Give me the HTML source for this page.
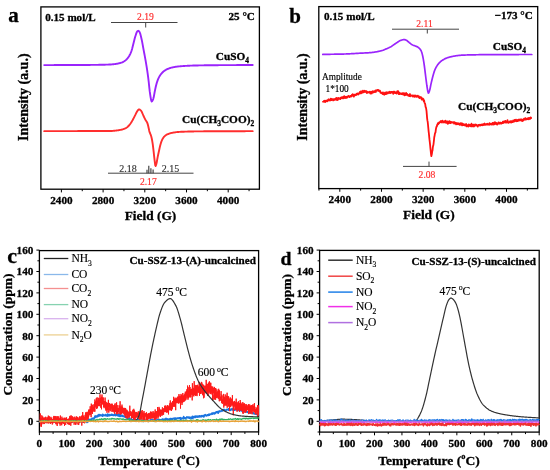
<!DOCTYPE html>
<html><head><meta charset="utf-8"><style>
html,body{margin:0;padding:0;background:#fff;}
body{width:550px;height:470px;overflow:hidden;}
svg{display:block;font-family:"Liberation Serif", serif;will-change:transform;}
</style></head><body>
<svg width="550" height="470" viewBox="0 0 550 470">
<rect width="550" height="470" fill="#fff"/>
<line x1="61.4" y1="189.2" x2="61.4" y2="192.39999999999998" stroke="#000" stroke-width="1"/>
<text x="61.4" y="204.2" font-size="11.2" font-weight="700" text-anchor="middle" fill="#000" stroke="#000" stroke-width="0.3" >2400</text>
<line x1="103.1" y1="189.2" x2="103.1" y2="192.39999999999998" stroke="#000" stroke-width="1"/>
<text x="103.1" y="204.2" font-size="11.2" font-weight="700" text-anchor="middle" fill="#000" stroke="#000" stroke-width="0.3" >2800</text>
<line x1="144.8" y1="189.2" x2="144.8" y2="192.39999999999998" stroke="#000" stroke-width="1"/>
<text x="144.8" y="204.2" font-size="11.2" font-weight="700" text-anchor="middle" fill="#000" stroke="#000" stroke-width="0.3" >3200</text>
<line x1="186.5" y1="189.2" x2="186.5" y2="192.39999999999998" stroke="#000" stroke-width="1"/>
<text x="186.5" y="204.2" font-size="11.2" font-weight="700" text-anchor="middle" fill="#000" stroke="#000" stroke-width="0.3" >3600</text>
<line x1="228.20000000000002" y1="189.2" x2="228.20000000000002" y2="192.39999999999998" stroke="#000" stroke-width="1"/>
<text x="228.20000000000002" y="204.2" font-size="11.2" font-weight="700" text-anchor="middle" fill="#000" stroke="#000" stroke-width="0.3" >4000</text>
<line x1="82.25" y1="189.2" x2="82.25" y2="191.2" stroke="#000" stroke-width="1"/>
<line x1="123.94999999999999" y1="189.2" x2="123.94999999999999" y2="191.2" stroke="#000" stroke-width="1"/>
<line x1="165.65" y1="189.2" x2="165.65" y2="191.2" stroke="#000" stroke-width="1"/>
<line x1="207.35000000000002" y1="189.2" x2="207.35000000000002" y2="191.2" stroke="#000" stroke-width="1"/>
<line x1="249.05" y1="189.2" x2="249.05" y2="191.2" stroke="#000" stroke-width="1"/>
<rect x="40.9" y="6.9" width="218.49999999999997" height="182.29999999999998" fill="none" stroke="#000" stroke-width="1.3"/>
<text x="8.3" y="22.4" font-size="21" font-weight="700" text-anchor="start" fill="#000" stroke="#000" stroke-width="0.3" >a</text>
<text x="45.2" y="20.6" font-size="11.1" font-weight="700" text-anchor="start" fill="#000" stroke="#000" stroke-width="0.3" >0.15 mol/L</text>
<text x="254.9" y="20.2" font-size="11.1" font-weight="700" text-anchor="end" fill="#000" stroke="#000" stroke-width="0.3" >25 °C</text>
<text x="150.5" y="220.2" font-size="13.4" font-weight="700" text-anchor="middle" fill="#000" stroke="#000" stroke-width="0.3" >Field (G)</text>
<text x="28.3" y="97.2" font-size="14" font-weight="700" text-anchor="middle" fill="#000" stroke="#000" stroke-width="0.3" transform="rotate(-90 28.3 97.2)">Intensity (a.u.)</text>
<line x1="111" y1="22.5" x2="177.5" y2="22.5" stroke="#444" stroke-width="1"/>
<line x1="145.7" y1="22.5" x2="145.7" y2="27.5" stroke="#444" stroke-width="1"/>
<text x="145.5" y="20.0" font-size="9.6" font-weight="400" text-anchor="middle" fill="#ff2a2a" stroke="#ff2a2a" stroke-width="0.15" >2.19</text>
<text x="249" y="59.5" font-size="11.3" font-weight="700" text-anchor="end" fill="#000" stroke="#000" stroke-width="0.3" >CuSO<tspan font-size="7.46" dy="3.39">4</tspan></text>
<text x="254.2" y="123.0" font-size="11.3" font-weight="700" text-anchor="end" fill="#000" stroke="#000" stroke-width="0.3" >Cu(CH<tspan font-size="7.46" dy="3.39">3</tspan><tspan dy="-3.39">COO)</tspan><tspan font-size="7.46" dy="3.39">2</tspan></text>
<line x1="108" y1="173.2" x2="193.5" y2="173.2" stroke="#444" stroke-width="1"/>
<line x1="147.0" y1="173.2" x2="147.0" y2="169.7" stroke="#333" stroke-width="1.1"/>
<line x1="148.8" y1="173.2" x2="148.8" y2="165.7" stroke="#333" stroke-width="1.1"/>
<line x1="150.9" y1="173.2" x2="150.9" y2="168.2" stroke="#333" stroke-width="1.1"/>
<line x1="153.1" y1="173.2" x2="153.1" y2="169.39999999999998" stroke="#333" stroke-width="1.1"/>
<text x="128" y="171.5" font-size="10" font-weight="400" text-anchor="middle" fill="#333" stroke="#333" stroke-width="0.15" >2.18</text>
<text x="170.5" y="171.5" font-size="10" font-weight="400" text-anchor="middle" fill="#333" stroke="#333" stroke-width="0.15" >2.15</text>
<text x="148.3" y="184.6" font-size="9.6" font-weight="400" text-anchor="middle" fill="#ff2a2a" stroke="#ff2a2a" stroke-width="0.15" >2.17</text>
<path d="M44.20 65.10 L44.70 65.10 L45.20 65.09 L45.70 65.09 L46.20 65.09 L46.70 65.09 L47.20 65.09 L47.70 65.09 L48.20 65.09 L48.70 65.09 L49.20 65.08 L49.70 65.08 L50.20 65.08 L50.70 65.08 L51.20 65.08 L51.70 65.08 L52.20 65.08 L52.70 65.08 L53.20 65.08 L53.70 65.08 L54.20 65.07 L54.70 65.07 L55.20 65.07 L55.70 65.07 L56.20 65.07 L56.70 65.07 L57.20 65.07 L57.70 65.07 L58.20 65.07 L58.70 65.06 L59.20 65.06 L59.70 65.06 L60.20 65.06 L60.70 65.06 L61.20 65.06 L61.70 65.06 L62.20 65.06 L62.70 65.06 L63.20 65.05 L63.70 65.05 L64.20 65.05 L64.70 65.05 L65.20 65.05 L65.70 65.05 L66.20 65.05 L66.70 65.05 L67.20 65.04 L67.70 65.04 L68.20 65.04 L68.70 65.04 L69.20 65.04 L69.70 65.04 L70.20 65.04 L70.70 65.03 L71.20 65.03 L71.70 65.03 L72.20 65.03 L72.70 65.03 L73.20 65.03 L73.70 65.02 L74.20 65.02 L74.70 65.02 L75.20 65.02 L75.70 65.02 L76.20 65.02 L76.70 65.01 L77.20 65.01 L77.70 65.01 L78.20 65.01 L78.70 65.01 L79.20 65.00 L79.70 65.00 L80.20 65.00 L80.70 65.00 L81.20 64.99 L81.70 64.99 L82.20 64.99 L82.70 64.99 L83.20 64.98 L83.70 64.98 L84.20 64.98 L84.70 64.97 L85.20 64.97 L85.70 64.97 L86.20 64.96 L86.70 64.96 L87.20 64.95 L87.70 64.95 L88.20 64.95 L88.70 64.94 L89.20 64.94 L89.70 64.93 L90.20 64.93 L90.70 64.92 L91.20 64.92 L91.70 64.91 L92.20 64.91 L92.70 64.90 L93.20 64.89 L93.70 64.89 L94.20 64.88 L94.70 64.88 L95.20 64.87 L95.70 64.86 L96.20 64.86 L96.70 64.85 L97.20 64.84 L97.70 64.83 L98.20 64.83 L98.70 64.82 L99.20 64.81 L99.70 64.80 L100.20 64.80 L100.70 64.79 L101.20 64.78 L101.70 64.77 L102.20 64.76 L102.70 64.75 L103.20 64.74 L103.70 64.73 L104.20 64.71 L104.70 64.70 L105.20 64.68 L105.70 64.67 L106.20 64.65 L106.70 64.64 L107.20 64.62 L107.70 64.60 L108.20 64.58 L108.70 64.56 L109.20 64.54 L109.70 64.51 L110.20 64.49 L110.70 64.46 L111.20 64.43 L111.70 64.39 L112.20 64.35 L112.70 64.30 L113.20 64.25 L113.70 64.19 L114.20 64.14 L114.70 64.07 L115.20 64.01 L115.70 63.94 L116.20 63.87 L116.70 63.79 L117.20 63.71 L117.70 63.61 L118.20 63.51 L118.70 63.40 L119.20 63.28 L119.70 63.15 L120.20 63.01 L120.70 62.86 L121.20 62.70 L121.70 62.53 L122.20 62.33 L122.70 62.10 L123.20 61.83 L123.70 61.55 L124.20 61.23 L124.70 60.89 L125.20 60.53 L125.70 60.14 L126.20 59.71 L126.70 59.23 L127.20 58.69 L127.70 58.10 L128.20 57.45 L128.70 56.75 L129.20 55.98 L129.70 55.09 L130.20 54.06 L130.70 52.90 L131.20 51.62 L131.70 50.20 L132.20 48.46 L132.70 46.48 L133.20 44.46 L133.70 42.54 L134.20 40.56 L134.70 38.59 L135.20 36.76 L135.70 35.19 L136.20 33.65 L136.70 32.33 L137.20 31.50 L137.70 31.05 L138.20 30.81 L138.70 30.97 L139.20 31.52 L139.70 32.27 L140.20 33.56 L140.70 35.40 L141.20 37.52 L141.70 39.68 L142.20 42.15 L142.70 44.87 L143.20 47.66 L143.70 50.37 L144.20 53.02 L144.70 55.67 L145.20 58.36 L145.70 61.16 L146.20 64.09 L146.70 67.19 L147.20 70.43 L147.70 73.87 L148.20 77.53 L148.70 81.75 L149.20 86.60 L149.70 91.13 L150.20 94.58 L150.70 97.84 L151.20 100.44 L151.70 101.50 L152.20 101.15 L152.70 100.25 L153.20 99.05 L153.70 97.31 L154.20 94.59 L154.70 91.79 L155.20 89.40 L155.70 87.05 L156.20 84.91 L156.70 83.13 L157.20 81.58 L157.70 80.19 L158.20 78.97 L158.70 77.88 L159.20 76.90 L159.70 76.00 L160.20 75.20 L160.70 74.50 L161.20 73.87 L161.70 73.27 L162.20 72.72 L162.70 72.22 L163.20 71.75 L163.70 71.33 L164.20 70.95 L164.70 70.60 L165.20 70.27 L165.70 69.97 L166.20 69.69 L166.70 69.43 L167.20 69.19 L167.70 68.97 L168.20 68.75 L168.70 68.55 L169.20 68.35 L169.70 68.17 L170.20 68.00 L170.70 67.84 L171.20 67.70 L171.70 67.57 L172.20 67.46 L172.70 67.35 L173.20 67.25 L173.70 67.15 L174.20 67.06 L174.70 66.97 L175.20 66.89 L175.70 66.81 L176.20 66.74 L176.70 66.66 L177.20 66.60 L177.70 66.53 L178.20 66.48 L178.70 66.42 L179.20 66.37 L179.70 66.33 L180.20 66.28 L180.70 66.24 L181.20 66.20 L181.70 66.17 L182.20 66.13 L182.70 66.09 L183.20 66.06 L183.70 66.02 L184.20 65.99 L184.70 65.95 L185.20 65.92 L185.70 65.89 L186.20 65.86 L186.70 65.83 L187.20 65.81 L187.70 65.78 L188.20 65.75 L188.70 65.73 L189.20 65.71 L189.70 65.68 L190.20 65.66 L190.70 65.64 L191.20 65.62 L191.70 65.60 L192.20 65.58 L192.70 65.57 L193.20 65.55 L193.70 65.53 L194.20 65.52 L194.70 65.51 L195.20 65.50 L195.70 65.48 L196.20 65.47 L196.70 65.46 L197.20 65.45 L197.70 65.44 L198.20 65.43 L198.70 65.42 L199.20 65.41 L199.70 65.40 L200.20 65.39 L200.70 65.38 L201.20 65.37 L201.70 65.36 L202.20 65.35 L202.70 65.35 L203.20 65.34 L203.70 65.33 L204.20 65.32 L204.70 65.31 L205.20 65.31 L205.70 65.30 L206.20 65.29 L206.70 65.29 L207.20 65.28 L207.70 65.27 L208.20 65.27 L208.70 65.26 L209.20 65.26 L209.70 65.25 L210.20 65.25 L210.70 65.24 L211.20 65.23 L211.70 65.23 L212.20 65.22 L212.70 65.22 L213.20 65.22 L213.70 65.21 L214.20 65.21 L214.70 65.20 L215.20 65.20 L215.70 65.19 L216.20 65.19 L216.70 65.19 L217.20 65.18 L217.70 65.18 L218.20 65.18 L218.70 65.17 L219.20 65.17 L219.70 65.16 L220.20 65.16 L220.70 65.16 L221.20 65.15 L221.70 65.15 L222.20 65.15 L222.70 65.15 L223.20 65.14 L223.70 65.14 L224.20 65.14 L224.70 65.13 L225.20 65.13 L225.70 65.13 L226.20 65.12 L226.70 65.12 L227.20 65.12 L227.70 65.12 L228.20 65.11 L228.70 65.11 L229.20 65.11 L229.70 65.11 L230.20 65.10 L230.70 65.10 L231.20 65.10 L231.70 65.10 L232.20 65.09 L232.70 65.09 L233.20 65.09 L233.70 65.09 L234.20 65.09 L234.70 65.08 L235.20 65.08 L235.70 65.08 L236.20 65.08 L236.70 65.07 L237.20 65.07 L237.70 65.07 L238.20 65.07 L238.70 65.07 L239.20 65.06 L239.70 65.06 L240.20 65.06 L240.70 65.06 L241.20 65.05 L241.70 65.05 L242.20 65.05 L242.70 65.05 L243.20 65.05 L243.70 65.04 L244.20 65.04 L244.70 65.04 L245.20 65.04 L245.70 65.04 L246.20 65.03 L246.70 65.03 L247.20 65.03 L247.70 65.03 L248.20 65.02 L248.70 65.02 L249.20 65.02 L249.70 65.02 L250.20 65.01 L250.70 65.01 L251.20 65.01 L251.70 65.01 L252.20 65.00 L252.70 65.00" fill="none" stroke="#9a24fc" stroke-width="1.9" stroke-linejoin="round" stroke-linecap="round" />
<path d="M44.20 131.15 L44.70 131.15 L45.20 131.15 L45.70 131.15 L46.20 131.14 L46.70 131.14 L47.20 131.14 L47.70 131.14 L48.20 131.14 L48.70 131.14 L49.20 131.14 L49.70 131.14 L50.20 131.14 L50.70 131.13 L51.20 131.13 L51.70 131.13 L52.20 131.13 L52.70 131.13 L53.20 131.13 L53.70 131.13 L54.20 131.13 L54.70 131.13 L55.20 131.12 L55.70 131.12 L56.20 131.12 L56.70 131.12 L57.20 131.12 L57.70 131.12 L58.20 131.12 L58.70 131.12 L59.20 131.12 L59.70 131.11 L60.20 131.11 L60.70 131.11 L61.20 131.11 L61.70 131.11 L62.20 131.11 L62.70 131.11 L63.20 131.11 L63.70 131.11 L64.20 131.10 L64.70 131.10 L65.20 131.10 L65.70 131.10 L66.20 131.10 L66.70 131.10 L67.20 131.10 L67.70 131.10 L68.20 131.09 L68.70 131.09 L69.20 131.09 L69.70 131.09 L70.20 131.09 L70.70 131.09 L71.20 131.09 L71.70 131.09 L72.20 131.09 L72.70 131.08 L73.20 131.08 L73.70 131.08 L74.20 131.08 L74.70 131.08 L75.20 131.08 L75.70 131.08 L76.20 131.08 L76.70 131.08 L77.20 131.08 L77.70 131.07 L78.20 131.07 L78.70 131.07 L79.20 131.07 L79.70 131.07 L80.20 131.07 L80.70 131.07 L81.20 131.07 L81.70 131.07 L82.20 131.07 L82.70 131.07 L83.20 131.06 L83.70 131.06 L84.20 131.06 L84.70 131.06 L85.20 131.06 L85.70 131.06 L86.20 131.06 L86.70 131.06 L87.20 131.06 L87.70 131.06 L88.20 131.06 L88.70 131.06 L89.20 131.06 L89.70 131.06 L90.20 131.06 L90.70 131.05 L91.20 131.05 L91.70 131.05 L92.20 131.05 L92.70 131.05 L93.20 131.05 L93.70 131.05 L94.20 131.05 L94.70 131.05 L95.20 131.05 L95.70 131.05 L96.20 131.05 L96.70 131.05 L97.20 131.05 L97.70 131.05 L98.20 131.05 L98.70 131.05 L99.20 131.05 L99.70 131.05 L100.20 131.05 L100.70 131.05 L101.20 131.05 L101.70 131.05 L102.20 131.05 L102.70 131.05 L103.20 131.05 L103.70 131.05 L104.20 131.05 L104.70 131.05 L105.20 131.05 L105.70 131.05 L106.20 131.05 L106.70 131.05 L107.20 131.05 L107.70 131.05 L108.20 131.05 L108.70 131.05 L109.20 131.05 L109.70 131.05 L110.20 131.05 L110.70 131.04 L111.20 131.02 L111.70 130.99 L112.20 130.95 L112.70 130.91 L113.20 130.86 L113.70 130.81 L114.20 130.76 L114.70 130.70 L115.20 130.64 L115.70 130.58 L116.20 130.53 L116.70 130.47 L117.20 130.41 L117.70 130.34 L118.20 130.27 L118.70 130.19 L119.20 130.11 L119.70 130.02 L120.20 129.93 L120.70 129.83 L121.20 129.72 L121.70 129.60 L122.20 129.47 L122.70 129.33 L123.20 129.17 L123.70 128.99 L124.20 128.79 L124.70 128.58 L125.20 128.35 L125.70 128.11 L126.20 127.84 L126.70 127.52 L127.20 127.15 L127.70 126.73 L128.20 126.26 L128.70 125.77 L129.20 125.24 L129.70 124.64 L130.20 123.97 L130.70 123.23 L131.20 122.45 L131.70 121.64 L132.20 120.82 L132.70 119.95 L133.20 119.03 L133.70 118.07 L134.20 117.10 L134.70 116.13 L135.20 115.16 L135.70 114.11 L136.20 113.06 L136.70 112.13 L137.20 111.35 L137.70 110.57 L138.20 109.88 L138.70 109.43 L139.20 109.37 L139.70 109.56 L140.20 109.91 L140.70 110.36 L141.20 110.88 L141.70 111.71 L142.20 112.80 L142.70 114.01 L143.20 115.20 L143.70 116.26 L144.20 117.29 L144.70 118.31 L145.20 119.29 L145.70 120.19 L146.20 120.94 L146.70 121.68 L147.20 122.62 L147.70 124.07 L148.20 126.09 L148.70 128.24 L149.20 130.65 L149.70 132.45 L150.20 133.64 L150.70 134.73 L151.20 136.19 L151.70 138.24 L152.20 140.79 L152.70 143.96 L153.20 147.87 L153.70 152.10 L154.20 156.89 L154.70 161.14 L155.20 165.15 L155.70 165.98 L156.20 164.50 L156.70 162.48 L157.20 159.62 L157.70 156.86 L158.20 154.53 L158.70 152.30 L159.20 149.99 L159.70 147.62 L160.20 145.45 L160.70 143.70 L161.20 142.16 L161.70 140.79 L162.20 139.62 L162.70 138.68 L163.20 137.90 L163.70 137.21 L164.20 136.62 L164.70 136.11 L165.20 135.69 L165.70 135.31 L166.20 134.98 L166.70 134.69 L167.20 134.44 L167.70 134.22 L168.20 134.01 L168.70 133.81 L169.20 133.63 L169.70 133.45 L170.20 133.29 L170.70 133.15 L171.20 133.02 L171.70 132.91 L172.20 132.81 L172.70 132.72 L173.20 132.63 L173.70 132.55 L174.20 132.47 L174.70 132.39 L175.20 132.32 L175.70 132.25 L176.20 132.18 L176.70 132.12 L177.20 132.07 L177.70 132.02 L178.20 131.97 L178.70 131.93 L179.20 131.89 L179.70 131.86 L180.20 131.84 L180.70 131.82 L181.20 131.80 L181.70 131.78 L182.20 131.75 L182.70 131.73 L183.20 131.71 L183.70 131.70 L184.20 131.68 L184.70 131.66 L185.20 131.64 L185.70 131.63 L186.20 131.61 L186.70 131.59 L187.20 131.58 L187.70 131.56 L188.20 131.55 L188.70 131.54 L189.20 131.52 L189.70 131.51 L190.20 131.50 L190.70 131.49 L191.20 131.48 L191.70 131.47 L192.20 131.45 L192.70 131.45 L193.20 131.44 L193.70 131.43 L194.20 131.42 L194.70 131.41 L195.20 131.40 L195.70 131.40 L196.20 131.39 L196.70 131.38 L197.20 131.38 L197.70 131.37 L198.20 131.37 L198.70 131.36 L199.20 131.36 L199.70 131.35 L200.20 131.35 L200.70 131.34 L201.20 131.34 L201.70 131.34 L202.20 131.33 L202.70 131.33 L203.20 131.33 L203.70 131.32 L204.20 131.32 L204.70 131.32 L205.20 131.32 L205.70 131.31 L206.20 131.31 L206.70 131.31 L207.20 131.30 L207.70 131.30 L208.20 131.30 L208.70 131.30 L209.20 131.29 L209.70 131.29 L210.20 131.29 L210.70 131.29 L211.20 131.28 L211.70 131.28 L212.20 131.28 L212.70 131.28 L213.20 131.27 L213.70 131.27 L214.20 131.27 L214.70 131.27 L215.20 131.26 L215.70 131.26 L216.20 131.26 L216.70 131.26 L217.20 131.26 L217.70 131.25 L218.20 131.25 L218.70 131.25 L219.20 131.25 L219.70 131.25 L220.20 131.25 L220.70 131.24 L221.20 131.24 L221.70 131.24 L222.20 131.24 L222.70 131.24 L223.20 131.24 L223.70 131.23 L224.20 131.23 L224.70 131.23 L225.20 131.23 L225.70 131.23 L226.20 131.23 L226.70 131.23 L227.20 131.22 L227.70 131.22 L228.20 131.22 L228.70 131.22 L229.20 131.22 L229.70 131.22 L230.20 131.22 L230.70 131.21 L231.20 131.21 L231.70 131.21 L232.20 131.21 L232.70 131.21 L233.20 131.21 L233.70 131.21 L234.20 131.21 L234.70 131.20 L235.20 131.20 L235.70 131.20 L236.20 131.20 L236.70 131.20 L237.20 131.20 L237.70 131.20 L238.20 131.20 L238.70 131.19 L239.20 131.19 L239.70 131.19 L240.20 131.19 L240.70 131.19 L241.20 131.19 L241.70 131.19 L242.20 131.18 L242.70 131.18 L243.20 131.18 L243.70 131.18 L244.20 131.18 L244.70 131.18 L245.20 131.18 L245.70 131.17 L246.20 131.17 L246.70 131.17 L247.20 131.17 L247.70 131.17 L248.20 131.17 L248.70 131.17 L249.20 131.16 L249.70 131.16 L250.20 131.16 L250.70 131.16 L251.20 131.16 L251.70 131.15 L252.20 131.15 L252.70 131.15" fill="none" stroke="#ff2e2e" stroke-width="1.9" stroke-linejoin="round" stroke-linecap="round" />
<line x1="339.8" y1="188.6" x2="339.8" y2="191.79999999999998" stroke="#000" stroke-width="1"/>
<text x="339.8" y="203.1" font-size="11.2" font-weight="700" text-anchor="middle" fill="#000" stroke="#000" stroke-width="0.3" >2400</text>
<line x1="381.475" y1="188.6" x2="381.475" y2="191.79999999999998" stroke="#000" stroke-width="1"/>
<text x="381.475" y="203.1" font-size="11.2" font-weight="700" text-anchor="middle" fill="#000" stroke="#000" stroke-width="0.3" >2800</text>
<line x1="423.15" y1="188.6" x2="423.15" y2="191.79999999999998" stroke="#000" stroke-width="1"/>
<text x="423.15" y="203.1" font-size="11.2" font-weight="700" text-anchor="middle" fill="#000" stroke="#000" stroke-width="0.3" >3200</text>
<line x1="464.82500000000005" y1="188.6" x2="464.82500000000005" y2="191.79999999999998" stroke="#000" stroke-width="1"/>
<text x="464.82500000000005" y="203.1" font-size="11.2" font-weight="700" text-anchor="middle" fill="#000" stroke="#000" stroke-width="0.3" >3600</text>
<line x1="506.5" y1="188.6" x2="506.5" y2="191.79999999999998" stroke="#000" stroke-width="1"/>
<text x="506.5" y="203.1" font-size="11.2" font-weight="700" text-anchor="middle" fill="#000" stroke="#000" stroke-width="0.3" >4000</text>
<line x1="318.96250000000003" y1="188.6" x2="318.96250000000003" y2="190.6" stroke="#000" stroke-width="1"/>
<line x1="360.6375" y1="188.6" x2="360.6375" y2="190.6" stroke="#000" stroke-width="1"/>
<line x1="402.3125" y1="188.6" x2="402.3125" y2="190.6" stroke="#000" stroke-width="1"/>
<line x1="443.9875" y1="188.6" x2="443.9875" y2="190.6" stroke="#000" stroke-width="1"/>
<line x1="485.6625" y1="188.6" x2="485.6625" y2="190.6" stroke="#000" stroke-width="1"/>
<line x1="527.3375" y1="188.6" x2="527.3375" y2="190.6" stroke="#000" stroke-width="1"/>
<rect x="318.8" y="6.6" width="218.90000000000003" height="182.0" fill="none" stroke="#000" stroke-width="1.3"/>
<text x="289.3" y="22.6" font-size="21" font-weight="700" text-anchor="start" fill="#000" stroke="#000" stroke-width="0.3" >b</text>
<text x="324" y="19.8" font-size="11.1" font-weight="700" text-anchor="start" fill="#000" stroke="#000" stroke-width="0.3" >0.15 mol/L</text>
<text x="532.8" y="19.4" font-size="11.1" font-weight="700" text-anchor="end" fill="#000" stroke="#000" stroke-width="0.3" >−173 °C</text>
<text x="428.9" y="219.3" font-size="13.4" font-weight="700" text-anchor="middle" fill="#000" stroke="#000" stroke-width="0.3" >Field (G)</text>
<text x="307" y="97" font-size="14" font-weight="700" text-anchor="middle" fill="#000" stroke="#000" stroke-width="0.3" transform="rotate(-90 307 97)">Intensity (a.u.)</text>
<line x1="392" y1="29.2" x2="459" y2="29.2" stroke="#444" stroke-width="1"/>
<line x1="427.3" y1="29.2" x2="427.3" y2="33.5" stroke="#444" stroke-width="1"/>
<text x="424.5" y="26.7" font-size="9.6" font-weight="400" text-anchor="middle" fill="#ff2a2a" stroke="#ff2a2a" stroke-width="0.15" >2.11</text>
<text x="526" y="49.9" font-size="11.3" font-weight="700" text-anchor="end" fill="#000" stroke="#000" stroke-width="0.3" >CuSO<tspan font-size="7.46" dy="3.39">4</tspan></text>
<text x="530.2" y="109.8" font-size="11.3" font-weight="700" text-anchor="end" fill="#000" stroke="#000" stroke-width="0.3" >Cu(CH<tspan font-size="7.46" dy="3.39">3</tspan><tspan dy="-3.39">COO)</tspan><tspan font-size="7.46" dy="3.39">2</tspan></text>
<line x1="403" y1="166.4" x2="456.6" y2="166.4" stroke="#444" stroke-width="1"/>
<line x1="429" y1="166.4" x2="429" y2="161.6" stroke="#444" stroke-width="1"/>
<text x="427" y="177.7" font-size="9.6" font-weight="400" text-anchor="middle" fill="#ff2a2a" stroke="#ff2a2a" stroke-width="0.15" >2.08</text>
<text x="322" y="79.8" font-size="9.3" font-weight="400" text-anchor="start" fill="#000" stroke="#000" stroke-width="0.15" >Amplitude</text>
<text x="325.5" y="91.6" font-size="9.3" font-weight="400" text-anchor="start" fill="#000" stroke="#000" stroke-width="0.15" >1*100</text>
<path d="M322.80 54.40 L323.30 54.39 L323.80 54.38 L324.30 54.37 L324.80 54.37 L325.30 54.36 L325.80 54.35 L326.30 54.34 L326.80 54.33 L327.30 54.33 L327.80 54.32 L328.30 54.31 L328.80 54.30 L329.30 54.30 L329.80 54.29 L330.30 54.28 L330.80 54.27 L331.30 54.27 L331.80 54.26 L332.30 54.25 L332.80 54.24 L333.30 54.24 L333.80 54.23 L334.30 54.22 L334.80 54.21 L335.30 54.20 L335.80 54.20 L336.30 54.19 L336.80 54.18 L337.30 54.17 L337.80 54.16 L338.30 54.15 L338.80 54.14 L339.30 54.13 L339.80 54.12 L340.30 54.11 L340.80 54.10 L341.30 54.09 L341.80 54.08 L342.30 54.07 L342.80 54.06 L343.30 54.04 L343.80 54.03 L344.30 54.02 L344.80 54.01 L345.30 53.99 L345.80 53.98 L346.30 53.96 L346.80 53.94 L347.30 53.92 L347.80 53.90 L348.30 53.88 L348.80 53.85 L349.30 53.83 L349.80 53.80 L350.30 53.77 L350.80 53.75 L351.30 53.72 L351.80 53.69 L352.30 53.66 L352.80 53.63 L353.30 53.60 L353.80 53.57 L354.30 53.54 L354.80 53.51 L355.30 53.48 L355.80 53.45 L356.30 53.42 L356.80 53.39 L357.30 53.36 L357.80 53.33 L358.30 53.30 L358.80 53.27 L359.30 53.24 L359.80 53.21 L360.30 53.18 L360.80 53.16 L361.30 53.13 L361.80 53.11 L362.30 53.09 L362.80 53.06 L363.30 53.04 L363.80 53.02 L364.30 53.00 L364.80 52.97 L365.30 52.95 L365.80 52.92 L366.30 52.90 L366.80 52.87 L367.30 52.85 L367.80 52.82 L368.30 52.79 L368.80 52.76 L369.30 52.72 L369.80 52.69 L370.30 52.65 L370.80 52.61 L371.30 52.56 L371.80 52.52 L372.30 52.46 L372.80 52.40 L373.30 52.34 L373.80 52.27 L374.30 52.19 L374.80 52.11 L375.30 52.03 L375.80 51.94 L376.30 51.85 L376.80 51.75 L377.30 51.65 L377.80 51.55 L378.30 51.44 L378.80 51.33 L379.30 51.22 L379.80 51.10 L380.30 50.98 L380.80 50.86 L381.30 50.73 L381.80 50.60 L382.30 50.46 L382.80 50.30 L383.30 50.12 L383.80 49.92 L384.30 49.72 L384.80 49.51 L385.30 49.30 L385.80 49.08 L386.30 48.87 L386.80 48.66 L387.30 48.45 L387.80 48.23 L388.30 48.00 L388.80 47.77 L389.30 47.52 L389.80 47.27 L390.30 47.01 L390.80 46.73 L391.30 46.43 L391.80 46.10 L392.30 45.77 L392.80 45.42 L393.30 45.08 L393.80 44.73 L394.30 44.40 L394.80 44.06 L395.30 43.71 L395.80 43.36 L396.30 43.02 L396.80 42.69 L397.30 42.37 L397.80 42.04 L398.30 41.71 L398.80 41.38 L399.30 41.07 L399.80 40.80 L400.30 40.57 L400.80 40.40 L401.30 40.22 L401.80 40.06 L402.30 39.90 L402.80 39.78 L403.30 39.68 L403.80 39.62 L404.30 39.60 L404.80 39.67 L405.30 39.81 L405.80 39.99 L406.30 40.20 L406.80 40.49 L407.30 40.90 L407.80 41.33 L408.30 41.75 L408.80 42.18 L409.30 42.62 L409.80 43.04 L410.30 43.43 L410.80 43.81 L411.30 44.18 L411.80 44.51 L412.30 44.80 L412.80 45.04 L413.30 45.25 L413.80 45.44 L414.30 45.63 L414.80 45.82 L415.30 46.02 L415.80 46.21 L416.30 46.40 L416.80 46.61 L417.30 46.83 L417.80 47.10 L418.30 47.42 L418.80 47.81 L419.30 48.27 L419.80 48.80 L420.30 49.43 L420.80 50.21 L421.30 51.20 L421.80 52.57 L422.30 54.38 L422.80 56.50 L423.30 59.06 L423.80 62.14 L424.30 65.50 L424.80 69.28 L425.30 73.45 L425.80 77.50 L426.30 81.45 L426.80 85.25 L427.30 88.37 L427.80 91.33 L428.30 93.14 L428.80 92.77 L429.30 91.43 L429.80 89.81 L430.30 87.49 L430.80 84.93 L431.30 82.68 L431.80 80.51 L432.30 78.43 L432.80 76.50 L433.30 74.68 L433.80 72.95 L434.30 71.38 L434.80 70.06 L435.30 68.91 L435.80 67.88 L436.30 66.96 L436.80 66.12 L437.30 65.34 L437.80 64.63 L438.30 63.96 L438.80 63.36 L439.30 62.80 L439.80 62.31 L440.30 61.85 L440.80 61.43 L441.30 61.04 L441.80 60.67 L442.30 60.33 L442.80 60.01 L443.30 59.70 L443.80 59.40 L444.30 59.12 L444.80 58.85 L445.30 58.61 L445.80 58.38 L446.30 58.18 L446.80 57.99 L447.30 57.81 L447.80 57.64 L448.30 57.47 L448.80 57.32 L449.30 57.18 L449.80 57.05 L450.30 56.93 L450.80 56.81 L451.30 56.70 L451.80 56.59 L452.30 56.49 L452.80 56.39 L453.30 56.29 L453.80 56.20 L454.30 56.12 L454.80 56.03 L455.30 55.95 L455.80 55.87 L456.30 55.78 L456.80 55.70 L457.30 55.62 L457.80 55.54 L458.30 55.47 L458.80 55.41 L459.30 55.36 L459.80 55.31 L460.30 55.28 L460.80 55.25 L461.30 55.22 L461.80 55.19 L462.30 55.17 L462.80 55.14 L463.30 55.12 L463.80 55.09 L464.30 55.07 L464.80 55.05 L465.30 55.03 L465.80 55.02 L466.30 55.00 L466.80 54.98 L467.30 54.97 L467.80 54.96 L468.30 54.94 L468.80 54.93 L469.30 54.92 L469.80 54.90 L470.30 54.89 L470.80 54.88 L471.30 54.87 L471.80 54.86 L472.30 54.85 L472.80 54.84 L473.30 54.83 L473.80 54.82 L474.30 54.81 L474.80 54.80 L475.30 54.79 L475.80 54.78 L476.30 54.77 L476.80 54.76 L477.30 54.75 L477.80 54.74 L478.30 54.73 L478.80 54.72 L479.30 54.71 L479.80 54.71 L480.30 54.70 L480.80 54.69 L481.30 54.68 L481.80 54.68 L482.30 54.67 L482.80 54.66 L483.30 54.66 L483.80 54.65 L484.30 54.65 L484.80 54.64 L485.30 54.63 L485.80 54.63 L486.30 54.63 L486.80 54.62 L487.30 54.62 L487.80 54.61 L488.30 54.61 L488.80 54.61 L489.30 54.60 L489.80 54.60 L490.30 54.60 L490.80 54.60 L491.30 54.59 L491.80 54.59 L492.30 54.59 L492.80 54.59 L493.30 54.59 L493.80 54.58 L494.30 54.58 L494.80 54.58 L495.30 54.58 L495.80 54.58 L496.30 54.58 L496.80 54.57 L497.30 54.57 L497.80 54.57 L498.30 54.57 L498.80 54.57 L499.30 54.57 L499.80 54.56 L500.30 54.56 L500.80 54.56 L501.30 54.56 L501.80 54.56 L502.30 54.56 L502.80 54.56 L503.30 54.56 L503.80 54.55 L504.30 54.55 L504.80 54.55 L505.30 54.55 L505.80 54.55 L506.30 54.55 L506.80 54.55 L507.30 54.55 L507.80 54.55 L508.30 54.54 L508.80 54.54 L509.30 54.54 L509.80 54.54 L510.30 54.54 L510.80 54.54 L511.30 54.54 L511.80 54.54 L512.30 54.54 L512.80 54.54 L513.30 54.53 L513.80 54.53 L514.30 54.53 L514.80 54.53 L515.30 54.53 L515.80 54.53 L516.30 54.53 L516.80 54.53 L517.30 54.53 L517.80 54.53 L518.30 54.53 L518.80 54.53 L519.30 54.52 L519.80 54.52 L520.30 54.52 L520.80 54.52 L521.30 54.52 L521.80 54.52 L522.30 54.52 L522.80 54.52 L523.30 54.52 L523.80 54.52 L524.30 54.52 L524.80 54.51 L525.30 54.51 L525.80 54.51 L526.30 54.51 L526.80 54.51 L527.30 54.51 L527.80 54.51 L528.30 54.51 L528.80 54.51 L529.30 54.51 L529.80 54.51 L530.30 54.50 L530.80 54.50 L531.30 54.50 L531.80 54.50" fill="none" stroke="#9a24fc" stroke-width="1.7" stroke-linejoin="round" stroke-linecap="round" />
<path d="M323.00 101.63 L323.30 101.77 L323.60 101.35 L323.90 100.89 L324.20 101.13 L324.50 100.73 L324.80 101.36 L325.10 102.14 L325.40 100.90 L325.70 100.77 L326.00 101.44 L326.30 101.30 L326.60 101.08 L326.90 100.36 L327.20 100.89 L327.50 101.31 L327.80 99.93 L328.10 100.45 L328.40 99.46 L328.70 99.81 L329.00 99.39 L329.30 100.38 L329.60 99.65 L329.90 100.60 L330.20 100.46 L330.50 100.18 L330.80 98.61 L331.10 99.83 L331.40 100.09 L331.70 100.13 L332.00 99.00 L332.30 99.62 L332.60 99.23 L332.90 99.27 L333.20 100.42 L333.50 99.14 L333.80 99.58 L334.10 100.11 L334.40 99.09 L334.70 99.33 L335.00 99.41 L335.30 99.31 L335.60 98.41 L335.90 99.19 L336.20 99.95 L336.50 98.00 L336.80 99.50 L337.10 98.95 L337.40 98.39 L337.70 100.05 L338.00 99.18 L338.30 97.84 L338.60 98.61 L338.90 98.87 L339.20 98.32 L339.50 98.82 L339.80 98.28 L340.10 98.70 L340.40 99.14 L340.70 97.71 L341.00 98.22 L341.30 97.73 L341.60 98.06 L341.90 97.14 L342.20 97.48 L342.50 97.67 L342.80 98.33 L343.10 98.43 L343.40 96.76 L343.70 97.05 L344.00 97.93 L344.30 96.15 L344.60 97.08 L344.90 97.26 L345.20 98.07 L345.50 97.64 L345.80 96.92 L346.10 96.83 L346.40 96.84 L346.70 97.93 L347.00 96.60 L347.30 96.61 L347.60 96.98 L347.90 96.60 L348.20 96.49 L348.50 95.82 L348.80 96.47 L349.10 96.13 L349.40 97.10 L349.70 96.70 L350.00 96.19 L350.30 96.57 L350.60 95.85 L350.90 96.68 L351.20 95.92 L351.50 96.23 L351.80 94.94 L352.10 95.93 L352.40 94.53 L352.70 94.23 L353.00 95.27 L353.30 94.81 L353.60 95.42 L353.90 96.69 L354.20 94.61 L354.50 94.67 L354.80 95.12 L355.10 95.23 L355.40 94.71 L355.70 94.60 L356.00 95.10 L356.30 94.89 L356.60 93.79 L356.90 94.32 L357.20 94.29 L357.50 93.49 L357.80 94.24 L358.10 93.41 L358.40 94.49 L358.70 93.87 L359.00 93.68 L359.30 93.12 L359.60 93.30 L359.90 91.95 L360.20 92.38 L360.50 93.22 L360.80 91.47 L361.10 93.27 L361.40 91.44 L361.70 92.93 L362.00 91.75 L362.30 92.65 L362.60 92.04 L362.90 90.75 L363.20 92.37 L363.50 92.33 L363.80 91.23 L364.10 91.03 L364.40 91.11 L364.70 90.64 L365.00 92.09 L365.30 91.15 L365.60 91.61 L365.90 91.28 L366.20 91.53 L366.50 91.23 L366.80 92.98 L367.10 92.12 L367.40 92.89 L367.70 92.31 L368.00 91.90 L368.30 92.18 L368.60 92.06 L368.90 92.47 L369.20 92.25 L369.50 92.33 L369.80 91.65 L370.10 92.04 L370.40 93.66 L370.70 92.16 L371.00 91.91 L371.30 92.82 L371.60 93.49 L371.90 91.59 L372.20 92.35 L372.50 92.00 L372.80 91.18 L373.10 92.70 L373.40 92.10 L373.70 92.05 L374.00 91.40 L374.30 92.06 L374.60 91.30 L374.90 91.44 L375.20 90.70 L375.50 90.48 L375.80 91.97 L376.10 90.59 L376.40 90.92 L376.70 90.52 L377.00 90.09 L377.30 89.89 L377.60 90.52 L377.90 89.83 L378.20 89.90 L378.50 90.08 L378.80 91.00 L379.10 90.94 L379.40 91.06 L379.70 90.80 L380.00 90.62 L380.30 92.47 L380.60 92.77 L380.90 92.26 L381.20 92.84 L381.50 93.12 L381.80 93.28 L382.10 93.46 L382.40 92.68 L382.70 94.07 L383.00 92.38 L383.30 93.84 L383.60 93.68 L383.90 94.00 L384.20 94.72 L384.50 94.51 L384.80 92.83 L385.10 92.50 L385.40 94.13 L385.70 92.93 L386.00 93.56 L386.30 94.08 L386.60 92.43 L386.90 92.08 L387.20 93.57 L387.50 93.37 L387.80 93.12 L388.10 93.24 L388.40 92.58 L388.70 92.09 L389.00 92.89 L389.30 92.30 L389.60 91.80 L389.90 93.13 L390.20 92.70 L390.50 92.95 L390.80 91.99 L391.10 92.16 L391.40 91.90 L391.70 91.95 L392.00 92.63 L392.30 91.99 L392.60 92.73 L392.90 92.73 L393.20 93.84 L393.50 91.63 L393.80 93.13 L394.10 92.52 L394.40 92.60 L394.70 91.69 L395.00 92.37 L395.30 93.18 L395.60 92.69 L395.90 92.83 L396.20 92.63 L396.50 93.61 L396.80 92.89 L397.10 91.52 L397.40 92.55 L397.70 91.77 L398.00 90.98 L398.30 92.80 L398.60 94.06 L398.90 93.27 L399.20 92.52 L399.50 92.72 L399.80 94.11 L400.10 93.52 L400.40 93.49 L400.70 93.47 L401.00 93.58 L401.30 94.13 L401.60 94.01 L401.90 93.85 L402.20 93.08 L402.50 94.15 L402.80 93.43 L403.10 94.64 L403.40 93.16 L403.70 93.95 L404.00 94.10 L404.30 93.30 L404.60 95.34 L404.90 95.23 L405.20 94.04 L405.50 94.90 L405.80 94.70 L406.10 92.82 L406.40 94.74 L406.70 94.59 L407.00 94.75 L407.30 94.05 L407.60 94.63 L407.90 94.74 L408.20 95.69 L408.50 95.18 L408.80 95.01 L409.10 96.06 L409.40 94.75 L409.70 94.91 L410.00 94.02 L410.30 96.27 L410.60 95.92 L410.90 95.93 L411.20 95.81 L411.50 95.49 L411.80 95.61 L412.10 95.35 L412.40 95.42 L412.70 95.63 L413.00 96.63 L413.30 96.05 L413.60 95.70 L413.90 95.42 L414.20 95.43 L414.50 96.94 L414.80 96.29 L415.10 96.06 L415.40 95.86 L415.70 95.42 L416.00 96.16 L416.30 96.84 L416.60 96.08 L416.90 96.25 L417.20 96.33 L417.50 96.62 L417.80 95.59 L418.10 96.55 L418.40 96.23 L418.70 97.45 L419.00 96.47 L419.30 97.45 L419.60 98.17 L419.90 97.09 L420.20 97.02 L420.50 97.67 L420.80 97.69 L421.10 97.23 L421.40 98.37 L421.70 99.61 L422.00 98.37 L422.30 98.67 L422.60 98.41 L422.90 99.60 L423.20 98.91 L423.50 99.36 L423.80 101.33 L424.10 100.40 L424.40 102.26 L424.70 103.24 L425.00 103.36 L425.30 104.77 L425.60 107.10 L425.90 107.31 L426.20 108.90 L426.50 110.79 L426.80 114.39 L427.10 118.07 L427.40 120.40 L427.70 121.91 L428.00 124.76 L428.30 127.81 L428.60 131.12 L428.90 133.65 L429.20 136.80 L429.50 139.70 L429.80 142.06 L430.10 144.87 L430.40 148.05 L430.70 150.94 L431.00 153.84 L431.30 156.11 L431.60 155.16 L431.90 153.79 L432.20 151.13 L432.50 150.79 L432.80 147.57 L433.10 145.84 L433.40 145.00 L433.70 142.58 L434.00 139.90 L434.30 136.90 L434.60 135.80 L434.90 133.71 L435.20 132.86 L435.50 132.47 L435.80 129.91 L436.10 128.15 L436.40 126.90 L436.70 126.74 L437.00 125.89 L437.30 124.53 L437.60 124.65 L437.90 123.20 L438.20 124.15 L438.50 123.76 L438.80 123.58 L439.10 122.40 L439.40 122.88 L439.70 122.32 L440.00 122.02 L440.30 121.94 L440.60 121.21 L440.90 121.03 L441.20 122.42 L441.50 121.73 L441.80 121.96 L442.10 122.45 L442.40 120.67 L442.70 121.29 L443.00 121.92 L443.30 122.07 L443.60 121.58 L443.90 122.51 L444.20 121.99 L444.50 121.09 L444.80 121.29 L445.10 122.44 L445.40 122.24 L445.70 120.73 L446.00 122.86 L446.30 122.40 L446.60 122.92 L446.90 121.82 L447.20 121.91 L447.50 121.40 L447.80 123.81 L448.10 122.08 L448.40 123.26 L448.70 121.84 L449.00 122.40 L449.30 121.24 L449.60 122.11 L449.90 123.03 L450.20 121.61 L450.50 123.15 L450.80 122.71 L451.10 121.86 L451.40 122.25 L451.70 122.33 L452.00 122.64 L452.30 122.37 L452.60 122.24 L452.90 122.63 L453.20 122.21 L453.50 122.10 L453.80 122.96 L454.10 123.62 L454.40 122.12 L454.70 123.17 L455.00 122.80 L455.30 122.65 L455.60 123.90 L455.90 123.07 L456.20 124.44 L456.50 123.01 L456.80 123.83 L457.10 123.49 L457.40 123.20 L457.70 124.13 L458.00 123.70 L458.30 124.25 L458.60 123.88 L458.90 123.26 L459.20 123.96 L459.50 124.12 L459.80 124.77 L460.10 123.62 L460.40 124.24 L460.70 123.21 L461.00 124.82 L461.30 123.75 L461.60 123.34 L461.90 124.54 L462.20 125.35 L462.50 123.70 L462.80 124.04 L463.10 124.32 L463.40 124.13 L463.70 125.16 L464.00 124.43 L464.30 124.54 L464.60 125.43 L464.90 124.60 L465.20 125.40 L465.50 124.52 L465.80 124.40 L466.10 124.01 L466.40 126.44 L466.70 125.05 L467.00 125.44 L467.30 125.28 L467.60 125.43 L467.90 125.38 L468.20 126.61 L468.50 124.71 L468.80 124.39 L469.10 124.77 L469.40 124.58 L469.70 125.95 L470.00 126.01 L470.30 124.87 L470.60 124.61 L470.90 125.30 L471.20 126.44 L471.50 123.72 L471.80 125.90 L472.10 124.87 L472.40 126.26 L472.70 124.89 L473.00 125.41 L473.30 124.62 L473.60 124.96 L473.90 126.50 L474.20 126.13 L474.50 125.33 L474.80 125.02 L475.10 124.35 L475.40 125.32 L475.70 125.54 L476.00 125.49 L476.30 125.47 L476.60 124.79 L476.90 125.46 L477.20 125.46 L477.50 126.30 L477.80 126.66 L478.10 125.33 L478.40 124.90 L478.70 125.33 L479.00 124.95 L479.30 124.84 L479.60 125.26 L479.90 124.59 L480.20 125.64 L480.50 125.15 L480.80 125.35 L481.10 125.05 L481.40 124.67 L481.70 124.50 L482.00 124.93 L482.30 124.70 L482.60 125.19 L482.90 125.01 L483.20 124.10 L483.50 125.00 L483.80 124.06 L484.10 124.50 L484.40 124.69 L484.70 123.50 L485.00 124.88 L485.30 124.89 L485.60 124.66 L485.90 124.45 L486.20 124.45 L486.50 124.03 L486.80 124.46 L487.10 124.24 L487.40 124.63 L487.70 123.75 L488.00 124.65 L488.30 124.56 L488.60 124.34 L488.90 124.11 L489.20 124.72 L489.50 123.24 L489.80 124.59 L490.10 124.41 L490.40 124.41 L490.70 124.44 L491.00 123.73 L491.30 123.95 L491.60 124.50 L491.90 124.33 L492.20 124.15 L492.50 122.99 L492.80 124.29 L493.10 124.67 L493.40 124.53 L493.70 123.99 L494.00 122.79 L494.30 124.38 L494.60 123.64 L494.90 122.05 L495.20 123.91 L495.50 122.66 L495.80 122.75 L496.10 123.14 L496.40 124.35 L496.70 123.24 L497.00 123.62 L497.30 124.55 L497.60 124.41 L497.90 123.27 L498.20 123.14 L498.50 122.44 L498.80 122.77 L499.10 123.46 L499.40 123.41 L499.70 123.18 L500.00 123.72 L500.30 122.53 L500.60 122.95 L500.90 123.43 L501.20 123.29 L501.50 123.57 L501.80 123.09 L502.10 122.58 L502.40 122.98 L502.70 122.05 L503.00 121.59 L503.30 122.99 L503.60 122.53 L503.90 122.72 L504.20 121.37 L504.50 122.19 L504.80 121.99 L505.10 121.77 L505.40 120.82 L505.70 122.01 L506.00 122.77 L506.30 122.38 L506.60 121.69 L506.90 122.03 L507.20 122.48 L507.50 120.14 L507.80 121.80 L508.10 122.19 L508.40 122.23 L508.70 122.84 L509.00 122.43 L509.30 121.84 L509.60 121.79 L509.90 122.05 L510.20 121.14 L510.50 121.42 L510.80 121.99 L511.10 122.63 L511.40 121.20 L511.70 121.23 L512.00 121.34 L512.30 122.04 L512.60 121.10 L512.90 122.03 L513.20 120.40 L513.50 120.87 L513.80 120.81 L514.10 121.41 L514.40 121.53 L514.70 119.82 L515.00 120.16 L515.30 120.93 L515.60 120.24 L515.90 119.63 L516.20 121.25 L516.50 120.85 L516.80 120.81 L517.10 120.13 L517.40 121.07 L517.70 120.20 L518.00 121.02 L518.30 119.67 L518.60 119.66 L518.90 120.30 L519.20 119.67 L519.50 120.52 L519.80 120.20 L520.10 119.38 L520.40 119.99 L520.70 119.66 L521.00 120.44 L521.30 119.39 L521.60 119.47 L521.90 120.49 L522.20 121.11 L522.50 120.91 L522.80 119.60 L523.10 119.66 L523.40 120.46 L523.70 119.34 L524.00 118.74 L524.30 119.40 L524.60 119.57 L524.90 118.69 L525.20 118.11 L525.50 118.20 L525.80 119.52 L526.10 118.55 L526.40 118.90 L526.70 119.08 L527.00 119.30 L527.30 118.63 L527.60 119.13 L527.90 118.18 L528.20 118.47 L528.50 117.99 L528.80 119.35 L529.10 118.55 L529.40 118.04 L529.70 118.24 L530.00 118.28 L530.30 118.83 L530.60 117.29 L530.90 117.60 L531.20 117.99" fill="none" stroke="#f11" stroke-width="1.8" stroke-linejoin="round" stroke-linecap="round" />
<line x1="36.4" y1="421.3" x2="39.4" y2="421.3" stroke="#000" stroke-width="1"/>
<text x="33.4" y="425.1" font-size="11.2" font-weight="700" text-anchor="end" fill="#000" stroke="#000" stroke-width="0.3" >0</text>
<line x1="36.4" y1="399.90000000000003" x2="39.4" y2="399.90000000000003" stroke="#000" stroke-width="1"/>
<text x="33.4" y="403.70000000000005" font-size="11.2" font-weight="700" text-anchor="end" fill="#000" stroke="#000" stroke-width="0.3" >20</text>
<line x1="36.4" y1="378.5" x2="39.4" y2="378.5" stroke="#000" stroke-width="1"/>
<text x="33.4" y="382.3" font-size="11.2" font-weight="700" text-anchor="end" fill="#000" stroke="#000" stroke-width="0.3" >40</text>
<line x1="36.4" y1="357.1" x2="39.4" y2="357.1" stroke="#000" stroke-width="1"/>
<text x="33.4" y="360.90000000000003" font-size="11.2" font-weight="700" text-anchor="end" fill="#000" stroke="#000" stroke-width="0.3" >60</text>
<line x1="36.4" y1="335.7" x2="39.4" y2="335.7" stroke="#000" stroke-width="1"/>
<text x="33.4" y="339.5" font-size="11.2" font-weight="700" text-anchor="end" fill="#000" stroke="#000" stroke-width="0.3" >80</text>
<line x1="36.4" y1="314.3" x2="39.4" y2="314.3" stroke="#000" stroke-width="1"/>
<text x="33.4" y="318.1" font-size="11.2" font-weight="700" text-anchor="end" fill="#000" stroke="#000" stroke-width="0.3" >100</text>
<line x1="36.4" y1="292.9" x2="39.4" y2="292.9" stroke="#000" stroke-width="1"/>
<text x="33.4" y="296.7" font-size="11.2" font-weight="700" text-anchor="end" fill="#000" stroke="#000" stroke-width="0.3" >120</text>
<line x1="36.4" y1="271.5" x2="39.4" y2="271.5" stroke="#000" stroke-width="1"/>
<text x="33.4" y="275.3" font-size="11.2" font-weight="700" text-anchor="end" fill="#000" stroke="#000" stroke-width="0.3" >140</text>
<line x1="36.4" y1="250.1" x2="39.4" y2="250.1" stroke="#000" stroke-width="1"/>
<text x="33.4" y="253.9" font-size="11.2" font-weight="700" text-anchor="end" fill="#000" stroke="#000" stroke-width="0.3" >160</text>
<line x1="37.4" y1="410.6" x2="39.4" y2="410.6" stroke="#000" stroke-width="1"/>
<line x1="37.4" y1="389.2" x2="39.4" y2="389.2" stroke="#000" stroke-width="1"/>
<line x1="37.4" y1="367.8" x2="39.4" y2="367.8" stroke="#000" stroke-width="1"/>
<line x1="37.4" y1="346.4" x2="39.4" y2="346.4" stroke="#000" stroke-width="1"/>
<line x1="37.4" y1="325.0" x2="39.4" y2="325.0" stroke="#000" stroke-width="1"/>
<line x1="37.4" y1="303.6" x2="39.4" y2="303.6" stroke="#000" stroke-width="1"/>
<line x1="37.4" y1="282.20000000000005" x2="39.4" y2="282.20000000000005" stroke="#000" stroke-width="1"/>
<line x1="37.4" y1="260.8" x2="39.4" y2="260.8" stroke="#000" stroke-width="1"/>
<line x1="39.4" y1="431.9" x2="39.4" y2="435.09999999999997" stroke="#000" stroke-width="1"/>
<text x="39.4" y="446.5" font-size="11.2" font-weight="700" text-anchor="middle" fill="#000" stroke="#000" stroke-width="0.3" >0</text>
<line x1="66.8" y1="431.9" x2="66.8" y2="435.09999999999997" stroke="#000" stroke-width="1"/>
<text x="66.8" y="446.5" font-size="11.2" font-weight="700" text-anchor="middle" fill="#000" stroke="#000" stroke-width="0.3" >100</text>
<line x1="94.2" y1="431.9" x2="94.2" y2="435.09999999999997" stroke="#000" stroke-width="1"/>
<text x="94.2" y="446.5" font-size="11.2" font-weight="700" text-anchor="middle" fill="#000" stroke="#000" stroke-width="0.3" >200</text>
<line x1="121.6" y1="431.9" x2="121.6" y2="435.09999999999997" stroke="#000" stroke-width="1"/>
<text x="121.6" y="446.5" font-size="11.2" font-weight="700" text-anchor="middle" fill="#000" stroke="#000" stroke-width="0.3" >300</text>
<line x1="149.0" y1="431.9" x2="149.0" y2="435.09999999999997" stroke="#000" stroke-width="1"/>
<text x="149.0" y="446.5" font-size="11.2" font-weight="700" text-anchor="middle" fill="#000" stroke="#000" stroke-width="0.3" >400</text>
<line x1="176.4" y1="431.9" x2="176.4" y2="435.09999999999997" stroke="#000" stroke-width="1"/>
<text x="176.4" y="446.5" font-size="11.2" font-weight="700" text-anchor="middle" fill="#000" stroke="#000" stroke-width="0.3" >500</text>
<line x1="203.8" y1="431.9" x2="203.8" y2="435.09999999999997" stroke="#000" stroke-width="1"/>
<text x="203.8" y="446.5" font-size="11.2" font-weight="700" text-anchor="middle" fill="#000" stroke="#000" stroke-width="0.3" >600</text>
<line x1="231.20000000000002" y1="431.9" x2="231.20000000000002" y2="435.09999999999997" stroke="#000" stroke-width="1"/>
<text x="231.20000000000002" y="446.5" font-size="11.2" font-weight="700" text-anchor="middle" fill="#000" stroke="#000" stroke-width="0.3" >700</text>
<line x1="258.6" y1="431.9" x2="258.6" y2="435.09999999999997" stroke="#000" stroke-width="1"/>
<text x="258.6" y="446.5" font-size="11.2" font-weight="700" text-anchor="middle" fill="#000" stroke="#000" stroke-width="0.3" >800</text>
<line x1="53.1" y1="431.9" x2="53.1" y2="433.9" stroke="#000" stroke-width="1"/>
<line x1="80.5" y1="431.9" x2="80.5" y2="433.9" stroke="#000" stroke-width="1"/>
<line x1="107.9" y1="431.9" x2="107.9" y2="433.9" stroke="#000" stroke-width="1"/>
<line x1="135.3" y1="431.9" x2="135.3" y2="433.9" stroke="#000" stroke-width="1"/>
<line x1="162.70000000000002" y1="431.9" x2="162.70000000000002" y2="433.9" stroke="#000" stroke-width="1"/>
<line x1="190.10000000000002" y1="431.9" x2="190.10000000000002" y2="433.9" stroke="#000" stroke-width="1"/>
<line x1="217.50000000000003" y1="431.9" x2="217.50000000000003" y2="433.9" stroke="#000" stroke-width="1"/>
<line x1="244.90000000000003" y1="431.9" x2="244.90000000000003" y2="433.9" stroke="#000" stroke-width="1"/>
<rect x="39.4" y="250.6" width="219.20000000000002" height="181.29999999999998" fill="none" stroke="#000" stroke-width="1.3"/>
<text x="7.2" y="263" font-size="22" font-weight="700" text-anchor="start" fill="#000" stroke="#000" stroke-width="0.3" >c</text>
<text x="149" y="464.5" font-size="13.5" font-weight="700" text-anchor="middle" fill="#000" stroke="#000" stroke-width="0.3" >Temperature (<tspan font-size="8.37" dx="0" dy="-5.13">o</tspan><tspan dx="0" dy="5.13">C)</tspan></text>
<text x="12.2" y="334.5" font-size="13.5" font-weight="700" text-anchor="middle" fill="#000" stroke="#000" stroke-width="0.3" transform="rotate(-90 12.2 334.5)">Concentration (ppm)</text>
<text x="255.9" y="263.9" font-size="11.1" font-weight="700" text-anchor="end" fill="#000" stroke="#000" stroke-width="0.3" >Cu-SSZ-13-(A)-uncalcined</text>
<text x="156.2" y="295.6" font-size="11.5" font-weight="400" text-anchor="start" fill="#000" stroke="#000" stroke-width="0.15" >475<tspan font-size="7.82" dx="2.0" dy="-4.14">o</tspan><tspan dx="-0.1" dy="4.14">C</tspan></text>
<text x="90.1" y="394.2" font-size="11.5" font-weight="400" text-anchor="start" fill="#000" stroke="#000" stroke-width="0.15" >230<tspan font-size="7.82" dx="2.0" dy="-4.14">o</tspan><tspan dx="-0.1" dy="4.14">C</tspan></text>
<text x="197.7" y="375.9" font-size="11.5" font-weight="400" text-anchor="start" fill="#000" stroke="#000" stroke-width="0.15" >600<tspan font-size="7.82" dx="2.0" dy="-4.14">o</tspan><tspan dx="-0.1" dy="4.14">C</tspan></text>
<line x1="43.8" y1="258.5" x2="68.3" y2="258.5" stroke="#222" stroke-width="1.3"/>
<text x="71.4" y="262.2" font-size="11.5" font-weight="400" text-anchor="start" fill="#000" stroke="#000" stroke-width="0.15" >NH<tspan font-size="7.59" dy="3.45">3</tspan></text>
<line x1="43.8" y1="274.5" x2="68.3" y2="274.5" stroke="#8ab8ea" stroke-width="1.3"/>
<text x="71.4" y="278.2" font-size="11.5" font-weight="400" text-anchor="start" fill="#000" stroke="#000" stroke-width="0.15" >CO</text>
<line x1="43.8" y1="288.5" x2="68.3" y2="288.5" stroke="#f49090" stroke-width="1.3"/>
<text x="71.4" y="292.2" font-size="11.5" font-weight="400" text-anchor="start" fill="#000" stroke="#000" stroke-width="0.15" >CO<tspan font-size="7.59" dy="3.45">2</tspan></text>
<line x1="43.8" y1="304.6" x2="68.3" y2="304.6" stroke="#86d2b0" stroke-width="1.3"/>
<text x="71.4" y="308.3" font-size="11.5" font-weight="400" text-anchor="start" fill="#000" stroke="#000" stroke-width="0.15" >NO</text>
<line x1="43.8" y1="318.7" x2="68.3" y2="318.7" stroke="#d8b2ee" stroke-width="1.3"/>
<text x="71.4" y="322.4" font-size="11.5" font-weight="400" text-anchor="start" fill="#000" stroke="#000" stroke-width="0.15" >NO<tspan font-size="7.59" dy="3.45">2</tspan></text>
<line x1="43.8" y1="334.9" x2="68.3" y2="334.9" stroke="#ecd092" stroke-width="1.3"/>
<text x="71.4" y="338.59999999999997" font-size="11.5" font-weight="400" text-anchor="start" fill="#000" stroke="#000" stroke-width="0.15" >N<tspan font-size="7.59" dy="3.45">2</tspan><tspan dy="-3.45">O</tspan></text>
<path d="M40.00 422.12 L40.30 419.91 L40.60 421.73 L40.90 421.33 L41.20 421.89 L41.50 421.47 L41.80 422.12 L42.10 421.31 L42.40 421.06 L42.70 421.55 L43.00 421.49 L43.30 421.13 L43.60 421.18 L43.90 421.61 L44.20 421.61 L44.50 421.07 L44.80 421.12 L45.10 420.48 L45.40 422.04 L45.70 421.19 L46.00 421.89 L46.30 421.48 L46.60 422.16 L46.90 421.98 L47.20 421.43 L47.50 421.95 L47.80 420.86 L48.10 421.85 L48.40 420.62 L48.70 421.44 L49.00 421.76 L49.30 421.38 L49.60 421.12 L49.90 420.92 L50.20 421.13 L50.50 421.76 L50.80 421.68 L51.10 421.16 L51.40 420.72 L51.70 421.58 L52.00 420.63 L52.30 421.04 L52.60 420.95 L52.90 421.61 L53.20 421.39 L53.50 421.49 L53.80 421.40 L54.10 420.97 L54.40 421.52 L54.70 421.91 L55.00 421.26 L55.30 421.56 L55.60 421.22 L55.90 421.74 L56.20 421.58 L56.50 421.67 L56.80 421.43 L57.10 422.01 L57.40 421.11 L57.70 421.13 L58.00 421.01 L58.30 421.55 L58.60 420.99 L58.90 420.98 L59.20 421.60 L59.50 421.80 L59.80 421.53 L60.10 420.07 L60.40 420.84 L60.70 420.79 L61.00 420.73 L61.30 421.09 L61.60 422.09 L61.90 421.13 L62.20 420.94 L62.50 421.58 L62.80 421.30 L63.10 421.32 L63.40 420.96 L63.70 421.27 L64.00 421.46 L64.30 420.41 L64.60 420.54 L64.90 421.75 L65.20 421.65 L65.50 421.04 L65.80 420.81 L66.10 421.18 L66.40 420.73 L66.70 421.11 L67.00 422.01 L67.30 421.32 L67.60 421.79 L67.90 421.16 L68.20 421.43 L68.50 421.88 L68.80 420.66 L69.10 421.10 L69.40 421.19 L69.70 421.38 L70.00 421.96 L70.30 421.57 L70.60 420.58 L70.90 421.13 L71.20 420.85 L71.50 420.84 L71.80 422.16 L72.10 420.77 L72.40 421.36 L72.70 420.93 L73.00 421.64 L73.30 421.41 L73.60 421.31 L73.90 421.21 L74.20 421.76 L74.50 420.83 L74.80 420.92 L75.10 420.74 L75.40 421.84 L75.70 421.11 L76.00 420.77 L76.30 421.05 L76.60 422.36 L76.90 421.19 L77.20 421.62 L77.50 421.44 L77.80 421.23 L78.10 420.92 L78.40 421.08 L78.70 421.07 L79.00 420.24 L79.30 422.39 L79.60 421.64 L79.90 421.28 L80.20 421.13 L80.50 420.87 L80.80 421.65 L81.10 421.14 L81.40 421.43 L81.70 420.59 L82.00 421.39 L82.30 422.11 L82.60 421.08 L82.90 421.57 L83.20 421.23 L83.50 421.71 L83.80 421.69 L84.10 421.23 L84.40 420.95 L84.70 421.33 L85.00 421.22 L85.30 420.92 L85.60 421.39 L85.90 421.37 L86.20 420.76 L86.50 421.09 L86.80 422.43 L87.10 421.46 L87.40 421.11 L87.70 422.16 L88.00 420.80 L88.30 419.83 L88.60 419.99 L88.90 420.04 L89.20 420.70 L89.50 420.85 L89.80 419.26 L90.10 420.55 L90.40 419.30 L90.70 419.79 L91.00 419.71 L91.30 419.52 L91.60 419.15 L91.90 419.03 L92.20 418.24 L92.50 418.68 L92.80 418.79 L93.10 418.56 L93.40 419.12 L93.70 418.24 L94.00 417.89 L94.30 418.13 L94.60 417.32 L94.90 416.47 L95.20 415.89 L95.50 417.33 L95.80 416.86 L96.10 416.84 L96.40 416.17 L96.70 416.34 L97.00 416.92 L97.30 416.12 L97.60 415.38 L97.90 415.62 L98.20 416.39 L98.50 415.24 L98.80 414.53 L99.10 414.62 L99.40 415.02 L99.70 415.95 L100.00 415.60 L100.30 415.19 L100.60 414.93 L100.90 415.43 L101.20 415.39 L101.50 415.19 L101.80 415.31 L102.10 415.06 L102.40 416.20 L102.70 414.30 L103.00 415.41 L103.30 414.88 L103.60 415.64 L103.90 415.20 L104.20 415.45 L104.50 415.51 L104.80 415.35 L105.10 415.69 L105.40 414.60 L105.70 415.64 L106.00 415.10 L106.30 415.35 L106.60 415.86 L106.90 415.65 L107.20 416.03 L107.50 414.11 L107.80 414.68 L108.10 415.53 L108.40 414.57 L108.70 414.99 L109.00 415.83 L109.30 415.44 L109.60 414.61 L109.90 415.23 L110.20 415.31 L110.50 415.05 L110.80 414.96 L111.10 415.07 L111.40 414.33 L111.70 415.06 L112.00 414.56 L112.30 415.18 L112.60 415.20 L112.90 414.61 L113.20 415.29 L113.50 415.18 L113.80 415.01 L114.10 415.37 L114.40 414.92 L114.70 414.94 L115.00 415.12 L115.30 415.08 L115.60 415.64 L115.90 414.08 L116.20 415.02 L116.50 414.28 L116.80 414.97 L117.10 415.34 L117.40 415.25 L117.70 415.71 L118.00 415.44 L118.30 414.09 L118.60 414.84 L118.90 416.07 L119.20 416.10 L119.50 415.48 L119.80 414.78 L120.10 416.50 L120.40 414.63 L120.70 415.77 L121.00 415.66 L121.30 415.86 L121.60 415.29 L121.90 415.71 L122.20 416.45 L122.50 415.82 L122.80 415.50 L123.10 416.20 L123.40 416.33 L123.70 416.31 L124.00 416.11 L124.30 416.80 L124.60 416.60 L124.90 416.24 L125.20 417.00 L125.50 417.01 L125.80 417.23 L126.10 416.53 L126.40 417.09 L126.70 417.79 L127.00 418.14 L127.30 418.02 L127.60 418.07 L127.90 418.45 L128.20 418.70 L128.50 419.18 L128.80 418.73 L129.10 418.40 L129.40 419.00 L129.70 418.04 L130.00 419.08 L130.30 418.99 L130.60 419.30 L130.90 419.65 L131.20 419.56 L131.50 418.99 L131.80 419.57 L132.10 419.46 L132.40 419.89 L132.70 420.15 L133.00 419.64 L133.30 420.48 L133.60 420.82 L133.90 420.18 L134.20 420.70 L134.50 419.77 L134.80 420.25 L135.10 420.97 L135.40 419.77 L135.70 420.36 L136.00 420.19 L136.30 421.11 L136.60 421.11 L136.90 420.32 L137.20 420.65 L137.50 419.42 L137.80 420.98 L138.10 420.76 L138.40 421.19 L138.70 419.52 L139.00 420.75 L139.30 420.44 L139.60 419.42 L139.90 420.29 L140.20 420.56 L140.50 420.96 L140.80 420.69 L141.10 420.36 L141.40 420.80 L141.70 420.55 L142.00 420.30 L142.30 420.14 L142.60 420.66 L142.90 420.67 L143.20 421.43 L143.50 420.39 L143.80 421.32 L144.10 420.76 L144.40 421.13 L144.70 420.19 L145.00 420.20 L145.30 420.46 L145.60 421.00 L145.90 420.67 L146.20 420.93 L146.50 420.73 L146.80 421.05 L147.10 420.67 L147.40 420.34 L147.70 420.80 L148.00 420.61 L148.30 421.35 L148.60 420.48 L148.90 420.59 L149.20 420.40 L149.50 421.05 L149.80 420.91 L150.10 420.80 L150.40 419.93 L150.70 419.80 L151.00 420.59 L151.30 420.79 L151.60 421.11 L151.90 419.63 L152.20 420.35 L152.50 419.65 L152.80 419.96 L153.10 420.28 L153.40 420.80 L153.70 420.11 L154.00 420.01 L154.30 420.18 L154.60 420.87 L154.90 421.38 L155.20 419.58 L155.50 420.13 L155.80 420.05 L156.10 420.75 L156.40 420.40 L156.70 420.88 L157.00 419.72 L157.30 420.16 L157.60 419.93 L157.90 419.63 L158.20 420.03 L158.50 419.55 L158.80 421.05 L159.10 420.24 L159.40 419.58 L159.70 419.74 L160.00 420.78 L160.30 419.77 L160.60 420.27 L160.90 420.20 L161.20 420.41 L161.50 420.18 L161.80 419.78 L162.10 419.58 L162.40 419.02 L162.70 419.77 L163.00 419.83 L163.30 419.57 L163.60 419.64 L163.90 419.13 L164.20 420.62 L164.50 419.39 L164.80 419.12 L165.10 419.28 L165.40 419.44 L165.70 419.82 L166.00 418.36 L166.30 419.65 L166.60 419.11 L166.90 419.27 L167.20 419.78 L167.50 419.63 L167.80 418.95 L168.10 419.18 L168.40 420.04 L168.70 419.78 L169.00 419.52 L169.30 419.11 L169.60 419.51 L169.90 419.23 L170.20 418.77 L170.50 418.54 L170.80 419.20 L171.10 419.11 L171.40 419.46 L171.70 418.67 L172.00 419.50 L172.30 418.68 L172.60 419.38 L172.90 419.04 L173.20 418.51 L173.50 418.32 L173.80 418.67 L174.10 418.58 L174.40 419.10 L174.70 418.34 L175.00 417.96 L175.30 418.60 L175.60 419.45 L175.90 419.30 L176.20 418.26 L176.50 418.39 L176.80 418.64 L177.10 418.17 L177.40 418.34 L177.70 418.30 L178.00 417.93 L178.30 418.10 L178.60 418.14 L178.90 418.44 L179.20 417.78 L179.50 418.34 L179.80 417.83 L180.10 417.89 L180.40 417.72 L180.70 420.01 L181.00 418.75 L181.30 418.77 L181.60 418.51 L181.90 418.01 L182.20 418.13 L182.50 418.21 L182.80 418.26 L183.10 418.30 L183.40 418.70 L183.70 416.65 L184.00 417.71 L184.30 418.25 L184.60 417.76 L184.90 417.82 L185.20 418.54 L185.50 417.93 L185.80 418.63 L186.10 417.78 L186.40 417.88 L186.70 417.27 L187.00 416.83 L187.30 417.51 L187.60 417.70 L187.90 417.50 L188.20 417.02 L188.50 417.90 L188.80 417.61 L189.10 417.55 L189.40 417.17 L189.70 418.24 L190.00 418.13 L190.30 417.58 L190.60 417.36 L190.90 417.50 L191.20 418.12 L191.50 418.59 L191.80 417.30 L192.10 417.08 L192.40 416.42 L192.70 418.47 L193.00 416.69 L193.30 417.55 L193.60 417.35 L193.90 417.70 L194.20 416.68 L194.50 416.31 L194.80 417.08 L195.10 417.17 L195.40 417.47 L195.70 416.16 L196.00 416.69 L196.30 416.74 L196.60 416.22 L196.90 416.72 L197.20 417.12 L197.50 416.72 L197.80 416.05 L198.10 416.82 L198.40 417.01 L198.70 416.83 L199.00 416.91 L199.30 415.78 L199.60 416.69 L199.90 416.72 L200.20 416.24 L200.50 416.34 L200.80 415.98 L201.10 416.84 L201.40 416.11 L201.70 415.77 L202.00 416.24 L202.30 416.16 L202.60 416.37 L202.90 415.64 L203.20 415.66 L203.50 416.09 L203.80 416.87 L204.10 416.01 L204.40 415.13 L204.70 415.76 L205.00 415.26 L205.30 414.71 L205.60 415.17 L205.90 415.15 L206.20 415.52 L206.50 415.85 L206.80 415.69 L207.10 415.47 L207.40 414.83 L207.70 415.01 L208.00 414.84 L208.30 415.41 L208.60 414.40 L208.90 414.36 L209.20 415.20 L209.50 414.70 L209.80 414.16 L210.10 414.35 L210.40 414.26 L210.70 414.20 L211.00 414.39 L211.30 414.11 L211.60 413.78 L211.90 413.55 L212.20 412.91 L212.50 413.40 L212.80 414.02 L213.10 413.51 L213.40 413.02 L213.70 413.11 L214.00 412.74 L214.30 413.16 L214.60 413.83 L214.90 413.64 L215.20 413.27 L215.50 412.98 L215.80 412.43 L216.10 411.87 L216.40 412.34 L216.70 412.03 L217.00 412.51 L217.30 412.11 L217.60 411.68 L217.90 412.05 L218.20 413.07 L218.50 411.25 L218.80 412.08 L219.10 411.75 L219.40 411.35 L219.70 410.97 L220.00 411.24 L220.30 411.25 L220.60 411.42 L220.90 411.32 L221.20 411.07 L221.50 410.55 L221.80 410.93 L222.10 410.51 L222.40 410.17 L222.70 410.97 L223.00 410.19 L223.30 409.88 L223.60 410.38 L223.90 409.40 L224.20 410.16 L224.50 410.32 L224.80 409.86 L225.10 410.09 L225.40 410.88 L225.70 410.49 L226.00 410.21 L226.30 410.00 L226.60 409.44 L226.90 409.56 L227.20 409.45 L227.50 409.55 L227.80 409.55 L228.10 409.10 L228.40 410.17 L228.70 408.95 L229.00 409.57 L229.30 409.87 L229.60 409.39 L229.90 409.10 L230.20 409.42 L230.50 410.28 L230.80 409.70 L231.10 409.29 L231.40 409.69 L231.70 409.35 L232.00 408.61 L232.30 409.57 L232.60 409.95 L232.90 410.01 L233.20 409.48 L233.50 408.88 L233.80 410.08 L234.10 409.48 L234.40 409.90 L234.70 410.10 L235.00 409.76 L235.30 409.60 L235.60 409.37 L235.90 409.48 L236.20 409.71 L236.50 409.51 L236.80 409.90 L237.10 408.88 L237.40 409.33 L237.70 409.79 L238.00 409.52 L238.30 409.62 L238.60 409.39 L238.90 410.24 L239.20 410.71 L239.50 409.57 L239.80 410.59 L240.10 409.48 L240.40 410.25 L240.70 409.34 L241.00 410.53 L241.30 410.38 L241.60 410.50 L241.90 411.06 L242.20 410.84 L242.50 410.64 L242.80 410.35 L243.10 410.82 L243.40 410.56 L243.70 410.76 L244.00 411.69 L244.30 411.50 L244.60 411.31 L244.90 411.54 L245.20 410.69 L245.50 411.47 L245.80 410.73 L246.10 411.27 L246.40 411.81 L246.70 411.89 L247.00 412.11 L247.30 411.94 L247.60 411.96 L247.90 412.00 L248.20 412.70 L248.50 412.73 L248.80 411.55 L249.10 412.34 L249.40 412.93 L249.70 412.30 L250.00 412.59 L250.30 412.29 L250.60 412.09 L250.90 412.76 L251.20 412.59 L251.50 412.77 L251.80 412.26 L252.10 412.46 L252.40 412.99 L252.70 412.92 L253.00 413.44 L253.30 412.79 L253.60 413.66 L253.90 413.67 L254.20 413.53 L254.50 413.85 L254.80 413.59 L255.10 413.61 L255.40 413.76 L255.70 413.28 L256.00 413.90 L256.30 414.35 L256.60 413.34 L256.90 414.45 L257.20 413.92 L257.50 414.12 L257.80 414.40 L258.10 414.54 L258.40 415.11" fill="none" stroke="#1a74e0" stroke-width="1.7" stroke-linejoin="round" stroke-linecap="round" />
<path d="M40.00 421.93 L40.10 418.01 L40.20 416.62 L40.30 413.46 L40.40 419.47 L40.50 423.22 L40.60 420.38 L40.70 421.50 L40.80 422.69 L40.90 418.24 L41.00 426.50 L41.10 418.25 L41.20 421.17 L41.30 426.70 L41.40 420.03 L41.50 420.57 L41.60 419.10 L41.70 421.08 L41.80 415.33 L41.90 418.79 L42.00 424.26 L42.10 420.79 L42.20 419.74 L42.30 421.17 L42.40 421.27 L42.50 420.66 L42.60 421.65 L42.70 416.42 L42.80 421.68 L42.90 418.73 L43.00 422.14 L43.10 420.25 L43.20 417.97 L43.30 420.13 L43.40 417.95 L43.50 422.67 L43.60 420.23 L43.70 422.29 L43.80 417.69 L43.90 424.09 L44.00 419.60 L44.10 423.49 L44.20 422.30 L44.30 417.73 L44.40 421.06 L44.50 419.03 L44.60 421.26 L44.70 423.65 L44.80 421.91 L44.90 422.80 L45.00 417.56 L45.10 420.78 L45.20 421.14 L45.30 422.85 L45.40 418.85 L45.50 421.63 L45.60 421.30 L45.70 416.74 L45.80 417.87 L45.90 421.34 L46.00 417.55 L46.10 417.43 L46.20 422.39 L46.30 420.97 L46.40 419.75 L46.50 420.55 L46.60 419.35 L46.70 419.04 L46.80 419.22 L46.90 421.20 L47.00 423.39 L47.10 419.20 L47.20 420.14 L47.30 419.79 L47.40 417.35 L47.50 420.89 L47.60 422.33 L47.70 418.33 L47.80 422.25 L47.90 418.96 L48.00 422.99 L48.10 423.14 L48.20 419.40 L48.30 415.62 L48.40 419.49 L48.50 417.05 L48.60 417.23 L48.70 419.71 L48.80 423.48 L48.90 420.08 L49.00 419.79 L49.10 415.97 L49.20 418.88 L49.30 417.04 L49.40 421.52 L49.50 419.07 L49.60 420.20 L49.70 420.26 L49.80 419.86 L49.90 422.53 L50.00 421.44 L50.10 419.55 L50.20 420.66 L50.30 421.59 L50.40 423.51 L50.50 420.60 L50.60 423.68 L50.70 418.91 L50.80 419.75 L50.90 416.82 L51.00 422.22 L51.10 417.89 L51.20 417.89 L51.30 422.27 L51.40 419.05 L51.50 418.54 L51.60 422.53 L51.70 419.87 L51.80 422.45 L51.90 419.36 L52.00 422.00 L52.10 422.82 L52.20 420.49 L52.30 424.50 L52.40 419.37 L52.50 419.81 L52.60 420.49 L52.70 422.65 L52.80 419.63 L52.90 419.28 L53.00 420.89 L53.10 423.22 L53.20 419.33 L53.30 417.31 L53.40 419.99 L53.50 421.76 L53.60 419.03 L53.70 420.59 L53.80 415.93 L53.90 420.35 L54.00 420.54 L54.10 421.76 L54.20 421.02 L54.30 422.10 L54.40 417.98 L54.50 421.84 L54.60 416.44 L54.70 418.90 L54.80 422.88 L54.90 422.29 L55.00 415.97 L55.10 421.68 L55.20 419.29 L55.30 418.48 L55.40 420.78 L55.50 420.60 L55.60 423.56 L55.70 416.93 L55.80 419.30 L55.90 419.97 L56.00 416.00 L56.10 423.04 L56.20 424.40 L56.30 418.84 L56.40 421.19 L56.50 419.67 L56.60 420.93 L56.70 418.72 L56.80 422.24 L56.90 417.58 L57.00 423.49 L57.10 421.13 L57.20 425.97 L57.30 416.44 L57.40 420.08 L57.50 417.30 L57.60 419.97 L57.70 421.32 L57.80 418.15 L57.90 416.95 L58.00 416.25 L58.10 420.82 L58.20 423.28 L58.30 423.04 L58.40 420.38 L58.50 418.05 L58.60 419.45 L58.70 416.77 L58.80 416.61 L58.90 422.79 L59.00 419.65 L59.10 421.03 L59.20 419.66 L59.30 423.40 L59.40 423.66 L59.50 418.48 L59.60 419.44 L59.70 418.72 L59.80 423.38 L59.90 423.21 L60.00 419.62 L60.10 425.67 L60.20 420.36 L60.30 417.45 L60.40 415.54 L60.50 419.96 L60.60 421.04 L60.70 418.92 L60.80 421.14 L60.90 423.09 L61.00 420.15 L61.10 422.26 L61.20 424.18 L61.30 421.45 L61.40 418.93 L61.50 421.30 L61.60 421.54 L61.70 425.28 L61.80 419.27 L61.90 416.66 L62.00 420.98 L62.10 421.05 L62.20 419.31 L62.30 421.60 L62.40 421.02 L62.50 423.11 L62.60 418.33 L62.70 418.64 L62.80 420.22 L62.90 419.09 L63.00 423.25 L63.10 421.63 L63.20 420.22 L63.30 423.84 L63.40 421.44 L63.50 422.61 L63.60 422.15 L63.70 419.92 L63.80 419.94 L63.90 420.28 L64.00 417.71 L64.10 419.46 L64.20 422.26 L64.30 420.98 L64.40 418.05 L64.50 425.79 L64.60 417.85 L64.70 421.71 L64.80 421.95 L64.90 423.24 L65.00 418.24 L65.10 420.31 L65.20 419.80 L65.30 422.93 L65.40 421.16 L65.50 421.24 L65.60 421.53 L65.70 424.86 L65.80 421.86 L65.90 422.35 L66.00 418.11 L66.10 421.92 L66.20 417.38 L66.30 422.53 L66.40 420.67 L66.50 418.26 L66.60 417.65 L66.70 420.12 L66.80 420.63 L66.90 419.03 L67.00 419.58 L67.10 419.64 L67.20 419.12 L67.30 419.92 L67.40 421.00 L67.50 423.41 L67.60 421.87 L67.70 419.06 L67.80 424.18 L67.90 423.16 L68.00 419.80 L68.10 422.79 L68.20 419.16 L68.30 418.65 L68.40 418.73 L68.50 424.21 L68.60 420.75 L68.70 421.17 L68.80 420.59 L68.90 419.49 L69.00 421.58 L69.10 422.03 L69.20 425.04 L69.30 418.47 L69.40 424.05 L69.50 422.02 L69.60 416.42 L69.70 422.75 L69.80 424.25 L69.90 423.03 L70.00 421.04 L70.10 420.84 L70.20 415.83 L70.30 421.22 L70.40 420.89 L70.50 418.28 L70.60 420.92 L70.70 418.90 L70.80 425.72 L70.90 417.58 L71.00 418.31 L71.10 415.34 L71.20 419.44 L71.30 420.63 L71.40 420.36 L71.50 418.82 L71.60 422.36 L71.70 420.86 L71.80 423.07 L71.90 420.02 L72.00 416.15 L72.10 419.92 L72.20 417.88 L72.30 422.18 L72.40 418.80 L72.50 419.64 L72.60 420.16 L72.70 416.62 L72.80 419.27 L72.90 422.21 L73.00 418.82 L73.10 419.75 L73.20 420.52 L73.30 418.54 L73.40 419.42 L73.50 421.13 L73.60 419.21 L73.70 420.21 L73.80 419.74 L73.90 417.62 L74.00 417.03 L74.10 424.70 L74.20 423.28 L74.30 419.76 L74.40 422.26 L74.50 422.63 L74.60 422.28 L74.70 419.17 L74.80 416.66 L74.90 417.06 L75.00 419.45 L75.10 423.17 L75.20 423.67 L75.30 419.44 L75.40 419.22 L75.50 422.82 L75.60 424.83 L75.70 417.83 L75.80 421.09 L75.90 420.33 L76.00 419.23 L76.10 419.24 L76.20 419.20 L76.30 419.97 L76.40 416.36 L76.50 419.97 L76.60 421.82 L76.70 421.74 L76.80 421.82 L76.90 420.73 L77.00 420.41 L77.10 424.52 L77.20 419.53 L77.30 420.32 L77.40 422.87 L77.50 420.03 L77.60 416.90 L77.70 418.63 L77.80 418.91 L77.90 419.55 L78.00 418.85 L78.10 422.23 L78.20 421.56 L78.30 421.04 L78.40 418.95 L78.50 422.30 L78.60 422.21 L78.70 425.03 L78.80 418.46 L78.90 419.62 L79.00 423.12 L79.10 417.33 L79.20 420.48 L79.30 420.37 L79.40 419.97 L79.50 417.62 L79.60 419.92 L79.70 416.32 L79.80 422.59 L79.90 418.63 L80.00 420.12 L80.10 419.70 L80.20 420.15 L80.30 419.98 L80.40 420.66 L80.50 418.79 L80.60 419.69 L80.70 416.98 L80.80 417.10 L80.90 417.53 L81.00 417.13 L81.10 416.24 L81.20 417.97 L81.30 420.90 L81.40 420.37 L81.50 418.38 L81.60 420.08 L81.70 420.17 L81.80 425.60 L81.90 415.49 L82.00 419.81 L82.10 416.08 L82.20 422.13 L82.30 418.61 L82.40 420.14 L82.50 419.54 L82.60 420.69 L82.70 412.07 L82.80 416.22 L82.90 419.12 L83.00 415.73 L83.10 420.16 L83.20 421.75 L83.30 415.68 L83.40 417.71 L83.50 420.19 L83.60 422.98 L83.70 421.02 L83.80 420.30 L83.90 416.43 L84.00 418.54 L84.10 418.73 L84.20 416.93 L84.30 419.33 L84.40 417.54 L84.50 417.18 L84.60 423.30 L84.70 417.74 L84.80 422.60 L84.90 417.11 L85.00 417.79 L85.10 414.89 L85.20 416.43 L85.30 421.58 L85.40 417.69 L85.50 412.71 L85.60 420.91 L85.70 415.18 L85.80 416.21 L85.90 417.02 L86.00 412.40 L86.10 420.67 L86.20 419.93 L86.30 415.83 L86.40 417.39 L86.50 415.68 L86.60 414.79 L86.70 415.55 L86.80 412.42 L86.90 414.86 L87.00 414.34 L87.10 420.39 L87.20 411.81 L87.30 418.53 L87.40 417.02 L87.50 415.47 L87.60 413.46 L87.70 419.42 L87.80 418.42 L87.90 414.51 L88.00 414.00 L88.10 414.87 L88.20 418.93 L88.30 411.84 L88.40 414.26 L88.50 416.84 L88.60 410.25 L88.70 413.49 L88.80 416.45 L88.90 412.34 L89.00 413.06 L89.10 409.23 L89.20 414.10 L89.30 409.94 L89.40 411.87 L89.50 413.64 L89.60 411.18 L89.70 414.80 L89.80 414.28 L89.90 413.56 L90.00 414.76 L90.10 411.62 L90.20 406.25 L90.30 414.10 L90.40 413.75 L90.50 410.32 L90.60 409.24 L90.70 414.42 L90.80 409.96 L90.90 410.08 L91.00 409.79 L91.10 417.12 L91.20 408.81 L91.30 403.65 L91.40 410.15 L91.50 407.50 L91.60 405.41 L91.70 410.31 L91.80 408.37 L91.90 412.05 L92.00 408.63 L92.10 412.62 L92.20 411.95 L92.30 409.23 L92.40 411.13 L92.50 413.85 L92.60 410.67 L92.70 404.74 L92.80 408.76 L92.90 408.99 L93.00 411.75 L93.10 407.84 L93.20 411.19 L93.30 407.61 L93.40 407.92 L93.50 407.07 L93.60 407.64 L93.70 407.09 L93.80 408.32 L93.90 405.13 L94.00 404.23 L94.10 406.79 L94.20 407.33 L94.30 405.67 L94.40 407.81 L94.50 407.50 L94.60 411.19 L94.70 402.21 L94.80 411.80 L94.90 399.46 L95.00 400.93 L95.10 406.56 L95.20 402.96 L95.30 404.68 L95.40 404.15 L95.50 401.56 L95.60 401.26 L95.70 403.95 L95.80 405.96 L95.90 406.56 L96.00 405.22 L96.10 403.70 L96.20 407.97 L96.30 398.16 L96.40 404.43 L96.50 407.93 L96.60 408.84 L96.70 407.59 L96.80 407.93 L96.90 406.97 L97.00 404.29 L97.10 397.34 L97.20 402.31 L97.30 402.91 L97.40 408.25 L97.50 402.32 L97.60 402.48 L97.70 405.37 L97.80 400.54 L97.90 403.41 L98.00 404.86 L98.10 402.22 L98.20 402.92 L98.30 397.80 L98.40 399.30 L98.50 402.13 L98.60 406.17 L98.70 401.04 L98.80 399.93 L98.90 400.22 L99.00 404.46 L99.10 398.23 L99.20 402.88 L99.30 401.25 L99.40 402.48 L99.50 400.00 L99.60 402.43 L99.70 406.17 L99.80 401.23 L99.90 400.57 L100.00 394.34 L100.10 403.38 L100.20 400.00 L100.30 403.04 L100.40 402.20 L100.50 399.48 L100.60 399.90 L100.70 397.79 L100.80 407.76 L100.90 404.58 L101.00 404.29 L101.10 405.39 L101.20 405.99 L101.30 404.42 L101.40 404.94 L101.50 409.31 L101.60 396.80 L101.70 402.55 L101.80 400.13 L101.90 402.20 L102.00 394.53 L102.10 398.87 L102.20 404.56 L102.30 398.42 L102.40 403.86 L102.50 399.78 L102.60 401.79 L102.70 397.82 L102.80 400.54 L102.90 397.93 L103.00 404.11 L103.10 397.34 L103.20 403.55 L103.30 401.01 L103.40 402.20 L103.50 407.02 L103.60 402.06 L103.70 400.99 L103.80 402.99 L103.90 405.09 L104.00 401.46 L104.10 408.18 L104.20 403.72 L104.30 402.21 L104.40 401.40 L104.50 402.95 L104.60 405.12 L104.70 406.63 L104.80 403.80 L104.90 401.91 L105.00 403.57 L105.10 397.56 L105.20 407.09 L105.30 406.32 L105.40 403.37 L105.50 406.07 L105.60 401.20 L105.70 409.49 L105.80 403.95 L105.90 403.20 L106.00 410.77 L106.10 402.08 L106.20 406.27 L106.30 402.73 L106.40 403.72 L106.50 404.58 L106.60 403.82 L106.70 409.84 L106.80 408.86 L106.90 404.13 L107.00 412.76 L107.10 405.82 L107.20 405.51 L107.30 407.26 L107.40 403.20 L107.50 410.12 L107.60 403.70 L107.70 402.77 L107.80 409.48 L107.90 403.86 L108.00 405.81 L108.10 403.12 L108.20 405.35 L108.30 406.95 L108.40 399.85 L108.50 406.52 L108.60 404.47 L108.70 410.78 L108.80 412.60 L108.90 408.38 L109.00 408.60 L109.10 409.95 L109.20 410.01 L109.30 402.97 L109.40 403.32 L109.50 405.68 L109.60 403.15 L109.70 406.15 L109.80 407.41 L109.90 404.89 L110.00 408.48 L110.10 411.26 L110.20 407.38 L110.30 408.49 L110.40 407.21 L110.50 407.11 L110.60 405.93 L110.70 404.25 L110.80 409.01 L110.90 410.51 L111.00 407.37 L111.10 407.82 L111.20 403.73 L111.30 406.92 L111.40 408.47 L111.50 407.38 L111.60 407.84 L111.70 404.92 L111.80 404.20 L111.90 407.07 L112.00 411.93 L112.10 406.77 L112.20 403.71 L112.30 406.07 L112.40 407.35 L112.50 411.31 L112.60 410.98 L112.70 405.82 L112.80 405.28 L112.90 407.39 L113.00 408.10 L113.10 405.41 L113.20 410.84 L113.30 407.01 L113.40 408.94 L113.50 407.75 L113.60 409.72 L113.70 408.03 L113.80 409.06 L113.90 411.79 L114.00 409.08 L114.10 412.44 L114.20 405.04 L114.30 408.00 L114.40 405.71 L114.50 404.71 L114.60 408.51 L114.70 413.85 L114.80 409.34 L114.90 411.45 L115.00 403.53 L115.10 409.40 L115.20 405.66 L115.30 409.43 L115.40 411.64 L115.50 407.55 L115.60 411.83 L115.70 406.77 L115.80 409.20 L115.90 407.22 L116.00 409.18 L116.10 408.54 L116.20 403.04 L116.30 408.03 L116.40 407.68 L116.50 413.61 L116.60 402.32 L116.70 409.31 L116.80 411.34 L116.90 414.29 L117.00 412.71 L117.10 409.10 L117.20 413.16 L117.30 408.94 L117.40 408.81 L117.50 408.42 L117.60 408.36 L117.70 413.51 L117.80 405.01 L117.90 405.28 L118.00 412.02 L118.10 410.75 L118.20 411.82 L118.30 408.86 L118.40 411.34 L118.50 408.93 L118.60 408.23 L118.70 408.45 L118.80 410.01 L118.90 409.85 L119.00 408.63 L119.10 413.95 L119.20 410.94 L119.30 408.83 L119.40 406.28 L119.50 409.61 L119.60 405.48 L119.70 407.48 L119.80 406.81 L119.90 407.53 L120.00 410.39 L120.10 401.28 L120.20 413.81 L120.30 411.10 L120.40 408.77 L120.50 408.32 L120.60 411.90 L120.70 409.70 L120.80 414.66 L120.90 409.67 L121.00 407.62 L121.10 406.33 L121.20 409.90 L121.30 412.93 L121.40 406.98 L121.50 413.63 L121.60 412.52 L121.70 409.50 L121.80 413.77 L121.90 405.78 L122.00 404.64 L122.10 411.21 L122.20 411.63 L122.30 411.55 L122.40 410.48 L122.50 406.75 L122.60 412.12 L122.70 409.76 L122.80 413.06 L122.90 411.35 L123.00 407.76 L123.10 412.47 L123.20 413.03 L123.30 413.05 L123.40 409.13 L123.50 408.28 L123.60 413.17 L123.70 410.95 L123.80 410.84 L123.90 413.82 L124.00 414.01 L124.10 412.61 L124.20 410.74 L124.30 415.31 L124.40 408.67 L124.50 411.43 L124.60 412.32 L124.70 407.89 L124.80 409.67 L124.90 413.89 L125.00 411.42 L125.10 408.89 L125.20 416.08 L125.30 412.25 L125.40 412.07 L125.50 416.64 L125.60 408.02 L125.70 410.52 L125.80 409.56 L125.90 415.46 L126.00 409.91 L126.10 418.25 L126.20 413.37 L126.30 412.96 L126.40 414.76 L126.50 411.67 L126.60 409.91 L126.70 410.73 L126.80 412.41 L126.90 409.83 L127.00 412.76 L127.10 410.79 L127.20 411.93 L127.30 412.31 L127.40 416.68 L127.50 418.60 L127.60 417.57 L127.70 412.50 L127.80 411.20 L127.90 415.83 L128.00 416.62 L128.10 415.68 L128.20 411.78 L128.30 414.18 L128.40 412.73 L128.50 416.15 L128.60 415.92 L128.70 414.13 L128.80 412.53 L128.90 418.16 L129.00 414.18 L129.10 415.85 L129.20 415.20 L129.30 415.84 L129.40 416.86 L129.50 412.99 L129.60 412.76 L129.70 415.52 L129.80 405.69 L129.90 413.82 L130.00 412.79 L130.10 415.92 L130.20 414.95 L130.30 413.61 L130.40 411.14 L130.50 413.71 L130.60 413.36 L130.70 414.37 L130.80 414.79 L130.90 412.43 L131.00 415.61 L131.10 412.93 L131.20 415.37 L131.30 415.06 L131.40 417.57 L131.50 414.35 L131.60 418.50 L131.70 413.52 L131.80 412.22 L131.90 416.12 L132.00 411.34 L132.10 415.46 L132.20 415.53 L132.30 415.05 L132.40 415.63 L132.50 415.14 L132.60 417.91 L132.70 414.37 L132.80 409.75 L132.90 413.81 L133.00 416.89 L133.10 417.31 L133.20 416.55 L133.30 414.94 L133.40 412.54 L133.50 418.86 L133.60 413.45 L133.70 412.17 L133.80 408.82 L133.90 419.80 L134.00 414.98 L134.10 410.34 L134.20 417.22 L134.30 416.73 L134.40 410.84 L134.50 417.06 L134.60 415.16 L134.70 416.84 L134.80 418.61 L134.90 414.12 L135.00 420.68 L135.10 414.95 L135.20 413.73 L135.30 418.23 L135.40 413.58 L135.50 414.40 L135.60 417.36 L135.70 413.07 L135.80 411.89 L135.90 415.99 L136.00 415.23 L136.10 413.84 L136.20 417.63 L136.30 412.28 L136.40 417.15 L136.50 412.58 L136.60 416.45 L136.70 412.21 L136.80 416.89 L136.90 415.12 L137.00 414.20 L137.10 415.43 L137.20 414.91 L137.30 417.33 L137.40 413.60 L137.50 416.34 L137.60 414.48 L137.70 413.72 L137.80 413.99 L137.90 412.50 L138.00 416.07 L138.10 415.49 L138.20 416.15 L138.30 411.25 L138.40 414.15 L138.50 418.99 L138.60 418.29 L138.70 414.99 L138.80 415.32 L138.90 415.80 L139.00 417.98 L139.10 419.01 L139.20 416.12 L139.30 416.03 L139.40 415.38 L139.50 416.27 L139.60 419.86 L139.70 413.83 L139.80 417.08 L139.90 412.63 L140.00 412.78 L140.10 411.31 L140.20 413.96 L140.30 419.12 L140.40 419.50 L140.50 417.43 L140.60 415.37 L140.70 418.09 L140.80 412.83 L140.90 411.92 L141.00 413.25 L141.10 414.89 L141.20 410.88 L141.30 413.43 L141.40 419.59 L141.50 414.89 L141.60 414.40 L141.70 413.77 L141.80 417.14 L141.90 416.98 L142.00 415.56 L142.10 414.92 L142.20 410.01 L142.30 411.65 L142.40 414.27 L142.50 413.87 L142.60 414.49 L142.70 414.08 L142.80 419.67 L142.90 418.04 L143.00 412.51 L143.10 417.08 L143.20 416.18 L143.30 415.12 L143.40 414.58 L143.50 416.10 L143.60 419.81 L143.70 413.87 L143.80 414.79 L143.90 414.91 L144.00 411.02 L144.10 415.23 L144.20 413.17 L144.30 415.86 L144.40 416.22 L144.50 419.70 L144.60 414.70 L144.70 414.57 L144.80 417.08 L144.90 420.20 L145.00 415.74 L145.10 416.52 L145.20 416.73 L145.30 416.56 L145.40 414.06 L145.50 413.41 L145.60 413.64 L145.70 414.41 L145.80 416.08 L145.90 413.18 L146.00 413.41 L146.10 415.32 L146.20 414.98 L146.30 415.54 L146.40 412.22 L146.50 419.95 L146.60 414.76 L146.70 414.67 L146.80 413.17 L146.90 416.38 L147.00 417.76 L147.10 415.17 L147.20 414.98 L147.30 414.62 L147.40 420.71 L147.50 416.66 L147.60 414.19 L147.70 415.63 L147.80 417.83 L147.90 415.63 L148.00 416.00 L148.10 415.68 L148.20 414.80 L148.30 416.63 L148.40 419.25 L148.50 416.43 L148.60 414.54 L148.70 413.24 L148.80 415.09 L148.90 413.92 L149.00 413.17 L149.10 416.83 L149.20 416.02 L149.30 417.91 L149.40 416.44 L149.50 414.32 L149.60 417.56 L149.70 416.26 L149.80 418.70 L149.90 412.88 L150.00 414.43 L150.10 415.46 L150.20 419.10 L150.30 416.43 L150.40 412.50 L150.50 413.07 L150.60 416.59 L150.70 411.49 L150.80 413.59 L150.90 414.91 L151.00 414.36 L151.10 415.91 L151.20 417.14 L151.30 415.83 L151.40 412.04 L151.50 418.34 L151.60 417.67 L151.70 413.10 L151.80 414.26 L151.90 411.81 L152.00 418.46 L152.10 413.89 L152.20 416.05 L152.30 416.19 L152.40 418.09 L152.50 415.26 L152.60 414.11 L152.70 416.42 L152.80 417.31 L152.90 413.62 L153.00 414.70 L153.10 411.16 L153.20 418.27 L153.30 413.21 L153.40 417.19 L153.50 416.90 L153.60 416.64 L153.70 417.05 L153.80 412.78 L153.90 415.21 L154.00 412.95 L154.10 414.32 L154.20 412.81 L154.30 420.43 L154.40 415.16 L154.50 417.03 L154.60 412.95 L154.70 418.95 L154.80 414.31 L154.90 414.09 L155.00 413.80 L155.10 410.67 L155.20 409.47 L155.30 414.92 L155.40 411.75 L155.50 413.75 L155.60 419.24 L155.70 413.53 L155.80 419.25 L155.90 414.98 L156.00 411.44 L156.10 415.56 L156.20 416.84 L156.30 415.99 L156.40 412.29 L156.50 411.28 L156.60 416.08 L156.70 418.57 L156.80 418.23 L156.90 412.93 L157.00 413.22 L157.10 414.45 L157.20 416.49 L157.30 414.82 L157.40 414.77 L157.50 413.67 L157.60 407.02 L157.70 410.52 L157.80 413.94 L157.90 409.62 L158.00 418.64 L158.10 411.44 L158.20 415.11 L158.30 415.75 L158.40 416.24 L158.50 410.39 L158.60 412.80 L158.70 417.11 L158.80 413.39 L158.90 415.25 L159.00 406.92 L159.10 414.07 L159.20 413.42 L159.30 412.65 L159.40 408.41 L159.50 411.00 L159.60 412.15 L159.70 411.82 L159.80 409.93 L159.90 415.50 L160.00 415.10 L160.10 411.73 L160.20 416.34 L160.30 409.52 L160.40 413.31 L160.50 416.68 L160.60 413.93 L160.70 412.02 L160.80 413.64 L160.90 412.02 L161.00 410.86 L161.10 410.20 L161.20 412.20 L161.30 411.73 L161.40 412.87 L161.50 409.83 L161.60 412.64 L161.70 414.34 L161.80 410.24 L161.90 415.88 L162.00 409.77 L162.10 409.71 L162.20 409.95 L162.30 408.29 L162.40 407.34 L162.50 408.26 L162.60 410.60 L162.70 409.04 L162.80 414.99 L162.90 410.53 L163.00 409.89 L163.10 409.42 L163.20 412.06 L163.30 411.06 L163.40 411.62 L163.50 412.89 L163.60 414.70 L163.70 408.26 L163.80 412.41 L163.90 410.65 L164.00 411.15 L164.10 408.88 L164.20 411.99 L164.30 411.91 L164.40 411.19 L164.50 408.13 L164.60 411.94 L164.70 407.51 L164.80 405.94 L164.90 412.01 L165.00 409.49 L165.10 405.56 L165.20 407.83 L165.30 409.66 L165.40 412.11 L165.50 408.87 L165.60 407.24 L165.70 406.53 L165.80 405.67 L165.90 408.86 L166.00 407.04 L166.10 410.70 L166.20 407.08 L166.30 411.73 L166.40 408.24 L166.50 408.84 L166.60 408.38 L166.70 408.23 L166.80 412.87 L166.90 406.57 L167.00 407.02 L167.10 407.69 L167.20 410.03 L167.30 405.53 L167.40 412.01 L167.50 405.45 L167.60 406.47 L167.70 408.16 L167.80 408.26 L167.90 405.25 L168.00 410.06 L168.10 412.57 L168.20 407.48 L168.30 409.52 L168.40 409.42 L168.50 414.38 L168.60 407.91 L168.70 408.48 L168.80 406.48 L168.90 408.13 L169.00 406.38 L169.10 406.06 L169.20 406.33 L169.30 409.38 L169.40 405.96 L169.50 409.09 L169.60 406.29 L169.70 409.85 L169.80 403.26 L169.90 403.38 L170.00 408.09 L170.10 410.46 L170.20 404.99 L170.30 400.43 L170.40 409.20 L170.50 407.39 L170.60 403.98 L170.70 409.82 L170.80 409.64 L170.90 404.13 L171.00 404.68 L171.10 407.54 L171.20 407.49 L171.30 409.36 L171.40 406.88 L171.50 410.90 L171.60 404.28 L171.70 402.75 L171.80 403.44 L171.90 402.95 L172.00 404.65 L172.10 402.61 L172.20 407.09 L172.30 408.14 L172.40 409.30 L172.50 403.23 L172.60 400.99 L172.70 403.39 L172.80 404.54 L172.90 402.98 L173.00 405.57 L173.10 405.58 L173.20 405.07 L173.30 401.56 L173.40 406.31 L173.50 401.40 L173.60 396.84 L173.70 403.12 L173.80 406.79 L173.90 403.27 L174.00 398.59 L174.10 402.05 L174.20 406.23 L174.30 403.31 L174.40 402.41 L174.50 399.19 L174.60 402.39 L174.70 400.57 L174.80 406.68 L174.90 403.24 L175.00 404.64 L175.10 397.63 L175.20 402.13 L175.30 404.43 L175.40 406.92 L175.50 405.72 L175.60 399.64 L175.70 410.19 L175.80 401.34 L175.90 400.91 L176.00 400.81 L176.10 398.45 L176.20 400.60 L176.30 399.56 L176.40 400.12 L176.50 399.37 L176.60 400.53 L176.70 403.21 L176.80 399.13 L176.90 397.68 L177.00 402.66 L177.10 400.84 L177.20 402.88 L177.30 398.16 L177.40 400.43 L177.50 398.29 L177.60 396.76 L177.70 399.10 L177.80 400.09 L177.90 401.27 L178.00 396.85 L178.10 402.44 L178.20 403.30 L178.30 401.08 L178.40 398.81 L178.50 397.52 L178.60 402.80 L178.70 397.47 L178.80 403.60 L178.90 394.36 L179.00 394.00 L179.10 400.88 L179.20 395.83 L179.30 402.43 L179.40 398.13 L179.50 397.84 L179.60 400.23 L179.70 402.47 L179.80 401.68 L179.90 398.60 L180.00 398.12 L180.10 401.46 L180.20 396.70 L180.30 396.14 L180.40 396.22 L180.50 408.56 L180.60 403.30 L180.70 400.38 L180.80 397.87 L180.90 400.44 L181.00 393.95 L181.10 398.00 L181.20 401.45 L181.30 399.28 L181.40 395.15 L181.50 398.36 L181.60 397.91 L181.70 402.60 L181.80 400.91 L181.90 398.86 L182.00 404.93 L182.10 396.83 L182.20 401.83 L182.30 399.68 L182.40 397.93 L182.50 396.64 L182.60 399.68 L182.70 402.63 L182.80 393.03 L182.90 398.21 L183.00 400.65 L183.10 395.35 L183.20 395.48 L183.30 401.95 L183.40 396.82 L183.50 396.30 L183.60 398.73 L183.70 398.26 L183.80 399.06 L183.90 399.00 L184.00 401.62 L184.10 398.29 L184.20 399.85 L184.30 394.55 L184.40 397.61 L184.50 395.21 L184.60 401.22 L184.70 397.66 L184.80 400.34 L184.90 395.89 L185.00 393.62 L185.10 398.79 L185.20 395.83 L185.30 391.66 L185.40 395.21 L185.50 393.65 L185.60 400.34 L185.70 395.66 L185.80 398.02 L185.90 397.41 L186.00 399.53 L186.10 397.12 L186.20 397.21 L186.30 396.82 L186.40 391.25 L186.50 395.36 L186.60 391.42 L186.70 391.38 L186.80 395.18 L186.90 389.28 L187.00 393.92 L187.10 397.60 L187.20 394.15 L187.30 396.58 L187.40 390.76 L187.50 393.85 L187.60 385.57 L187.70 390.18 L187.80 391.41 L187.90 399.08 L188.00 399.74 L188.10 387.21 L188.20 391.98 L188.30 390.85 L188.40 398.26 L188.50 395.88 L188.60 391.96 L188.70 395.63 L188.80 396.81 L188.90 390.86 L189.00 396.08 L189.10 394.70 L189.20 395.29 L189.30 387.37 L189.40 392.52 L189.50 385.08 L189.60 393.69 L189.70 390.08 L189.80 396.93 L189.90 397.21 L190.00 387.03 L190.10 397.50 L190.20 391.02 L190.30 395.64 L190.40 392.90 L190.50 391.25 L190.60 391.55 L190.70 390.74 L190.80 396.94 L190.90 392.51 L191.00 388.90 L191.10 394.31 L191.20 390.53 L191.30 393.77 L191.40 389.48 L191.50 393.12 L191.60 388.90 L191.70 389.29 L191.80 392.92 L191.90 394.72 L192.00 392.36 L192.10 391.54 L192.20 400.38 L192.30 391.36 L192.40 383.22 L192.50 393.60 L192.60 389.75 L192.70 386.64 L192.80 394.97 L192.90 394.29 L193.00 390.21 L193.10 389.77 L193.20 391.34 L193.30 394.77 L193.40 388.24 L193.50 395.77 L193.60 392.13 L193.70 392.66 L193.80 396.43 L193.90 390.35 L194.00 393.36 L194.10 391.35 L194.20 381.20 L194.30 390.54 L194.40 391.15 L194.50 390.41 L194.60 395.01 L194.70 389.16 L194.80 392.47 L194.90 391.90 L195.00 392.20 L195.10 384.91 L195.20 389.07 L195.30 388.95 L195.40 395.88 L195.50 389.30 L195.60 392.51 L195.70 391.21 L195.80 385.65 L195.90 386.49 L196.00 391.11 L196.10 392.65 L196.20 395.48 L196.30 389.24 L196.40 385.77 L196.50 389.80 L196.60 385.37 L196.70 394.54 L196.80 388.80 L196.90 389.71 L197.00 396.11 L197.10 391.23 L197.20 385.43 L197.30 391.25 L197.40 387.46 L197.50 385.43 L197.60 386.76 L197.70 384.79 L197.80 391.30 L197.90 386.58 L198.00 388.09 L198.10 392.94 L198.20 388.74 L198.30 387.77 L198.40 389.83 L198.50 387.43 L198.60 389.59 L198.70 388.64 L198.80 392.30 L198.90 388.11 L199.00 386.32 L199.10 387.95 L199.20 381.92 L199.30 388.69 L199.40 391.92 L199.50 395.81 L199.60 390.44 L199.70 393.42 L199.80 382.85 L199.90 393.73 L200.00 390.63 L200.10 393.22 L200.20 387.40 L200.30 390.50 L200.40 389.67 L200.50 387.56 L200.60 388.62 L200.70 394.03 L200.80 383.76 L200.90 387.77 L201.00 390.48 L201.10 393.62 L201.20 385.09 L201.30 384.26 L201.40 381.90 L201.50 389.75 L201.60 388.06 L201.70 388.53 L201.80 388.29 L201.90 382.56 L202.00 392.27 L202.10 391.74 L202.20 383.98 L202.30 386.04 L202.40 385.15 L202.50 385.73 L202.60 394.67 L202.70 391.69 L202.80 384.77 L202.90 395.29 L203.00 390.02 L203.10 389.01 L203.20 385.63 L203.30 385.84 L203.40 387.82 L203.50 398.26 L203.60 384.75 L203.70 385.88 L203.80 391.38 L203.90 388.96 L204.00 385.60 L204.10 397.66 L204.20 387.47 L204.30 386.20 L204.40 387.56 L204.50 390.21 L204.60 390.56 L204.70 391.61 L204.80 389.28 L204.90 386.79 L205.00 393.17 L205.10 387.71 L205.20 386.34 L205.30 390.84 L205.40 392.42 L205.50 386.67 L205.60 386.62 L205.70 387.66 L205.80 385.64 L205.90 386.96 L206.00 390.87 L206.10 390.49 L206.20 379.85 L206.30 393.38 L206.40 393.04 L206.50 384.46 L206.60 393.30 L206.70 383.74 L206.80 393.35 L206.90 386.54 L207.00 390.18 L207.10 389.22 L207.20 390.63 L207.30 383.99 L207.40 393.85 L207.50 391.19 L207.60 389.26 L207.70 393.00 L207.80 388.50 L207.90 395.82 L208.00 393.61 L208.10 395.85 L208.20 386.34 L208.30 389.71 L208.40 382.61 L208.50 389.69 L208.60 386.34 L208.70 386.14 L208.80 392.06 L208.90 388.65 L209.00 392.77 L209.10 385.21 L209.20 386.35 L209.30 390.02 L209.40 381.32 L209.50 385.26 L209.60 388.82 L209.70 382.31 L209.80 390.34 L209.90 385.37 L210.00 391.62 L210.10 386.55 L210.20 394.11 L210.30 383.09 L210.40 393.23 L210.50 384.02 L210.60 393.99 L210.70 389.12 L210.80 382.79 L210.90 391.53 L211.00 387.56 L211.10 388.92 L211.20 389.45 L211.30 392.51 L211.40 388.36 L211.50 391.86 L211.60 386.36 L211.70 388.06 L211.80 391.70 L211.90 394.43 L212.00 390.31 L212.10 389.44 L212.20 391.91 L212.30 392.39 L212.40 387.49 L212.50 400.78 L212.60 389.36 L212.70 386.53 L212.80 390.84 L212.90 392.45 L213.00 390.92 L213.10 389.08 L213.20 391.06 L213.30 393.10 L213.40 389.21 L213.50 388.49 L213.60 392.05 L213.70 392.10 L213.80 387.84 L213.90 399.87 L214.00 395.16 L214.10 397.62 L214.20 395.67 L214.30 387.31 L214.40 399.20 L214.50 386.93 L214.60 389.25 L214.70 393.48 L214.80 390.51 L214.90 395.07 L215.00 395.84 L215.10 392.59 L215.20 398.74 L215.30 388.02 L215.40 394.93 L215.50 395.78 L215.60 399.80 L215.70 396.41 L215.80 388.23 L215.90 395.60 L216.00 392.52 L216.10 394.30 L216.20 395.57 L216.30 397.94 L216.40 392.57 L216.50 395.73 L216.60 397.71 L216.70 397.13 L216.80 397.28 L216.90 389.40 L217.00 395.97 L217.10 398.14 L217.20 393.31 L217.30 396.14 L217.40 393.56 L217.50 397.10 L217.60 395.97 L217.70 392.17 L217.80 396.83 L217.90 396.66 L218.00 390.96 L218.10 394.46 L218.20 394.22 L218.30 391.29 L218.40 398.84 L218.50 393.17 L218.60 395.81 L218.70 388.79 L218.80 395.12 L218.90 391.38 L219.00 396.94 L219.10 394.89 L219.20 398.90 L219.30 401.29 L219.40 390.34 L219.50 396.35 L219.60 395.64 L219.70 394.37 L219.80 393.65 L219.90 396.02 L220.00 398.22 L220.10 398.56 L220.20 400.08 L220.30 396.66 L220.40 400.15 L220.50 399.16 L220.60 400.41 L220.70 400.34 L220.80 399.34 L220.90 400.34 L221.00 395.38 L221.10 391.15 L221.20 393.71 L221.30 399.16 L221.40 397.82 L221.50 396.22 L221.60 402.08 L221.70 400.34 L221.80 403.23 L221.90 394.68 L222.00 396.74 L222.10 399.68 L222.20 401.28 L222.30 403.05 L222.40 399.77 L222.50 403.52 L222.60 402.80 L222.70 399.48 L222.80 403.40 L222.90 400.41 L223.00 400.69 L223.10 395.93 L223.20 396.77 L223.30 397.11 L223.40 400.34 L223.50 395.92 L223.60 393.91 L223.70 399.02 L223.80 407.58 L223.90 399.94 L224.00 396.60 L224.10 398.62 L224.20 401.48 L224.30 403.22 L224.40 401.26 L224.50 405.55 L224.60 402.70 L224.70 397.27 L224.80 403.91 L224.90 398.57 L225.00 404.14 L225.10 401.23 L225.20 394.42 L225.30 394.74 L225.40 400.18 L225.50 401.32 L225.60 404.36 L225.70 402.77 L225.80 405.60 L225.90 403.43 L226.00 401.40 L226.10 398.10 L226.20 405.59 L226.30 404.61 L226.40 404.44 L226.50 399.09 L226.60 404.79 L226.70 395.82 L226.80 403.26 L226.90 401.65 L227.00 401.64 L227.10 392.73 L227.20 407.76 L227.30 398.35 L227.40 399.25 L227.50 400.45 L227.60 399.87 L227.70 396.05 L227.80 403.93 L227.90 401.24 L228.00 402.52 L228.10 397.24 L228.20 403.13 L228.30 402.23 L228.40 406.53 L228.50 400.20 L228.60 396.25 L228.70 402.61 L228.80 403.60 L228.90 406.02 L229.00 404.88 L229.10 400.09 L229.20 402.95 L229.30 399.41 L229.40 404.51 L229.50 411.10 L229.60 399.71 L229.70 398.56 L229.80 398.66 L229.90 401.94 L230.00 404.23 L230.10 402.07 L230.20 397.31 L230.30 403.53 L230.40 404.73 L230.50 407.10 L230.60 404.45 L230.70 398.04 L230.80 405.72 L230.90 401.82 L231.00 398.69 L231.10 402.65 L231.20 403.35 L231.30 403.93 L231.40 400.52 L231.50 401.68 L231.60 403.16 L231.70 404.19 L231.80 404.57 L231.90 399.43 L232.00 406.38 L232.10 399.28 L232.20 404.46 L232.30 403.38 L232.40 395.16 L232.50 401.08 L232.60 403.28 L232.70 404.46 L232.80 403.04 L232.90 405.04 L233.00 403.47 L233.10 402.93 L233.20 406.43 L233.30 415.30 L233.40 402.73 L233.50 403.17 L233.60 405.65 L233.70 401.93 L233.80 406.82 L233.90 404.19 L234.00 409.86 L234.10 401.24 L234.20 404.80 L234.30 401.69 L234.40 405.73 L234.50 402.54 L234.60 400.91 L234.70 402.01 L234.80 402.68 L234.90 405.05 L235.00 401.93 L235.10 406.71 L235.20 404.18 L235.30 404.28 L235.40 403.93 L235.50 405.08 L235.60 410.07 L235.70 402.41 L235.80 405.12 L235.90 405.74 L236.00 406.52 L236.10 403.66 L236.20 398.65 L236.30 407.32 L236.40 407.27 L236.50 408.17 L236.60 407.16 L236.70 402.51 L236.80 409.57 L236.90 404.82 L237.00 407.05 L237.10 411.82 L237.20 409.46 L237.30 403.62 L237.40 406.36 L237.50 410.25 L237.60 408.86 L237.70 405.86 L237.80 402.30 L237.90 403.65 L238.00 405.23 L238.10 406.78 L238.20 409.90 L238.30 409.54 L238.40 401.27 L238.50 404.90 L238.60 403.69 L238.70 404.30 L238.80 407.85 L238.90 406.08 L239.00 403.15 L239.10 410.70 L239.20 404.33 L239.30 403.23 L239.40 404.95 L239.50 411.71 L239.60 408.71 L239.70 404.68 L239.80 407.43 L239.90 403.91 L240.00 409.32 L240.10 407.70 L240.20 400.02 L240.30 407.22 L240.40 410.08 L240.50 402.61 L240.60 406.82 L240.70 405.46 L240.80 408.19 L240.90 402.66 L241.00 409.48 L241.10 406.12 L241.20 410.99 L241.30 409.29 L241.40 406.11 L241.50 403.76 L241.60 405.27 L241.70 410.98 L241.80 409.97 L241.90 408.23 L242.00 408.50 L242.10 406.93 L242.20 405.46 L242.30 406.48 L242.40 406.31 L242.50 405.18 L242.60 408.03 L242.70 413.35 L242.80 402.09 L242.90 409.02 L243.00 407.50 L243.10 404.11 L243.20 408.47 L243.30 413.79 L243.40 403.52 L243.50 407.92 L243.60 404.11 L243.70 410.67 L243.80 409.15 L243.90 407.97 L244.00 407.08 L244.10 410.23 L244.20 410.61 L244.30 404.88 L244.40 403.31 L244.50 407.17 L244.60 410.23 L244.70 407.30 L244.80 412.56 L244.90 407.89 L245.00 406.71 L245.10 408.92 L245.20 404.24 L245.30 405.36 L245.40 406.81 L245.50 406.23 L245.60 412.70 L245.70 410.79 L245.80 408.85 L245.90 407.02 L246.00 411.13 L246.10 411.55 L246.20 407.31 L246.30 404.21 L246.40 409.19 L246.50 407.48 L246.60 406.84 L246.70 408.03 L246.80 410.85 L246.90 407.48 L247.00 407.79 L247.10 406.62 L247.20 405.99 L247.30 405.31 L247.40 410.03 L247.50 408.38 L247.60 406.93 L247.70 407.32 L247.80 409.29 L247.90 409.98 L248.00 408.44 L248.10 408.73 L248.20 409.65 L248.30 406.07 L248.40 404.08 L248.50 414.07 L248.60 409.99 L248.70 412.29 L248.80 405.59 L248.90 408.88 L249.00 412.39 L249.10 412.99 L249.20 409.63 L249.30 411.62 L249.40 409.21 L249.50 405.89 L249.60 405.30 L249.70 404.40 L249.80 406.80 L249.90 411.62 L250.00 407.72 L250.10 414.02 L250.20 411.76 L250.30 411.04 L250.40 406.18 L250.50 408.34 L250.60 410.97 L250.70 406.51 L250.80 411.28 L250.90 412.06 L251.00 410.41 L251.10 405.01 L251.20 409.83 L251.30 405.63 L251.40 413.15 L251.50 407.34 L251.60 407.50 L251.70 409.25 L251.80 407.53 L251.90 411.49 L252.00 409.98 L252.10 414.33 L252.20 405.00 L252.30 409.24 L252.40 410.14 L252.50 408.75 L252.60 405.82 L252.70 405.86 L252.80 410.36 L252.90 407.28 L253.00 404.22 L253.10 405.79 L253.20 409.95 L253.30 410.78 L253.40 409.17 L253.50 411.28 L253.60 409.70 L253.70 410.23 L253.80 406.03 L253.90 407.57 L254.00 411.86 L254.10 410.43 L254.20 411.33 L254.30 412.56 L254.40 403.11 L254.50 411.58 L254.60 411.84 L254.70 410.30 L254.80 410.77 L254.90 406.79 L255.00 411.71 L255.10 411.49 L255.20 410.77 L255.30 412.27 L255.40 414.32 L255.50 410.87 L255.60 409.23 L255.70 410.68 L255.80 414.10 L255.90 412.71 L256.00 410.38 L256.10 410.57 L256.20 411.65 L256.30 407.54 L256.40 408.33 L256.50 412.03 L256.60 411.77 L256.70 409.58 L256.80 410.48 L256.90 410.03 L257.00 414.34 L257.10 410.24 L257.20 411.25 L257.30 410.23 L257.40 407.94 L257.50 405.01 L257.60 409.03 L257.70 417.88 L257.80 409.42 L257.90 412.52 L258.00 411.51 L258.10 414.96 L258.20 409.51 L258.30 407.50 L258.40 405.44 L258.50 414.90" fill="none" stroke="#ff1a1a" stroke-width="1.0" stroke-linejoin="round" stroke-linecap="round" />
<path d="M135.00 420.80 L135.40 420.66 L135.80 420.41 L136.20 420.06 L136.60 419.62 L137.00 419.10 L137.40 418.50 L137.80 417.85 L138.20 417.15 L138.60 416.40 L139.00 415.45 L139.40 414.17 L139.80 412.59 L140.20 410.79 L140.60 408.79 L141.00 406.67 L141.40 404.46 L141.80 402.21 L142.20 399.99 L142.60 397.84 L143.00 395.80 L143.40 393.77 L143.80 391.69 L144.20 389.57 L144.60 387.43 L145.00 385.27 L145.40 383.09 L145.80 380.90 L146.20 378.71 L146.60 376.54 L147.00 374.37 L147.40 372.23 L147.80 370.06 L148.20 367.89 L148.60 365.70 L149.00 363.51 L149.40 361.33 L149.80 359.17 L150.20 357.03 L150.60 354.91 L151.00 352.83 L151.40 350.80 L151.80 348.81 L152.20 346.84 L152.60 344.89 L153.00 342.96 L153.40 341.06 L153.80 339.18 L154.20 337.33 L154.60 335.51 L155.00 333.71 L155.40 331.94 L155.80 330.20 L156.20 328.46 L156.60 326.71 L157.00 324.95 L157.40 323.21 L157.80 321.50 L158.20 319.84 L158.60 318.23 L159.00 316.70 L159.40 315.26 L159.80 313.92 L160.20 312.70 L160.60 311.53 L161.00 310.36 L161.40 309.23 L161.80 308.14 L162.20 307.11 L162.60 306.14 L163.00 305.24 L163.40 304.44 L163.80 303.74 L164.20 303.15 L164.60 302.67 L165.00 302.21 L165.40 301.77 L165.80 301.34 L166.20 300.92 L166.60 300.53 L167.00 300.17 L167.40 299.83 L167.80 299.53 L168.20 299.26 L168.60 299.03 L169.00 298.85 L169.40 298.71 L169.80 298.63 L170.20 298.60 L170.60 298.65 L171.00 298.81 L171.40 299.06 L171.80 299.40 L172.20 299.81 L172.60 300.29 L173.00 300.84 L173.40 301.43 L173.80 302.07 L174.20 302.74 L174.60 303.44 L175.00 304.16 L175.40 304.89 L175.80 305.62 L176.20 306.38 L176.60 307.28 L177.00 308.28 L177.40 309.40 L177.80 310.59 L178.20 311.86 L178.60 313.18 L179.00 314.54 L179.40 315.92 L179.80 317.32 L180.20 318.70 L180.60 320.12 L181.00 321.61 L181.40 323.17 L181.80 324.77 L182.20 326.42 L182.60 328.09 L183.00 329.77 L183.40 331.46 L183.80 333.13 L184.20 334.78 L184.60 336.40 L185.00 338.02 L185.40 339.66 L185.80 341.30 L186.20 342.95 L186.60 344.59 L187.00 346.22 L187.40 347.83 L187.80 349.41 L188.20 350.96 L188.60 352.46 L189.00 353.93 L189.40 355.37 L189.80 356.80 L190.20 358.22 L190.60 359.61 L191.00 360.97 L191.40 362.31 L191.80 363.61 L192.20 364.88 L192.60 366.12 L193.00 367.31 L193.40 368.47 L193.80 369.62 L194.20 370.76 L194.60 371.88 L195.00 372.99 L195.40 374.07 L195.80 375.14 L196.20 376.17 L196.60 377.17 L197.00 378.14 L197.40 379.08 L197.80 379.97 L198.20 380.82 L198.60 381.62 L199.00 382.37 L199.40 383.10 L199.80 383.80 L200.20 384.47 L200.60 385.13 L201.00 385.76 L201.40 386.37 L201.80 386.97 L202.20 387.55 L202.60 388.12 L203.00 388.67 L203.40 389.22 L203.80 389.75 L204.20 390.28 L204.60 390.80 L205.00 391.32 L205.40 391.83 L205.80 392.34 L206.20 392.86 L206.60 393.36 L207.00 393.86 L207.40 394.34 L207.80 394.82 L208.20 395.30 L208.60 395.76 L209.00 396.22 L209.40 396.67 L209.80 397.12 L210.20 397.57 L210.60 398.01 L211.00 398.44 L211.40 398.88 L211.80 399.31 L212.20 399.74 L212.60 400.17 L213.00 400.59 L213.40 401.02 L213.80 401.46 L214.20 401.90 L214.60 402.34 L215.00 402.79 L215.40 403.23 L215.80 403.68 L216.20 404.12 L216.60 404.56 L217.00 404.99 L217.40 405.41 L217.80 405.83 L218.20 406.24 L218.60 406.64 L219.00 407.02 L219.40 407.39 L219.80 407.74 L220.20 408.08 L220.60 408.39 L221.00 408.69 L221.40 408.97 L221.80 409.23 L222.20 409.50 L222.60 409.75 L223.00 410.01 L223.40 410.26 L223.80 410.50 L224.20 410.74 L224.60 410.97 L225.00 411.20 L225.40 411.42 L225.80 411.64 L226.20 411.85 L226.60 412.05 L227.00 412.25 L227.40 412.44 L227.80 412.62 L228.20 412.80 L228.60 412.97 L229.00 413.14 L229.40 413.30 L229.80 413.45 L230.20 413.59 L230.60 413.72 L231.00 413.85 L231.40 413.97 L231.80 414.08 L232.20 414.20 L232.60 414.30 L233.00 414.41 L233.40 414.51 L233.80 414.61 L234.20 414.71 L234.60 414.81 L235.00 414.90 L235.40 414.99 L235.80 415.08 L236.20 415.17 L236.60 415.25 L237.00 415.33 L237.40 415.40 L237.80 415.48 L238.20 415.55 L238.60 415.61 L239.00 415.67 L239.40 415.73 L239.80 415.79 L240.20 415.84 L240.60 415.89 L241.00 415.94 L241.40 415.98 L241.80 416.02 L242.20 416.06 L242.60 416.09 L243.00 416.13 L243.40 416.16 L243.80 416.19 L244.20 416.22 L244.60 416.25 L245.00 416.28 L245.40 416.31 L245.80 416.33 L246.20 416.36 L246.60 416.39 L247.00 416.41 L247.40 416.43 L247.80 416.46 L248.20 416.48 L248.60 416.50 L249.00 416.52 L249.40 416.54 L249.80 416.56 L250.20 416.58 L250.60 416.60 L251.00 416.62 L251.40 416.64 L251.80 416.66 L252.20 416.68 L252.60 416.70 L253.00 416.72 L253.40 416.74 L253.80 416.76 L254.20 416.78 L254.60 416.79 L255.00 416.81 L255.40 416.83 L255.80 416.85 L256.20 416.87 L256.60 416.89 L257.00 416.92 L257.40 416.94 L257.80 416.96 L258.20 416.98" fill="none" stroke="#333" stroke-width="1.2" stroke-linejoin="round" stroke-linecap="round" />
<path d="M40.00 421.00 L40.50 421.31 L41.00 421.22 L41.50 421.22 L42.00 421.49 L42.50 420.64 L43.00 420.81 L43.50 420.60 L44.00 420.97 L44.50 421.30 L45.00 420.99 L45.50 421.15 L46.00 420.43 L46.50 421.04 L47.00 420.73 L47.50 421.53 L48.00 421.27 L48.50 421.28 L49.00 420.98 L49.50 421.18 L50.00 421.20 L50.50 420.90 L51.00 420.85 L51.50 420.97 L52.00 420.82 L52.50 420.82 L53.00 420.91 L53.50 420.78 L54.00 421.23 L54.50 420.52 L55.00 421.25 L55.50 420.81 L56.00 420.84 L56.50 420.59 L57.00 420.96 L57.50 420.93 L58.00 421.06 L58.50 420.84 L59.00 421.03 L59.50 421.55 L60.00 421.12 L60.50 420.83 L61.00 421.29 L61.50 420.96 L62.00 421.18 L62.50 421.18 L63.00 420.88 L63.50 420.42 L64.00 420.90 L64.50 421.17 L65.00 420.89 L65.50 421.13 L66.00 421.29 L66.50 420.84 L67.00 421.37 L67.50 421.49 L68.00 421.32 L68.50 421.35 L69.00 421.33 L69.50 421.68 L70.00 421.06 L70.50 421.00 L71.00 421.18 L71.50 420.73 L72.00 420.53 L72.50 420.74 L73.00 421.11 L73.50 421.14 L74.00 420.54 L74.50 420.43 L75.00 420.91 L75.50 420.94 L76.00 420.99 L76.50 421.20 L77.00 421.37 L77.50 421.07 L78.00 421.18 L78.50 420.67 L79.00 420.65 L79.50 421.07 L80.00 421.20 L80.50 421.22 L81.00 421.18 L81.50 421.24 L82.00 421.24 L82.50 420.47 L83.00 420.78 L83.50 421.14 L84.00 421.18 L84.50 420.55 L85.00 421.35 L85.50 420.87 L86.00 420.93 L86.50 421.08 L87.00 421.22 L87.50 420.57 L88.00 421.30 L88.50 421.01 L89.00 420.73 L89.50 420.83 L90.00 420.20 L90.50 420.59 L91.00 420.75 L91.50 420.40 L92.00 420.42 L92.50 420.38 L93.00 420.34 L93.50 420.54 L94.00 420.14 L94.50 419.99 L95.00 420.16 L95.50 420.56 L96.00 419.76 L96.50 419.95 L97.00 419.26 L97.50 420.06 L98.00 419.79 L98.50 419.92 L99.00 419.44 L99.50 419.09 L100.00 419.61 L100.50 419.53 L101.00 419.00 L101.50 418.78 L102.00 419.33 L102.50 419.13 L103.00 419.94 L103.50 418.96 L104.00 418.96 L104.50 419.07 L105.00 418.59 L105.50 418.80 L106.00 419.55 L106.50 419.00 L107.00 418.84 L107.50 418.63 L108.00 419.17 L108.50 419.18 L109.00 419.05 L109.50 418.84 L110.00 419.04 L110.50 419.06 L111.00 418.73 L111.50 419.11 L112.00 418.28 L112.50 418.53 L113.00 418.82 L113.50 418.87 L114.00 418.55 L114.50 419.00 L115.00 419.22 L115.50 419.04 L116.00 418.97 L116.50 419.17 L117.00 419.05 L117.50 418.60 L118.00 418.90 L118.50 419.37 L119.00 418.67 L119.50 419.05 L120.00 418.94 L120.50 418.82 L121.00 418.82 L121.50 419.18 L122.00 419.28 L122.50 419.31 L123.00 418.82 L123.50 419.20 L124.00 419.43 L124.50 419.65 L125.00 419.60 L125.50 419.69 L126.00 419.82 L126.50 419.80 L127.00 419.38 L127.50 419.72 L128.00 419.56 L128.50 419.15 L129.00 419.44 L129.50 420.66 L130.00 419.79 L130.50 419.54 L131.00 420.12 L131.50 420.83 L132.00 420.43 L132.50 420.63 L133.00 420.49 L133.50 420.60 L134.00 421.04 L134.50 420.92 L135.00 420.67 L135.50 420.97 L136.00 421.04 L136.50 420.65 L137.00 420.81 L137.50 420.81 L138.00 420.54 L138.50 421.09 L139.00 420.70 L139.50 420.57 L140.00 420.25 L140.50 420.38 L141.00 421.22 L141.50 420.43 L142.00 420.90 L142.50 420.67 L143.00 420.93 L143.50 420.96 L144.00 420.55 L144.50 420.70 L145.00 420.82 L145.50 420.83 L146.00 420.78 L146.50 420.70 L147.00 420.98 L147.50 421.19 L148.00 420.96 L148.50 420.58 L149.00 420.92 L149.50 420.82 L150.00 420.94 L150.50 421.35 L151.00 420.74 L151.50 420.80 L152.00 420.53 L152.50 420.71 L153.00 420.63 L153.50 421.28 L154.00 420.89 L154.50 420.62 L155.00 421.37 L155.50 420.39 L156.00 421.05 L156.50 421.09 L157.00 420.96 L157.50 420.71 L158.00 420.74 L158.50 420.68 L159.00 421.01 L159.50 420.08 L160.00 420.62 L160.50 420.82 L161.00 420.59 L161.50 420.22 L162.00 420.69 L162.50 420.53 L163.00 421.00 L163.50 421.17 L164.00 420.77 L164.50 420.17 L165.00 420.68 L165.50 420.46 L166.00 420.94 L166.50 421.24 L167.00 420.82 L167.50 421.33 L168.00 421.17 L168.50 420.92 L169.00 420.45 L169.50 420.77 L170.00 420.30 L170.50 421.04 L171.00 420.76 L171.50 421.14 L172.00 420.81 L172.50 420.14 L173.00 420.91 L173.50 420.99 L174.00 421.20 L174.50 420.41 L175.00 420.42 L175.50 420.71 L176.00 420.37 L176.50 420.26 L177.00 420.34 L177.50 421.44 L178.00 420.47 L178.50 420.34 L179.00 420.50 L179.50 420.63 L180.00 421.01 L180.50 420.90 L181.00 420.85 L181.50 420.62 L182.00 420.64 L182.50 420.40 L183.00 420.13 L183.50 421.19 L184.00 420.43 L184.50 420.87 L185.00 420.46 L185.50 420.52 L186.00 420.50 L186.50 420.12 L187.00 420.50 L187.50 420.63 L188.00 420.76 L188.50 420.65 L189.00 420.80 L189.50 420.58 L190.00 420.48 L190.50 419.88 L191.00 420.31 L191.50 420.92 L192.00 420.49 L192.50 420.68 L193.00 420.37 L193.50 420.23 L194.00 421.03 L194.50 420.52 L195.00 420.85 L195.50 420.56 L196.00 420.30 L196.50 419.71 L197.00 420.40 L197.50 419.89 L198.00 419.69 L198.50 420.72 L199.00 420.56 L199.50 420.53 L200.00 420.34 L200.50 420.31 L201.00 420.43 L201.50 420.34 L202.00 420.31 L202.50 420.50 L203.00 419.53 L203.50 420.52 L204.00 420.05 L204.50 420.49 L205.00 420.57 L205.50 419.95 L206.00 420.43 L206.50 420.41 L207.00 419.95 L207.50 419.98 L208.00 420.16 L208.50 419.44 L209.00 419.96 L209.50 420.13 L210.00 419.92 L210.50 419.56 L211.00 419.91 L211.50 420.46 L212.00 420.39 L212.50 419.94 L213.00 419.71 L213.50 419.93 L214.00 419.93 L214.50 419.70 L215.00 419.78 L215.50 420.05 L216.00 420.13 L216.50 419.10 L217.00 420.10 L217.50 419.83 L218.00 420.12 L218.50 419.75 L219.00 419.87 L219.50 420.21 L220.00 418.80 L220.50 420.15 L221.00 419.71 L221.50 419.09 L222.00 418.82 L222.50 419.69 L223.00 419.27 L223.50 419.86 L224.00 419.60 L224.50 419.48 L225.00 419.80 L225.50 419.53 L226.00 419.68 L226.50 419.69 L227.00 419.51 L227.50 419.63 L228.00 419.61 L228.50 418.95 L229.00 419.26 L229.50 419.28 L230.00 419.19 L230.50 418.80 L231.00 419.09 L231.50 419.34 L232.00 419.28 L232.50 419.66 L233.00 419.00 L233.50 419.03 L234.00 418.97 L234.50 419.02 L235.00 418.92 L235.50 418.52 L236.00 419.16 L236.50 419.33 L237.00 419.35 L237.50 418.66 L238.00 418.91 L238.50 419.50 L239.00 418.89 L239.50 419.01 L240.00 418.83 L240.50 419.16 L241.00 419.13 L241.50 419.51 L242.00 418.94 L242.50 418.90 L243.00 418.38 L243.50 418.60 L244.00 418.49 L244.50 418.58 L245.00 418.26 L245.50 418.99 L246.00 418.29 L246.50 418.66 L247.00 418.18 L247.50 418.64 L248.00 419.01 L248.50 418.24 L249.00 418.57 L249.50 418.42 L250.00 418.50 L250.50 418.52 L251.00 418.18 L251.50 418.29 L252.00 418.15 L252.50 418.05 L253.00 417.91 L253.50 418.54 L254.00 418.01 L254.50 418.41 L255.00 418.35 L255.50 417.86 L256.00 418.45 L256.50 417.86 L257.00 418.28 L257.50 418.51 L258.00 417.83 L258.50 417.74" fill="none" stroke="#2cb060" stroke-width="1.3" stroke-linejoin="round" stroke-linecap="round" />
<path d="M40.00 421.41 L40.50 421.74 L41.00 421.70 L41.50 421.27 L42.00 421.32 L42.50 421.26 L43.00 421.54 L43.50 421.38 L44.00 421.58 L44.50 420.93 L45.00 421.79 L45.50 421.37 L46.00 421.56 L46.50 421.36 L47.00 421.30 L47.50 421.51 L48.00 421.60 L48.50 421.34 L49.00 421.35 L49.50 421.56 L50.00 421.17 L50.50 421.01 L51.00 421.49 L51.50 421.22 L52.00 420.91 L52.50 421.18 L53.00 421.27 L53.50 421.09 L54.00 421.01 L54.50 421.40 L55.00 421.61 L55.50 421.33 L56.00 421.20 L56.50 421.48 L57.00 421.56 L57.50 421.31 L58.00 421.52 L58.50 421.64 L59.00 421.33 L59.50 421.18 L60.00 421.47 L60.50 421.44 L61.00 421.65 L61.50 421.06 L62.00 421.21 L62.50 421.17 L63.00 420.94 L63.50 421.41 L64.00 421.51 L64.50 421.19 L65.00 421.72 L65.50 421.58 L66.00 421.53 L66.50 421.48 L67.00 421.61 L67.50 421.04 L68.00 421.53 L68.50 421.52 L69.00 420.93 L69.50 421.46 L70.00 421.31 L70.50 421.57 L71.00 421.26 L71.50 421.37 L72.00 421.46 L72.50 421.15 L73.00 421.52 L73.50 421.34 L74.00 421.49 L74.50 421.24 L75.00 421.64 L75.50 421.52 L76.00 421.32 L76.50 421.52 L77.00 421.68 L77.50 421.81 L78.00 420.97 L78.50 421.58 L79.00 421.48 L79.50 421.34 L80.00 421.11 L80.50 421.68 L81.00 421.05 L81.50 421.50 L82.00 421.69 L82.50 420.96 L83.00 421.28 L83.50 421.03 L84.00 421.42 L84.50 421.74 L85.00 421.86 L85.50 420.91 L86.00 421.21 L86.50 421.53 L87.00 421.75 L87.50 421.46 L88.00 421.17 L88.50 421.43 L89.00 421.35 L89.50 421.30 L90.00 421.17 L90.50 421.45 L91.00 421.43 L91.50 421.33 L92.00 421.30 L92.50 421.03 L93.00 421.23 L93.50 421.65 L94.00 421.30 L94.50 420.99 L95.00 421.68 L95.50 421.48 L96.00 421.88 L96.50 421.36 L97.00 421.23 L97.50 420.98 L98.00 421.68 L98.50 421.99 L99.00 421.14 L99.50 421.18 L100.00 421.49 L100.50 421.14 L101.00 421.28 L101.50 421.26 L102.00 421.39 L102.50 421.62 L103.00 421.35 L103.50 421.57 L104.00 421.24 L104.50 421.42 L105.00 420.81 L105.50 420.98 L106.00 421.54 L106.50 421.19 L107.00 421.48 L107.50 421.47 L108.00 421.67 L108.50 421.54 L109.00 421.59 L109.50 421.31 L110.00 421.16 L110.50 421.15 L111.00 421.21 L111.50 421.05 L112.00 421.20 L112.50 421.31 L113.00 421.40 L113.50 421.25 L114.00 420.85 L114.50 421.31 L115.00 421.39 L115.50 421.60 L116.00 421.47 L116.50 421.17 L117.00 421.15 L117.50 421.83 L118.00 421.52 L118.50 421.79 L119.00 421.86 L119.50 421.12 L120.00 421.42 L120.50 421.44 L121.00 421.47 L121.50 421.46 L122.00 421.38 L122.50 421.37 L123.00 420.95 L123.50 421.28 L124.00 421.14 L124.50 421.35 L125.00 421.20 L125.50 421.48 L126.00 421.53 L126.50 421.40 L127.00 421.40 L127.50 421.34 L128.00 421.21 L128.50 421.28 L129.00 421.19 L129.50 421.41 L130.00 421.32 L130.50 421.46 L131.00 420.98 L131.50 421.54 L132.00 421.12 L132.50 421.13 L133.00 421.27 L133.50 421.17 L134.00 421.39 L134.50 421.17 L135.00 421.05 L135.50 421.10 L136.00 421.64 L136.50 421.32 L137.00 421.02 L137.50 421.31 L138.00 420.92 L138.50 421.76 L139.00 420.93 L139.50 421.43 L140.00 421.44 L140.50 420.95 L141.00 421.38 L141.50 421.56 L142.00 421.42 L142.50 421.37 L143.00 421.54 L143.50 421.35 L144.00 421.39 L144.50 421.27 L145.00 421.46 L145.50 421.07 L146.00 421.50 L146.50 421.18 L147.00 421.03 L147.50 421.39 L148.00 421.72 L148.50 421.54 L149.00 421.17 L149.50 421.47 L150.00 421.19 L150.50 421.27 L151.00 421.32 L151.50 420.72 L152.00 421.35 L152.50 421.04 L153.00 421.12 L153.50 420.93 L154.00 420.92 L154.50 421.06 L155.00 421.50 L155.50 421.71 L156.00 421.29 L156.50 421.57 L157.00 421.23 L157.50 420.81 L158.00 421.33 L158.50 421.40 L159.00 421.18 L159.50 421.37 L160.00 421.43 L160.50 421.07 L161.00 420.92 L161.50 421.23 L162.00 421.24 L162.50 421.20 L163.00 421.53 L163.50 421.72 L164.00 421.18 L164.50 421.46 L165.00 421.52 L165.50 421.46 L166.00 421.55 L166.50 421.19 L167.00 421.47 L167.50 421.79 L168.00 421.48 L168.50 421.13 L169.00 421.43 L169.50 421.60 L170.00 421.37 L170.50 421.14 L171.00 421.67 L171.50 420.97 L172.00 421.40 L172.50 421.27 L173.00 420.98 L173.50 421.58 L174.00 421.36 L174.50 420.99 L175.00 421.43 L175.50 421.17 L176.00 420.80 L176.50 421.10 L177.00 421.34 L177.50 421.43 L178.00 421.32 L178.50 421.28 L179.00 421.39 L179.50 421.22 L180.00 421.57 L180.50 421.31 L181.00 421.34 L181.50 421.41 L182.00 421.01 L182.50 421.09 L183.00 421.65 L183.50 421.35 L184.00 421.20 L184.50 421.35 L185.00 421.15 L185.50 421.34 L186.00 421.10 L186.50 421.33 L187.00 420.87 L187.50 421.60 L188.00 421.14 L188.50 420.87 L189.00 421.21 L189.50 421.17 L190.00 421.30 L190.50 420.98 L191.00 421.36 L191.50 422.17 L192.00 420.94 L192.50 421.34 L193.00 421.18 L193.50 421.31 L194.00 420.81 L194.50 420.97 L195.00 421.37 L195.50 421.25 L196.00 421.67 L196.50 421.08 L197.00 421.30 L197.50 421.98 L198.00 421.06 L198.50 421.03 L199.00 421.25 L199.50 421.24 L200.00 421.46 L200.50 421.29 L201.00 421.06 L201.50 421.31 L202.00 421.91 L202.50 421.57 L203.00 420.56 L203.50 421.21 L204.00 421.03 L204.50 421.41 L205.00 421.21 L205.50 421.73 L206.00 421.48 L206.50 421.47 L207.00 421.29 L207.50 421.24 L208.00 421.33 L208.50 421.57 L209.00 421.38 L209.50 421.16 L210.00 421.56 L210.50 421.29 L211.00 421.22 L211.50 421.05 L212.00 421.10 L212.50 421.08 L213.00 420.54 L213.50 421.50 L214.00 421.38 L214.50 421.19 L215.00 421.50 L215.50 421.35 L216.00 421.33 L216.50 420.62 L217.00 421.18 L217.50 421.37 L218.00 421.64 L218.50 421.70 L219.00 421.59 L219.50 420.95 L220.00 420.69 L220.50 421.38 L221.00 421.24 L221.50 421.47 L222.00 421.20 L222.50 421.29 L223.00 420.86 L223.50 421.34 L224.00 421.12 L224.50 421.32 L225.00 421.35 L225.50 421.20 L226.00 421.31 L226.50 421.23 L227.00 421.42 L227.50 421.35 L228.00 421.09 L228.50 421.08 L229.00 421.66 L229.50 421.20 L230.00 421.47 L230.50 421.32 L231.00 421.08 L231.50 421.04 L232.00 421.25 L232.50 421.29 L233.00 421.38 L233.50 420.91 L234.00 421.07 L234.50 421.20 L235.00 421.62 L235.50 420.63 L236.00 421.33 L236.50 421.09 L237.00 421.33 L237.50 421.10 L238.00 421.31 L238.50 421.61 L239.00 421.31 L239.50 421.33 L240.00 421.31 L240.50 421.03 L241.00 421.35 L241.50 421.16 L242.00 421.01 L242.50 421.21 L243.00 421.16 L243.50 421.40 L244.00 421.20 L244.50 421.08 L245.00 421.58 L245.50 421.46 L246.00 421.53 L246.50 421.36 L247.00 421.18 L247.50 421.11 L248.00 421.14 L248.50 421.45 L249.00 421.24 L249.50 420.84 L250.00 421.20 L250.50 420.85 L251.00 421.25 L251.50 420.91 L252.00 420.89 L252.50 421.24 L253.00 421.19 L253.50 420.79 L254.00 421.39 L254.50 421.74 L255.00 420.83 L255.50 421.66 L256.00 421.03 L256.50 421.08 L257.00 421.16 L257.50 420.84 L258.00 421.53 L258.50 421.32" fill="none" stroke="#e8a33a" stroke-width="1.4" stroke-linejoin="round" stroke-linecap="round" />
<line x1="316.6" y1="421.3" x2="319.6" y2="421.3" stroke="#000" stroke-width="1"/>
<text x="313.6" y="425.1" font-size="11.2" font-weight="700" text-anchor="end" fill="#000" stroke="#000" stroke-width="0.3" >0</text>
<line x1="316.6" y1="399.90000000000003" x2="319.6" y2="399.90000000000003" stroke="#000" stroke-width="1"/>
<text x="313.6" y="403.70000000000005" font-size="11.2" font-weight="700" text-anchor="end" fill="#000" stroke="#000" stroke-width="0.3" >20</text>
<line x1="316.6" y1="378.5" x2="319.6" y2="378.5" stroke="#000" stroke-width="1"/>
<text x="313.6" y="382.3" font-size="11.2" font-weight="700" text-anchor="end" fill="#000" stroke="#000" stroke-width="0.3" >40</text>
<line x1="316.6" y1="357.1" x2="319.6" y2="357.1" stroke="#000" stroke-width="1"/>
<text x="313.6" y="360.90000000000003" font-size="11.2" font-weight="700" text-anchor="end" fill="#000" stroke="#000" stroke-width="0.3" >60</text>
<line x1="316.6" y1="335.7" x2="319.6" y2="335.7" stroke="#000" stroke-width="1"/>
<text x="313.6" y="339.5" font-size="11.2" font-weight="700" text-anchor="end" fill="#000" stroke="#000" stroke-width="0.3" >80</text>
<line x1="316.6" y1="314.3" x2="319.6" y2="314.3" stroke="#000" stroke-width="1"/>
<text x="313.6" y="318.1" font-size="11.2" font-weight="700" text-anchor="end" fill="#000" stroke="#000" stroke-width="0.3" >100</text>
<line x1="316.6" y1="292.9" x2="319.6" y2="292.9" stroke="#000" stroke-width="1"/>
<text x="313.6" y="296.7" font-size="11.2" font-weight="700" text-anchor="end" fill="#000" stroke="#000" stroke-width="0.3" >120</text>
<line x1="316.6" y1="271.5" x2="319.6" y2="271.5" stroke="#000" stroke-width="1"/>
<text x="313.6" y="275.3" font-size="11.2" font-weight="700" text-anchor="end" fill="#000" stroke="#000" stroke-width="0.3" >140</text>
<line x1="316.6" y1="250.1" x2="319.6" y2="250.1" stroke="#000" stroke-width="1"/>
<text x="313.6" y="253.9" font-size="11.2" font-weight="700" text-anchor="end" fill="#000" stroke="#000" stroke-width="0.3" >160</text>
<line x1="317.6" y1="432.0" x2="319.6" y2="432.0" stroke="#000" stroke-width="1"/>
<line x1="317.6" y1="410.6" x2="319.6" y2="410.6" stroke="#000" stroke-width="1"/>
<line x1="317.6" y1="389.2" x2="319.6" y2="389.2" stroke="#000" stroke-width="1"/>
<line x1="317.6" y1="367.8" x2="319.6" y2="367.8" stroke="#000" stroke-width="1"/>
<line x1="317.6" y1="346.4" x2="319.6" y2="346.4" stroke="#000" stroke-width="1"/>
<line x1="317.6" y1="325.0" x2="319.6" y2="325.0" stroke="#000" stroke-width="1"/>
<line x1="317.6" y1="303.6" x2="319.6" y2="303.6" stroke="#000" stroke-width="1"/>
<line x1="317.6" y1="282.20000000000005" x2="319.6" y2="282.20000000000005" stroke="#000" stroke-width="1"/>
<line x1="317.6" y1="260.8" x2="319.6" y2="260.8" stroke="#000" stroke-width="1"/>
<line x1="319.6" y1="432.1" x2="319.6" y2="435.3" stroke="#000" stroke-width="1"/>
<text x="319.6" y="446.70000000000005" font-size="11.2" font-weight="700" text-anchor="middle" fill="#000" stroke="#000" stroke-width="0.3" >0</text>
<line x1="347.05" y1="432.1" x2="347.05" y2="435.3" stroke="#000" stroke-width="1"/>
<text x="347.05" y="446.70000000000005" font-size="11.2" font-weight="700" text-anchor="middle" fill="#000" stroke="#000" stroke-width="0.3" >100</text>
<line x1="374.5" y1="432.1" x2="374.5" y2="435.3" stroke="#000" stroke-width="1"/>
<text x="374.5" y="446.70000000000005" font-size="11.2" font-weight="700" text-anchor="middle" fill="#000" stroke="#000" stroke-width="0.3" >200</text>
<line x1="401.95000000000005" y1="432.1" x2="401.95000000000005" y2="435.3" stroke="#000" stroke-width="1"/>
<text x="401.95000000000005" y="446.70000000000005" font-size="11.2" font-weight="700" text-anchor="middle" fill="#000" stroke="#000" stroke-width="0.3" >300</text>
<line x1="429.40000000000003" y1="432.1" x2="429.40000000000003" y2="435.3" stroke="#000" stroke-width="1"/>
<text x="429.40000000000003" y="446.70000000000005" font-size="11.2" font-weight="700" text-anchor="middle" fill="#000" stroke="#000" stroke-width="0.3" >400</text>
<line x1="456.85" y1="432.1" x2="456.85" y2="435.3" stroke="#000" stroke-width="1"/>
<text x="456.85" y="446.70000000000005" font-size="11.2" font-weight="700" text-anchor="middle" fill="#000" stroke="#000" stroke-width="0.3" >500</text>
<line x1="484.30000000000007" y1="432.1" x2="484.30000000000007" y2="435.3" stroke="#000" stroke-width="1"/>
<text x="484.30000000000007" y="446.70000000000005" font-size="11.2" font-weight="700" text-anchor="middle" fill="#000" stroke="#000" stroke-width="0.3" >600</text>
<line x1="511.75" y1="432.1" x2="511.75" y2="435.3" stroke="#000" stroke-width="1"/>
<text x="511.75" y="446.70000000000005" font-size="11.2" font-weight="700" text-anchor="middle" fill="#000" stroke="#000" stroke-width="0.3" >700</text>
<line x1="539.2" y1="432.1" x2="539.2" y2="435.3" stroke="#000" stroke-width="1"/>
<text x="539.2" y="446.70000000000005" font-size="11.2" font-weight="700" text-anchor="middle" fill="#000" stroke="#000" stroke-width="0.3" >800</text>
<line x1="333.32500000000005" y1="432.1" x2="333.32500000000005" y2="434.1" stroke="#000" stroke-width="1"/>
<line x1="360.77500000000003" y1="432.1" x2="360.77500000000003" y2="434.1" stroke="#000" stroke-width="1"/>
<line x1="388.225" y1="432.1" x2="388.225" y2="434.1" stroke="#000" stroke-width="1"/>
<line x1="415.675" y1="432.1" x2="415.675" y2="434.1" stroke="#000" stroke-width="1"/>
<line x1="443.125" y1="432.1" x2="443.125" y2="434.1" stroke="#000" stroke-width="1"/>
<line x1="470.57500000000005" y1="432.1" x2="470.57500000000005" y2="434.1" stroke="#000" stroke-width="1"/>
<line x1="498.02500000000003" y1="432.1" x2="498.02500000000003" y2="434.1" stroke="#000" stroke-width="1"/>
<line x1="525.475" y1="432.1" x2="525.475" y2="434.1" stroke="#000" stroke-width="1"/>
<rect x="319.6" y="250.4" width="219.60000000000002" height="181.70000000000002" fill="none" stroke="#000" stroke-width="1.3"/>
<text x="280.6" y="265.4" font-size="19.8" font-weight="700" text-anchor="start" fill="#000" stroke="#000" stroke-width="0.3" >d</text>
<text x="429" y="464.5" font-size="13.5" font-weight="700" text-anchor="middle" fill="#000" stroke="#000" stroke-width="0.3" >Temperature (<tspan font-size="8.37" dx="0" dy="-5.13">o</tspan><tspan dx="0" dy="5.13">C)</tspan></text>
<text x="290.8" y="335" font-size="13.5" font-weight="700" text-anchor="middle" fill="#000" stroke="#000" stroke-width="0.3" transform="rotate(-90 290.8 335)">Concentration (ppm)</text>
<text x="535.9" y="264.8" font-size="11.1" font-weight="700" text-anchor="end" fill="#000" stroke="#000" stroke-width="0.3" >Cu-SSZ-13-(S)-uncalcined</text>
<text x="439.5" y="294.5" font-size="11.5" font-weight="400" text-anchor="start" fill="#000" stroke="#000" stroke-width="0.15" >475<tspan font-size="7.82" dx="2.0" dy="-4.14">o</tspan><tspan dx="-0.1" dy="4.14">C</tspan></text>
<line x1="328.2" y1="260.2" x2="352.7" y2="260.2" stroke="#333" stroke-width="1.5"/>
<text x="355.9" y="263.9" font-size="11.5" font-weight="400" text-anchor="start" fill="#000" stroke="#000" stroke-width="0.15" >NH<tspan font-size="7.59" dy="3.45">3</tspan></text>
<line x1="328.2" y1="276.2" x2="352.7" y2="276.2" stroke="#f04444" stroke-width="1.5"/>
<text x="355.9" y="279.9" font-size="11.5" font-weight="400" text-anchor="start" fill="#000" stroke="#000" stroke-width="0.15" >SO<tspan font-size="7.59" dy="3.45">2</tspan></text>
<line x1="328.2" y1="292.1" x2="352.7" y2="292.1" stroke="#2080e8" stroke-width="1.5"/>
<text x="355.9" y="295.8" font-size="11.5" font-weight="400" text-anchor="start" fill="#000" stroke="#000" stroke-width="0.15" >NO</text>
<line x1="328.2" y1="306.6" x2="352.7" y2="306.6" stroke="#f030e8" stroke-width="1.5"/>
<text x="355.9" y="310.3" font-size="11.5" font-weight="400" text-anchor="start" fill="#000" stroke="#000" stroke-width="0.15" >NO<tspan font-size="7.59" dy="3.45">2</tspan></text>
<line x1="328.2" y1="322.6" x2="352.7" y2="322.6" stroke="#b070e0" stroke-width="1.5"/>
<text x="355.9" y="326.3" font-size="11.5" font-weight="400" text-anchor="start" fill="#000" stroke="#000" stroke-width="0.15" >N<tspan font-size="7.59" dy="3.45">2</tspan><tspan dy="-3.45">O</tspan></text>
<path d="M320.00 421.00 L320.40 420.97 L320.80 420.94 L321.20 420.90 L321.60 420.87 L322.00 420.84 L322.40 420.81 L322.80 420.78 L323.20 420.74 L323.60 420.71 L324.00 420.68 L324.40 420.65 L324.80 420.62 L325.20 420.58 L325.60 420.55 L326.00 420.52 L326.40 420.49 L326.80 420.46 L327.20 420.42 L327.60 420.39 L328.00 420.36 L328.40 420.33 L328.80 420.30 L329.20 420.26 L329.60 420.23 L330.00 420.20 L330.40 420.17 L330.80 420.13 L331.20 420.10 L331.60 420.06 L332.00 420.02 L332.40 419.98 L332.80 419.94 L333.20 419.89 L333.60 419.85 L334.00 419.81 L334.40 419.76 L334.80 419.72 L335.20 419.68 L335.60 419.64 L336.00 419.60 L336.40 419.56 L336.80 419.52 L337.20 419.48 L337.60 419.44 L338.00 419.41 L338.40 419.37 L338.80 419.34 L339.20 419.32 L339.60 419.29 L340.00 419.27 L340.40 419.25 L340.80 419.23 L341.20 419.22 L341.60 419.21 L342.00 419.20 L342.40 419.20 L342.80 419.20 L343.20 419.20 L343.60 419.21 L344.00 419.21 L344.40 419.22 L344.80 419.22 L345.20 419.23 L345.60 419.24 L346.00 419.25 L346.40 419.26 L346.80 419.27 L347.20 419.28 L347.60 419.29 L348.00 419.30 L348.40 419.32 L348.80 419.33 L349.20 419.35 L349.60 419.36 L350.00 419.38 L350.40 419.40 L350.80 419.41 L351.20 419.43 L351.60 419.45 L352.00 419.46 L352.40 419.48 L352.80 419.50 L353.20 419.52 L353.60 419.54 L354.00 419.55 L354.40 419.57 L354.80 419.59 L355.20 419.61 L355.60 419.63 L356.00 419.65 L356.40 419.68 L356.80 419.70 L357.20 419.73 L357.60 419.76 L358.00 419.80 L358.40 419.83 L358.80 419.87 L359.20 419.90 L359.60 419.94 L360.00 419.98 L360.40 420.02 L360.80 420.06 L361.20 420.10 L361.60 420.14 L362.00 420.18 L362.40 420.22 L362.80 420.26 L363.20 420.30 L363.60 420.34 L364.00 420.38 L364.40 420.42 L364.80 420.45 L365.20 420.49 L365.60 420.53 L366.00 420.56 L366.40 420.59 L366.80 420.62 L367.20 420.65 L367.60 420.68 L368.00 420.71 L368.40 420.73 L368.80 420.75 L369.20 420.77 L369.60 420.79 L370.00 420.80 L370.40 420.81 L370.80 420.82 L371.20 420.84 L371.60 420.85 L372.00 420.86 L372.40 420.87 L372.80 420.88 L373.20 420.89 L373.60 420.90 L374.00 420.91 L374.40 420.92 L374.80 420.94 L375.20 420.95 L375.60 420.96 L376.00 420.97 L376.40 420.98 L376.80 420.99 L377.20 421.00 L377.60 421.01 L378.00 421.02 L378.40 421.03 L378.80 421.03 L379.20 421.04 L379.60 421.05 L380.00 421.06 L380.40 421.07 L380.80 421.08 L381.20 421.09 L381.60 421.10 L382.00 421.10 L382.40 421.11 L382.80 421.12 L383.20 421.13 L383.60 421.14 L384.00 421.14 L384.40 421.15 L384.80 421.16 L385.20 421.17 L385.60 421.17 L386.00 421.18 L386.40 421.19 L386.80 421.19 L387.20 421.20 L387.60 421.20 L388.00 421.21 L388.40 421.22 L388.80 421.22 L389.20 421.23 L389.60 421.23 L390.00 421.24 L390.40 421.24 L390.80 421.25 L391.20 421.25 L391.60 421.25 L392.00 421.26 L392.40 421.26 L392.80 421.27 L393.20 421.27 L393.60 421.27 L394.00 421.28 L394.40 421.28 L394.80 421.28 L395.20 421.28 L395.60 421.29 L396.00 421.29 L396.40 421.29 L396.80 421.29 L397.20 421.29 L397.60 421.30 L398.00 421.30 L398.40 421.30 L398.80 421.30 L399.20 421.30 L399.60 421.30 L400.00 421.30 L400.40 421.30 L400.80 421.30 L401.20 421.30 L401.60 421.30 L402.00 421.30 L402.40 421.30 L402.80 421.30 L403.20 421.30 L403.60 421.30 L404.00 421.30 L404.40 421.30 L404.80 421.30 L405.20 421.30 L405.60 421.30 L406.00 421.30 L406.40 421.30 L406.80 421.30 L407.20 421.30 L407.60 421.30 L408.00 421.30 L408.40 421.30 L408.80 421.30 L409.20 421.30 L409.60 421.30 L410.00 421.30 L410.40 421.30 L410.80 421.30 L411.20 421.30 L411.60 421.30 L412.00 421.30 L412.40 421.30 L412.80 421.30 L413.20 421.30 L413.60 421.30 L414.00 421.26 L414.40 421.19 L414.80 421.07 L415.20 420.93 L415.60 420.75 L416.00 420.56 L416.40 420.34 L416.80 419.97 L417.20 419.44 L417.60 418.80 L418.00 418.08 L418.40 417.33 L418.80 416.60 L419.20 415.88 L419.60 415.13 L420.00 414.34 L420.40 413.50 L420.80 412.62 L421.20 411.69 L421.60 410.70 L422.00 409.64 L422.40 408.51 L422.80 407.32 L423.20 406.06 L423.60 404.74 L424.00 403.37 L424.40 401.95 L424.80 400.49 L425.20 398.99 L425.60 397.46 L426.00 395.91 L426.40 394.26 L426.80 392.53 L427.20 390.71 L427.60 388.83 L428.00 386.91 L428.40 384.95 L428.80 382.98 L429.20 381.01 L429.60 379.06 L430.00 377.14 L430.40 375.26 L430.80 373.38 L431.20 371.50 L431.60 369.60 L432.00 367.71 L432.40 365.82 L432.80 363.94 L433.20 362.07 L433.60 360.21 L434.00 358.37 L434.40 356.55 L434.80 354.75 L435.20 352.98 L435.60 351.22 L436.00 349.48 L436.40 347.74 L436.80 346.02 L437.20 344.30 L437.60 342.58 L438.00 340.86 L438.40 339.13 L438.80 337.40 L439.20 335.65 L439.60 333.90 L440.00 332.13 L440.40 330.37 L440.80 328.60 L441.20 326.84 L441.60 325.09 L442.00 323.36 L442.40 321.64 L442.80 319.95 L443.20 318.28 L443.60 316.58 L444.00 314.84 L444.40 313.09 L444.80 311.37 L445.20 309.71 L445.60 308.13 L446.00 306.68 L446.40 305.38 L446.80 304.24 L447.20 303.15 L447.60 302.13 L448.00 301.19 L448.40 300.39 L448.80 299.75 L449.20 299.28 L449.60 298.85 L450.00 298.47 L450.40 298.18 L450.80 298.02 L451.20 298.02 L451.60 298.15 L452.00 298.39 L452.40 298.70 L452.80 299.04 L453.20 299.40 L453.60 299.79 L454.00 300.26 L454.40 300.80 L454.80 301.41 L455.20 302.09 L455.60 302.82 L456.00 303.61 L456.40 304.57 L456.80 305.66 L457.20 306.87 L457.60 308.16 L458.00 309.50 L458.40 310.93 L458.80 312.49 L459.20 314.17 L459.60 315.92 L460.00 317.74 L460.40 319.62 L460.80 321.60 L461.20 323.67 L461.60 325.81 L462.00 328.01 L462.40 330.24 L462.80 332.50 L463.20 334.76 L463.60 337.01 L464.00 339.23 L464.40 341.40 L464.80 343.57 L465.20 345.77 L465.60 347.99 L466.00 350.22 L466.40 352.44 L466.80 354.64 L467.20 356.80 L467.60 358.90 L468.00 360.94 L468.40 362.90 L468.80 364.76 L469.20 366.56 L469.60 368.33 L470.00 370.05 L470.40 371.74 L470.80 373.38 L471.20 374.98 L471.60 376.53 L472.00 378.04 L472.40 379.50 L472.80 380.91 L473.20 382.28 L473.60 383.63 L474.00 384.95 L474.40 386.25 L474.80 387.52 L475.20 388.74 L475.60 389.93 L476.00 391.07 L476.40 392.15 L476.80 393.18 L477.20 394.14 L477.60 395.05 L478.00 395.93 L478.40 396.79 L478.80 397.63 L479.20 398.45 L479.60 399.24 L480.00 400.01 L480.40 400.74 L480.80 401.44 L481.20 402.11 L481.60 402.73 L482.00 403.32 L482.40 403.86 L482.80 404.36 L483.20 404.81 L483.60 405.24 L484.00 405.65 L484.40 406.05 L484.80 406.44 L485.20 406.82 L485.60 407.18 L486.00 407.54 L486.40 407.88 L486.80 408.21 L487.20 408.52 L487.60 408.82 L488.00 409.11 L488.40 409.39 L488.80 409.66 L489.20 409.91 L489.60 410.15 L490.00 410.38 L490.40 410.59 L490.80 410.79 L491.20 410.98 L491.60 411.16 L492.00 411.32 L492.40 411.48 L492.80 411.64 L493.20 411.79 L493.60 411.94 L494.00 412.08 L494.40 412.21 L494.80 412.35 L495.20 412.48 L495.60 412.60 L496.00 412.72 L496.40 412.84 L496.80 412.95 L497.20 413.07 L497.60 413.17 L498.00 413.28 L498.40 413.38 L498.80 413.48 L499.20 413.57 L499.60 413.66 L500.00 413.75 L500.40 413.84 L500.80 413.93 L501.20 414.01 L501.60 414.09 L502.00 414.17 L502.40 414.25 L502.80 414.33 L503.20 414.40 L503.60 414.47 L504.00 414.55 L504.40 414.62 L504.80 414.69 L505.20 414.76 L505.60 414.82 L506.00 414.89 L506.40 414.96 L506.80 415.02 L507.20 415.08 L507.60 415.15 L508.00 415.21 L508.40 415.27 L508.80 415.33 L509.20 415.39 L509.60 415.45 L510.00 415.50 L510.40 415.56 L510.80 415.62 L511.20 415.67 L511.60 415.72 L512.00 415.78 L512.40 415.83 L512.80 415.88 L513.20 415.93 L513.60 415.98 L514.00 416.03 L514.40 416.07 L514.80 416.12 L515.20 416.17 L515.60 416.21 L516.00 416.25 L516.40 416.30 L516.80 416.34 L517.20 416.38 L517.60 416.42 L518.00 416.46 L518.40 416.50 L518.80 416.54 L519.20 416.58 L519.60 416.62 L520.00 416.65 L520.40 416.69 L520.80 416.73 L521.20 416.76 L521.60 416.79 L522.00 416.83 L522.40 416.86 L522.80 416.89 L523.20 416.92 L523.60 416.95 L524.00 416.98 L524.40 417.01 L524.80 417.04 L525.20 417.07 L525.60 417.10 L526.00 417.13 L526.40 417.15 L526.80 417.18 L527.20 417.21 L527.60 417.23 L528.00 417.26 L528.40 417.28 L528.80 417.31 L529.20 417.33 L529.60 417.36 L530.00 417.38 L530.40 417.40 L530.80 417.43 L531.20 417.45 L531.60 417.48 L532.00 417.50 L532.40 417.52 L532.80 417.55 L533.20 417.57 L533.60 417.60 L534.00 417.62 L534.40 417.64 L534.80 417.67 L535.20 417.69 L535.60 417.72 L536.00 417.74 L536.40 417.76 L536.80 417.79 L537.20 417.82 L537.60 417.84 L538.00 417.87 L538.40 417.89" fill="none" stroke="#333" stroke-width="1.2" stroke-linejoin="round" stroke-linecap="round" />
<path d="M320.00 424.53 L320.30 425.28 L320.60 423.14 L320.90 425.40 L321.20 424.27 L321.50 423.78 L321.80 423.78 L322.10 423.60 L322.40 424.16 L322.70 424.85 L323.00 424.69 L323.30 424.72 L323.60 423.20 L323.90 423.29 L324.20 425.32 L324.50 424.94 L324.80 425.73 L325.10 425.10 L325.40 423.64 L325.70 425.15 L326.00 424.72 L326.30 424.45 L326.60 423.78 L326.90 424.31 L327.20 424.22 L327.50 424.89 L327.80 424.39 L328.10 425.34 L328.40 423.81 L328.70 424.62 L329.00 424.64 L329.30 423.75 L329.60 423.55 L329.90 424.97 L330.20 424.65 L330.50 424.21 L330.80 424.57 L331.10 423.88 L331.40 424.47 L331.70 423.92 L332.00 424.44 L332.30 424.96 L332.60 424.10 L332.90 424.87 L333.20 423.65 L333.50 424.13 L333.80 423.43 L334.10 424.25 L334.40 424.37 L334.70 424.19 L335.00 424.15 L335.30 425.19 L335.60 425.25 L335.90 423.53 L336.20 425.09 L336.50 423.20 L336.80 423.85 L337.10 424.21 L337.40 424.40 L337.70 423.64 L338.00 423.85 L338.30 424.37 L338.60 423.87 L338.90 423.91 L339.20 424.76 L339.50 424.93 L339.80 424.29 L340.10 424.34 L340.40 424.31 L340.70 424.03 L341.00 424.00 L341.30 423.65 L341.60 424.75 L341.90 424.27 L342.20 424.24 L342.50 424.46 L342.80 424.67 L343.10 425.25 L343.40 424.15 L343.70 424.07 L344.00 424.46 L344.30 423.78 L344.60 425.16 L344.90 424.93 L345.20 424.78 L345.50 424.26 L345.80 424.81 L346.10 425.02 L346.40 424.66 L346.70 424.15 L347.00 423.24 L347.30 424.95 L347.60 424.11 L347.90 423.79 L348.20 424.92 L348.50 424.56 L348.80 423.42 L349.10 424.27 L349.40 424.16 L349.70 424.98 L350.00 423.11 L350.30 424.09 L350.60 424.25 L350.90 425.26 L351.20 423.64 L351.50 422.43 L351.80 423.44 L352.10 424.51 L352.40 424.87 L352.70 425.47 L353.00 424.61 L353.30 423.82 L353.60 424.92 L353.90 424.34 L354.20 424.22 L354.50 424.36 L354.80 425.18 L355.10 423.76 L355.40 423.68 L355.70 424.31 L356.00 424.31 L356.30 423.82 L356.60 423.78 L356.90 424.60 L357.20 425.22 L357.50 424.82 L357.80 424.80 L358.10 425.17 L358.40 423.06 L358.70 423.38 L359.00 423.90 L359.30 423.58 L359.60 423.72 L359.90 424.41 L360.20 423.53 L360.50 424.07 L360.80 423.04 L361.10 423.73 L361.40 425.24 L361.70 424.01 L362.00 424.58 L362.30 424.83 L362.60 424.05 L362.90 424.75 L363.20 424.51 L363.50 424.83 L363.80 423.96 L364.10 423.44 L364.40 423.71 L364.70 424.02 L365.00 424.73 L365.30 424.25 L365.60 424.12 L365.90 424.27 L366.20 425.10 L366.50 424.01 L366.80 425.37 L367.10 423.59 L367.40 424.00 L367.70 424.95 L368.00 424.73 L368.30 423.84 L368.60 424.32 L368.90 423.93 L369.20 424.95 L369.50 424.75 L369.80 423.94 L370.10 424.66 L370.40 424.17 L370.70 424.36 L371.00 424.46 L371.30 424.07 L371.60 424.72 L371.90 424.76 L372.20 424.76 L372.50 425.22 L372.80 424.34 L373.10 423.58 L373.40 424.25 L373.70 424.72 L374.00 424.63 L374.30 425.02 L374.60 425.20 L374.90 424.62 L375.20 424.66 L375.50 424.11 L375.80 425.46 L376.10 424.64 L376.40 424.14 L376.70 424.14 L377.00 424.62 L377.30 425.93 L377.60 425.45 L377.90 423.87 L378.20 424.91 L378.50 425.18 L378.80 425.44 L379.10 425.27 L379.40 424.64 L379.70 425.34 L380.00 424.72 L380.30 423.64 L380.60 424.64 L380.90 424.65 L381.20 425.72 L381.50 425.78 L381.80 424.41 L382.10 425.19 L382.40 425.11 L382.70 424.10 L383.00 423.68 L383.30 424.93 L383.60 425.05 L383.90 424.55 L384.20 423.14 L384.50 424.85 L384.80 424.46 L385.10 424.23 L385.40 424.56 L385.70 424.00 L386.00 425.06 L386.30 424.67 L386.60 424.27 L386.90 424.78 L387.20 424.55 L387.50 423.55 L387.80 424.42 L388.10 424.19 L388.40 423.33 L388.70 424.02 L389.00 424.71 L389.30 424.01 L389.60 425.32 L389.90 425.50 L390.20 424.20 L390.50 424.76 L390.80 425.69 L391.10 424.18 L391.40 423.81 L391.70 424.11 L392.00 423.49 L392.30 423.51 L392.60 424.52 L392.90 424.11 L393.20 424.54 L393.50 424.69 L393.80 423.88 L394.10 424.25 L394.40 424.19 L394.70 423.93 L395.00 423.82 L395.30 424.57 L395.60 424.27 L395.90 424.58 L396.20 425.01 L396.50 425.02 L396.80 423.63 L397.10 423.80 L397.40 424.18 L397.70 424.43 L398.00 424.96 L398.30 423.72 L398.60 424.06 L398.90 424.50 L399.20 425.14 L399.50 425.23 L399.80 423.68 L400.10 424.20 L400.40 423.81 L400.70 424.88 L401.00 424.62 L401.30 424.09 L401.60 423.93 L401.90 424.51 L402.20 424.96 L402.50 423.82 L402.80 424.11 L403.10 424.39 L403.40 424.33 L403.70 424.53 L404.00 423.66 L404.30 423.92 L404.60 422.94 L404.90 424.34 L405.20 425.00 L405.50 422.97 L405.80 423.89 L406.10 424.88 L406.40 424.20 L406.70 423.06 L407.00 425.05 L407.30 423.37 L407.60 425.18 L407.90 423.91 L408.20 423.83 L408.50 424.30 L408.80 424.27 L409.10 424.67 L409.40 424.61 L409.70 424.18 L410.00 425.14 L410.30 424.74 L410.60 424.45 L410.90 424.36 L411.20 424.21 L411.50 424.22 L411.80 424.70 L412.10 424.58 L412.40 424.29 L412.70 424.93 L413.00 424.09 L413.30 424.55 L413.60 424.82 L413.90 423.54 L414.20 424.09 L414.50 425.34 L414.80 423.63 L415.10 425.00 L415.40 423.56 L415.70 424.52 L416.00 423.56 L416.30 423.85 L416.60 424.00 L416.90 423.89 L417.20 424.90 L417.50 424.79 L417.80 424.81 L418.10 424.37 L418.40 425.30 L418.70 424.91 L419.00 424.45 L419.30 423.55 L419.60 424.68 L419.90 424.66 L420.20 424.29 L420.50 424.70 L420.80 424.73 L421.10 424.04 L421.40 424.60 L421.70 424.45 L422.00 424.43 L422.30 424.00 L422.60 423.92 L422.90 424.30 L423.20 425.15 L423.50 425.73 L423.80 423.98 L424.10 423.53 L424.40 423.99 L424.70 423.67 L425.00 423.94 L425.30 424.47 L425.60 423.62 L425.90 424.61 L426.20 424.72 L426.50 425.19 L426.80 425.39 L427.10 424.86 L427.40 425.68 L427.70 423.88 L428.00 424.38 L428.30 424.31 L428.60 424.49 L428.90 424.87 L429.20 423.99 L429.50 425.31 L429.80 425.03 L430.10 424.43 L430.40 424.50 L430.70 423.57 L431.00 422.58 L431.30 424.14 L431.60 424.40 L431.90 424.34 L432.20 423.48 L432.50 423.90 L432.80 425.33 L433.10 424.67 L433.40 424.59 L433.70 423.99 L434.00 424.67 L434.30 425.02 L434.60 424.68 L434.90 423.93 L435.20 424.37 L435.50 423.62 L435.80 423.99 L436.10 424.57 L436.40 423.84 L436.70 424.03 L437.00 425.11 L437.30 424.07 L437.60 424.68 L437.90 423.99 L438.20 423.45 L438.50 424.18 L438.80 423.95 L439.10 422.88 L439.40 423.40 L439.70 423.91 L440.00 425.13 L440.30 423.80 L440.60 424.15 L440.90 424.58 L441.20 424.36 L441.50 423.95 L441.80 425.27 L442.10 425.04 L442.40 422.60 L442.70 424.79 L443.00 424.52 L443.30 424.80 L443.60 424.22 L443.90 424.70 L444.20 425.41 L444.50 425.27 L444.80 425.32 L445.10 424.84 L445.40 424.76 L445.70 424.77 L446.00 423.44 L446.30 425.63 L446.60 424.31 L446.90 424.37 L447.20 424.24 L447.50 424.46 L447.80 422.79 L448.10 424.31 L448.40 423.34 L448.70 423.52 L449.00 422.96 L449.30 423.05 L449.60 424.53 L449.90 423.84 L450.20 424.08 L450.50 424.04 L450.80 423.40 L451.10 423.69 L451.40 423.33 L451.70 423.95 L452.00 422.71 L452.30 423.89 L452.60 424.73 L452.90 424.92 L453.20 424.88 L453.50 424.46 L453.80 423.49 L454.10 424.72 L454.40 424.47 L454.70 424.31 L455.00 423.35 L455.30 424.39 L455.60 425.05 L455.90 424.61 L456.20 423.98 L456.50 424.48 L456.80 424.13 L457.10 424.25 L457.40 424.68 L457.70 424.35 L458.00 424.18 L458.30 424.38 L458.60 423.60 L458.90 423.48 L459.20 424.44 L459.50 423.74 L459.80 424.49 L460.10 422.94 L460.40 424.90 L460.70 424.06 L461.00 425.20 L461.30 422.52 L461.60 423.04 L461.90 425.03 L462.20 424.22 L462.50 424.32 L462.80 424.20 L463.10 424.22 L463.40 424.47 L463.70 423.47 L464.00 424.01 L464.30 424.96 L464.60 424.24 L464.90 423.72 L465.20 424.18 L465.50 424.79 L465.80 423.99 L466.10 424.00 L466.40 424.43 L466.70 424.67 L467.00 425.07 L467.30 424.03 L467.60 424.34 L467.90 424.79 L468.20 422.89 L468.50 424.21 L468.80 424.42 L469.10 424.06 L469.40 423.57 L469.70 424.50 L470.00 424.92 L470.30 424.06 L470.60 423.81 L470.90 423.98 L471.20 425.12 L471.50 424.92 L471.80 424.15 L472.10 423.41 L472.40 423.30 L472.70 423.91 L473.00 423.91 L473.30 424.29 L473.60 423.39 L473.90 424.04 L474.20 424.46 L474.50 423.03 L474.80 425.60 L475.10 424.49 L475.40 424.46 L475.70 423.28 L476.00 423.45 L476.30 424.78 L476.60 424.69 L476.90 422.54 L477.20 424.87 L477.50 424.59 L477.80 424.52 L478.10 423.40 L478.40 424.29 L478.70 423.73 L479.00 424.48 L479.30 425.31 L479.60 424.54 L479.90 424.78 L480.20 423.92 L480.50 423.46 L480.80 424.13 L481.10 424.79 L481.40 425.07 L481.70 424.08 L482.00 424.29 L482.30 423.86 L482.60 423.01 L482.90 424.18 L483.20 424.35 L483.50 423.85 L483.80 424.01 L484.10 422.95 L484.40 424.16 L484.70 425.02 L485.00 424.10 L485.30 424.51 L485.60 424.41 L485.90 423.63 L486.20 424.25 L486.50 423.59 L486.80 426.01 L487.10 424.25 L487.40 423.41 L487.70 423.12 L488.00 425.08 L488.30 424.51 L488.60 424.37 L488.90 423.23 L489.20 423.75 L489.50 423.33 L489.80 424.83 L490.10 423.77 L490.40 425.36 L490.70 424.45 L491.00 423.90 L491.30 424.98 L491.60 422.75 L491.90 423.57 L492.20 423.85 L492.50 424.80 L492.80 424.81 L493.10 424.34 L493.40 422.96 L493.70 423.76 L494.00 423.39 L494.30 424.92 L494.60 423.82 L494.90 424.49 L495.20 425.31 L495.50 424.06 L495.80 424.56 L496.10 423.86 L496.40 424.14 L496.70 424.13 L497.00 424.11 L497.30 424.15 L497.60 423.85 L497.90 425.32 L498.20 423.68 L498.50 424.26 L498.80 423.91 L499.10 422.63 L499.40 424.73 L499.70 424.25 L500.00 423.21 L500.30 423.62 L500.60 423.05 L500.90 424.28 L501.20 425.11 L501.50 424.88 L501.80 423.25 L502.10 422.97 L502.40 424.43 L502.70 425.18 L503.00 424.12 L503.30 424.77 L503.60 423.18 L503.90 424.01 L504.20 424.37 L504.50 423.82 L504.80 423.94 L505.10 424.53 L505.40 423.68 L505.70 423.44 L506.00 424.57 L506.30 424.24 L506.60 423.43 L506.90 424.36 L507.20 423.71 L507.50 424.49 L507.80 424.07 L508.10 423.89 L508.40 423.57 L508.70 424.20 L509.00 424.04 L509.30 425.30 L509.60 424.04 L509.90 423.20 L510.20 425.42 L510.50 422.75 L510.80 425.14 L511.10 423.51 L511.40 424.97 L511.70 423.95 L512.00 424.42 L512.30 424.09 L512.60 423.99 L512.90 424.40 L513.20 423.65 L513.50 424.37 L513.80 423.36 L514.10 423.59 L514.40 423.73 L514.70 423.99 L515.00 424.85 L515.30 423.51 L515.60 423.50 L515.90 423.32 L516.20 423.79 L516.50 424.42 L516.80 423.57 L517.10 423.86 L517.40 423.67 L517.70 424.10 L518.00 422.74 L518.30 424.43 L518.60 424.65 L518.90 423.50 L519.20 424.00 L519.50 423.46 L519.80 424.70 L520.10 424.46 L520.40 425.93 L520.70 423.91 L521.00 423.48 L521.30 423.73 L521.60 423.23 L521.90 424.18 L522.20 424.25 L522.50 424.65 L522.80 424.31 L523.10 423.78 L523.40 424.89 L523.70 424.42 L524.00 424.59 L524.30 423.28 L524.60 423.50 L524.90 423.63 L525.20 423.79 L525.50 422.63 L525.80 424.83 L526.10 423.91 L526.40 424.60 L526.70 424.55 L527.00 425.02 L527.30 424.42 L527.60 424.29 L527.90 423.57 L528.20 424.13 L528.50 425.19 L528.80 422.91 L529.10 423.60 L529.40 424.23 L529.70 425.11 L530.00 423.34 L530.30 423.76 L530.60 424.16 L530.90 426.08 L531.20 423.50 L531.50 423.96 L531.80 424.55 L532.10 423.60 L532.40 424.31 L532.70 424.33 L533.00 423.83 L533.30 424.29 L533.60 425.19 L533.90 424.15 L534.20 423.79 L534.50 423.58 L534.80 424.22 L535.10 424.74 L535.40 424.16 L535.70 424.27 L536.00 425.79 L536.30 423.57 L536.60 423.37 L536.90 424.24 L537.20 423.93 L537.50 424.44 L537.80 424.87 L538.10 424.30 L538.40 423.93 L538.70 424.40 L539.00 424.37" fill="none" stroke="#f03030" stroke-width="1.7" stroke-linejoin="round" stroke-linecap="round" />
<path d="M320.00 421.18 L320.30 421.01 L320.60 420.87 L320.90 419.74 L321.20 421.11 L321.50 419.83 L321.80 421.35 L322.10 421.20 L322.40 421.31 L322.70 421.31 L323.00 421.04 L323.30 420.62 L323.60 420.74 L323.90 421.64 L324.20 420.60 L324.50 420.77 L324.80 420.53 L325.10 420.63 L325.40 420.73 L325.70 421.01 L326.00 420.74 L326.30 420.71 L326.60 420.58 L326.90 420.93 L327.20 420.21 L327.50 420.91 L327.80 421.54 L328.10 420.50 L328.40 420.86 L328.70 422.29 L329.00 420.38 L329.30 420.07 L329.60 420.66 L329.90 421.78 L330.20 421.89 L330.50 420.27 L330.80 421.16 L331.10 420.88 L331.40 420.58 L331.70 419.90 L332.00 421.38 L332.30 420.44 L332.60 421.02 L332.90 420.91 L333.20 421.80 L333.50 421.46 L333.80 420.29 L334.10 420.73 L334.40 421.38 L334.70 420.20 L335.00 420.67 L335.30 420.98 L335.60 420.05 L335.90 420.24 L336.20 420.01 L336.50 421.00 L336.80 420.58 L337.10 421.32 L337.40 420.91 L337.70 421.14 L338.00 420.81 L338.30 421.23 L338.60 420.80 L338.90 420.36 L339.20 421.44 L339.50 421.34 L339.80 421.99 L340.10 420.78 L340.40 420.56 L340.70 420.13 L341.00 418.92 L341.30 420.19 L341.60 421.09 L341.90 420.40 L342.20 419.55 L342.50 421.15 L342.80 420.55 L343.10 420.66 L343.40 420.63 L343.70 420.78 L344.00 421.08 L344.30 419.97 L344.60 420.73 L344.90 420.59 L345.20 421.41 L345.50 420.32 L345.80 421.66 L346.10 421.14 L346.40 421.65 L346.70 420.48 L347.00 421.24 L347.30 421.02 L347.60 420.08 L347.90 420.70 L348.20 420.61 L348.50 420.35 L348.80 420.45 L349.10 420.11 L349.40 420.60 L349.70 421.00 L350.00 420.44 L350.30 420.05 L350.60 421.35 L350.90 420.64 L351.20 420.84 L351.50 420.71 L351.80 420.55 L352.10 421.12 L352.40 420.56 L352.70 420.84 L353.00 420.10 L353.30 420.00 L353.60 420.62 L353.90 421.77 L354.20 420.91 L354.50 421.78 L354.80 421.04 L355.10 421.04 L355.40 420.52 L355.70 420.80 L356.00 421.71 L356.30 421.41 L356.60 420.50 L356.90 420.58 L357.20 421.48 L357.50 420.55 L357.80 421.27 L358.10 420.35 L358.40 421.12 L358.70 421.57 L359.00 421.22 L359.30 420.93 L359.60 420.88 L359.90 420.76 L360.20 420.79 L360.50 421.39 L360.80 421.38 L361.10 421.01 L361.40 420.17 L361.70 420.54 L362.00 420.95 L362.30 420.82 L362.60 420.12 L362.90 421.13 L363.20 422.10 L363.50 420.18 L363.80 420.83 L364.10 421.60 L364.40 420.58 L364.70 420.59 L365.00 420.88 L365.30 421.07 L365.60 420.58 L365.90 421.28 L366.20 419.84 L366.50 421.12 L366.80 420.97 L367.10 420.71 L367.40 420.98 L367.70 420.81 L368.00 421.45 L368.30 420.55 L368.60 420.76 L368.90 420.09 L369.20 420.22 L369.50 420.66 L369.80 420.00 L370.10 420.36 L370.40 420.12 L370.70 420.53 L371.00 420.84 L371.30 421.25 L371.60 419.81 L371.90 420.67 L372.20 421.21 L372.50 421.46 L372.80 421.48 L373.10 420.05 L373.40 420.51 L373.70 421.05 L374.00 421.24 L374.30 420.91 L374.60 420.90 L374.90 420.89 L375.20 420.38 L375.50 420.85 L375.80 421.17 L376.10 420.59 L376.40 421.35 L376.70 419.34 L377.00 420.60 L377.30 421.61 L377.60 421.20 L377.90 421.48 L378.20 420.83 L378.50 420.17 L378.80 420.50 L379.10 421.52 L379.40 419.84 L379.70 420.28 L380.00 419.90 L380.30 420.49 L380.60 420.54 L380.90 421.04 L381.20 420.34 L381.50 421.61 L381.80 421.07 L382.10 420.51 L382.40 420.25 L382.70 420.00 L383.00 420.81 L383.30 421.74 L383.60 420.66 L383.90 420.23 L384.20 420.72 L384.50 420.49 L384.80 420.29 L385.10 419.79 L385.40 420.71 L385.70 421.48 L386.00 421.35 L386.30 421.23 L386.60 420.84 L386.90 420.98 L387.20 421.24 L387.50 420.71 L387.80 420.88 L388.10 420.54 L388.40 421.30 L388.70 420.27 L389.00 421.08 L389.30 421.16 L389.60 421.15 L389.90 421.09 L390.20 420.50 L390.50 420.45 L390.80 420.53 L391.10 420.54 L391.40 420.17 L391.70 420.51 L392.00 420.41 L392.30 420.25 L392.60 420.91 L392.90 420.35 L393.20 420.85 L393.50 421.46 L393.80 421.57 L394.10 420.73 L394.40 421.24 L394.70 420.85 L395.00 421.92 L395.30 421.55 L395.60 421.28 L395.90 420.64 L396.20 420.59 L396.50 420.99 L396.80 420.70 L397.10 420.59 L397.40 421.07 L397.70 420.09 L398.00 419.71 L398.30 420.20 L398.60 420.13 L398.90 420.67 L399.20 420.27 L399.50 420.61 L399.80 419.69 L400.10 421.44 L400.40 420.90 L400.70 420.27 L401.00 420.86 L401.30 421.32 L401.60 421.12 L401.90 420.66 L402.20 421.01 L402.50 421.14 L402.80 420.09 L403.10 419.97 L403.40 420.40 L403.70 421.19 L404.00 421.44 L404.30 420.76 L404.60 421.45 L404.90 421.19 L405.20 420.65 L405.50 420.32 L405.80 420.37 L406.10 420.73 L406.40 421.39 L406.70 421.11 L407.00 420.03 L407.30 420.07 L407.60 421.09 L407.90 420.78 L408.20 420.21 L408.50 421.02 L408.80 421.37 L409.10 421.08 L409.40 420.73 L409.70 421.35 L410.00 420.48 L410.30 420.38 L410.60 420.21 L410.90 421.63 L411.20 421.74 L411.50 420.65 L411.80 420.97 L412.10 420.90 L412.40 421.14 L412.70 421.27 L413.00 421.01 L413.30 420.62 L413.60 420.41 L413.90 420.16 L414.20 419.35 L414.50 420.62 L414.80 420.25 L415.10 420.68 L415.40 420.61 L415.70 420.15 L416.00 420.41 L416.30 420.87 L416.60 420.74 L416.90 420.22 L417.20 420.28 L417.50 420.94 L417.80 420.77 L418.10 420.81 L418.40 420.57 L418.70 421.02 L419.00 420.70 L419.30 421.92 L419.60 420.41 L419.90 420.29 L420.20 421.48 L420.50 420.61 L420.80 420.25 L421.10 420.86 L421.40 419.48 L421.70 420.87 L422.00 420.65 L422.30 420.77 L422.60 420.23 L422.90 421.30 L423.20 420.79 L423.50 420.62 L423.80 420.81 L424.10 420.21 L424.40 420.57 L424.70 419.88 L425.00 420.08 L425.30 420.77 L425.60 420.68 L425.90 421.00 L426.20 420.29 L426.50 420.57 L426.80 420.28 L427.10 420.75 L427.40 421.01 L427.70 421.15 L428.00 420.90 L428.30 420.22 L428.60 420.72 L428.90 420.09 L429.20 419.65 L429.50 420.69 L429.80 420.65 L430.10 420.98 L430.40 421.01 L430.70 419.98 L431.00 420.14 L431.30 420.59 L431.60 420.63 L431.90 420.80 L432.20 419.94 L432.50 420.46 L432.80 420.91 L433.10 421.54 L433.40 419.96 L433.70 421.39 L434.00 420.44 L434.30 419.86 L434.60 421.25 L434.90 420.05 L435.20 419.99 L435.50 420.94 L435.80 421.09 L436.10 420.61 L436.40 420.21 L436.70 419.82 L437.00 420.62 L437.30 419.40 L437.60 419.84 L437.90 421.09 L438.20 420.87 L438.50 421.17 L438.80 420.76 L439.10 419.99 L439.40 420.79 L439.70 419.65 L440.00 420.90 L440.30 421.23 L440.60 420.05 L440.90 421.06 L441.20 420.56 L441.50 420.46 L441.80 419.56 L442.10 420.46 L442.40 420.97 L442.70 419.68 L443.00 420.30 L443.30 420.18 L443.60 419.72 L443.90 421.06 L444.20 420.54 L444.50 420.55 L444.80 421.02 L445.10 420.15 L445.40 422.16 L445.70 420.30 L446.00 419.94 L446.30 420.84 L446.60 420.72 L446.90 420.05 L447.20 420.08 L447.50 420.94 L447.80 420.68 L448.10 420.74 L448.40 420.96 L448.70 420.23 L449.00 421.16 L449.30 420.55 L449.60 420.89 L449.90 420.07 L450.20 420.91 L450.50 420.67 L450.80 421.77 L451.10 420.46 L451.40 421.30 L451.70 420.85 L452.00 421.32 L452.30 420.65 L452.60 420.77 L452.90 419.42 L453.20 419.89 L453.50 421.05 L453.80 420.74 L454.10 420.91 L454.40 420.40 L454.70 420.92 L455.00 420.35 L455.30 420.50 L455.60 421.13 L455.90 421.06 L456.20 420.30 L456.50 420.55 L456.80 420.64 L457.10 420.45 L457.40 420.47 L457.70 420.04 L458.00 420.80 L458.30 419.99 L458.60 420.03 L458.90 421.14 L459.20 421.42 L459.50 421.43 L459.80 420.68 L460.10 420.24 L460.40 420.87 L460.70 421.28 L461.00 420.56 L461.30 420.30 L461.60 419.67 L461.90 419.66 L462.20 421.35 L462.50 419.76 L462.80 420.16 L463.10 420.34 L463.40 420.61 L463.70 419.84 L464.00 420.77 L464.30 420.77 L464.60 420.52 L464.90 420.17 L465.20 420.30 L465.50 419.52 L465.80 420.79 L466.10 420.21 L466.40 419.79 L466.70 420.45 L467.00 420.72 L467.30 420.65 L467.60 420.78 L467.90 421.05 L468.20 420.20 L468.50 420.55 L468.80 420.59 L469.10 419.73 L469.40 421.00 L469.70 420.29 L470.00 420.57 L470.30 420.60 L470.60 420.04 L470.90 420.85 L471.20 420.93 L471.50 420.53 L471.80 419.00 L472.10 421.12 L472.40 420.36 L472.70 420.11 L473.00 420.14 L473.30 419.89 L473.60 420.25 L473.90 420.74 L474.20 419.88 L474.50 420.53 L474.80 420.13 L475.10 420.30 L475.40 420.24 L475.70 420.58 L476.00 420.93 L476.30 420.42 L476.60 420.87 L476.90 421.16 L477.20 419.70 L477.50 420.81 L477.80 420.27 L478.10 420.32 L478.40 420.90 L478.70 420.30 L479.00 420.10 L479.30 421.05 L479.60 420.94 L479.90 420.62 L480.20 421.82 L480.50 419.92 L480.80 419.60 L481.10 420.31 L481.40 419.85 L481.70 420.60 L482.00 420.12 L482.30 420.11 L482.60 420.42 L482.90 419.99 L483.20 419.45 L483.50 420.05 L483.80 420.76 L484.10 420.52 L484.40 420.87 L484.70 421.24 L485.00 420.84 L485.30 420.37 L485.60 420.03 L485.90 420.63 L486.20 421.20 L486.50 421.11 L486.80 420.86 L487.10 419.99 L487.40 420.68 L487.70 420.75 L488.00 421.00 L488.30 419.76 L488.60 420.04 L488.90 420.46 L489.20 420.45 L489.50 420.08 L489.80 420.63 L490.10 420.24 L490.40 420.94 L490.70 420.14 L491.00 420.48 L491.30 419.33 L491.60 420.48 L491.90 420.05 L492.20 420.73 L492.50 420.29 L492.80 420.99 L493.10 420.11 L493.40 419.66 L493.70 420.49 L494.00 420.66 L494.30 420.00 L494.60 419.72 L494.90 420.74 L495.20 420.89 L495.50 420.73 L495.80 420.41 L496.10 420.36 L496.40 421.17 L496.70 420.76 L497.00 419.91 L497.30 419.82 L497.60 420.67 L497.90 420.72 L498.20 420.05 L498.50 419.98 L498.80 420.83 L499.10 420.19 L499.40 420.77 L499.70 419.80 L500.00 419.86 L500.30 419.49 L500.60 420.33 L500.90 420.14 L501.20 419.51 L501.50 420.42 L501.80 420.08 L502.10 420.23 L502.40 421.04 L502.70 420.82 L503.00 420.58 L503.30 420.17 L503.60 419.74 L503.90 420.00 L504.20 420.14 L504.50 420.96 L504.80 419.87 L505.10 420.06 L505.40 420.32 L505.70 420.52 L506.00 420.86 L506.30 420.98 L506.60 420.25 L506.90 421.28 L507.20 420.65 L507.50 419.93 L507.80 419.83 L508.10 420.11 L508.40 420.19 L508.70 420.71 L509.00 419.90 L509.30 420.03 L509.60 419.88 L509.90 420.44 L510.20 419.58 L510.50 420.58 L510.80 419.91 L511.10 420.19 L511.40 420.52 L511.70 420.45 L512.00 421.69 L512.30 419.84 L512.60 419.26 L512.90 419.64 L513.20 420.71 L513.50 419.76 L513.80 420.80 L514.10 420.18 L514.40 420.66 L514.70 419.53 L515.00 420.81 L515.30 420.86 L515.60 419.82 L515.90 420.94 L516.20 421.60 L516.50 420.28 L516.80 419.81 L517.10 419.98 L517.40 420.13 L517.70 420.78 L518.00 421.19 L518.30 420.07 L518.60 420.16 L518.90 419.58 L519.20 420.01 L519.50 420.51 L519.80 419.27 L520.10 420.61 L520.40 420.71 L520.70 420.87 L521.00 419.98 L521.30 419.48 L521.60 420.12 L521.90 419.75 L522.20 419.38 L522.50 419.88 L522.80 419.56 L523.10 421.22 L523.40 420.63 L523.70 420.69 L524.00 419.70 L524.30 420.94 L524.60 420.06 L524.90 420.68 L525.20 419.74 L525.50 420.56 L525.80 419.41 L526.10 420.16 L526.40 420.12 L526.70 419.56 L527.00 420.26 L527.30 419.96 L527.60 420.04 L527.90 420.61 L528.20 420.89 L528.50 420.14 L528.80 420.88 L529.10 420.74 L529.40 420.61 L529.70 421.03 L530.00 419.48 L530.30 420.90 L530.60 420.42 L530.90 420.03 L531.20 420.14 L531.50 420.74 L531.80 420.83 L532.10 420.58 L532.40 419.65 L532.70 419.50 L533.00 420.25 L533.30 420.54 L533.60 419.88 L533.90 420.66 L534.20 420.53 L534.50 420.46 L534.80 419.84 L535.10 420.84 L535.40 420.70 L535.70 420.90 L536.00 420.41 L536.30 419.59 L536.60 420.41 L536.90 420.65 L537.20 420.15 L537.50 419.64 L537.80 420.49 L538.10 420.53 L538.40 419.58 L538.70 419.85 L539.00 419.48" fill="none" stroke="#1f78e6" stroke-width="1.4" stroke-linejoin="round" stroke-linecap="round" />
<path d="M320.00 421.58 L320.40 421.64 L320.80 421.61 L321.20 421.81 L321.60 422.43 L322.00 421.52 L322.40 422.28 L322.80 422.38 L323.20 421.89 L323.60 421.79 L324.00 422.14 L324.40 422.36 L324.80 422.65 L325.20 422.27 L325.60 422.48 L326.00 421.86 L326.40 421.74 L326.80 421.48 L327.20 421.65 L327.60 421.89 L328.00 422.06 L328.40 421.61 L328.80 422.24 L329.20 421.97 L329.60 421.81 L330.00 421.77 L330.40 422.61 L330.80 422.05 L331.20 421.73 L331.60 421.71 L332.00 422.55 L332.40 421.83 L332.80 422.36 L333.20 422.43 L333.60 421.30 L334.00 422.41 L334.40 421.94 L334.80 421.67 L335.20 421.84 L335.60 422.17 L336.00 422.11 L336.40 422.13 L336.80 421.78 L337.20 422.38 L337.60 422.45 L338.00 422.55 L338.40 422.30 L338.80 422.57 L339.20 422.63 L339.60 422.21 L340.00 422.26 L340.40 422.17 L340.80 422.17 L341.20 422.26 L341.60 421.49 L342.00 421.90 L342.40 422.15 L342.80 421.37 L343.20 421.57 L343.60 422.48 L344.00 421.68 L344.40 421.86 L344.80 422.11 L345.20 421.86 L345.60 421.74 L346.00 421.85 L346.40 421.87 L346.80 421.83 L347.20 422.05 L347.60 422.48 L348.00 422.11 L348.40 422.49 L348.80 422.22 L349.20 422.25 L349.60 422.18 L350.00 421.91 L350.40 422.13 L350.80 422.09 L351.20 421.67 L351.60 422.22 L352.00 422.17 L352.40 422.11 L352.80 421.83 L353.20 421.21 L353.60 422.44 L354.00 421.98 L354.40 421.35 L354.80 422.19 L355.20 421.79 L355.60 422.21 L356.00 421.97 L356.40 422.34 L356.80 422.07 L357.20 422.08 L357.60 422.04 L358.00 422.37 L358.40 421.61 L358.80 422.35 L359.20 422.21 L359.60 421.83 L360.00 422.00 L360.40 421.87 L360.80 422.02 L361.20 422.28 L361.60 421.80 L362.00 422.22 L362.40 422.28 L362.80 422.19 L363.20 422.47 L363.60 421.98 L364.00 422.21 L364.40 422.74 L364.80 422.01 L365.20 421.96 L365.60 422.00 L366.00 422.18 L366.40 421.81 L366.80 421.93 L367.20 421.47 L367.60 421.69 L368.00 421.69 L368.40 421.65 L368.80 421.87 L369.20 422.21 L369.60 421.89 L370.00 421.60 L370.40 422.07 L370.80 422.05 L371.20 421.58 L371.60 422.04 L372.00 421.68 L372.40 421.81 L372.80 421.78 L373.20 422.25 L373.60 421.75 L374.00 421.90 L374.40 422.05 L374.80 422.31 L375.20 422.35 L375.60 421.69 L376.00 422.36 L376.40 422.09 L376.80 422.36 L377.20 422.32 L377.60 421.84 L378.00 422.01 L378.40 421.91 L378.80 422.11 L379.20 422.50 L379.60 422.02 L380.00 421.80 L380.40 422.76 L380.80 421.70 L381.20 422.00 L381.60 422.00 L382.00 421.62 L382.40 422.24 L382.80 422.32 L383.20 421.98 L383.60 422.02 L384.00 421.95 L384.40 421.47 L384.80 422.07 L385.20 421.63 L385.60 421.71 L386.00 422.12 L386.40 422.28 L386.80 421.74 L387.20 422.34 L387.60 422.53 L388.00 422.05 L388.40 421.98 L388.80 422.06 L389.20 421.88 L389.60 421.74 L390.00 422.19 L390.40 422.22 L390.80 421.85 L391.20 421.88 L391.60 421.81 L392.00 421.79 L392.40 421.71 L392.80 421.55 L393.20 422.27 L393.60 421.90 L394.00 422.02 L394.40 422.54 L394.80 421.86 L395.20 422.17 L395.60 421.60 L396.00 421.81 L396.40 422.21 L396.80 421.92 L397.20 421.57 L397.60 421.54 L398.00 422.10 L398.40 421.72 L398.80 422.20 L399.20 422.08 L399.60 421.90 L400.00 421.98 L400.40 422.22 L400.80 422.01 L401.20 421.72 L401.60 422.10 L402.00 421.89 L402.40 421.93 L402.80 422.17 L403.20 422.09 L403.60 422.30 L404.00 421.94 L404.40 421.86 L404.80 421.90 L405.20 422.11 L405.60 421.76 L406.00 421.89 L406.40 421.75 L406.80 421.77 L407.20 421.95 L407.60 422.71 L408.00 421.89 L408.40 422.07 L408.80 422.03 L409.20 421.95 L409.60 422.01 L410.00 422.57 L410.40 421.92 L410.80 422.47 L411.20 422.19 L411.60 421.74 L412.00 421.81 L412.40 421.86 L412.80 421.68 L413.20 422.34 L413.60 422.12 L414.00 422.15 L414.40 421.70 L414.80 422.14 L415.20 421.84 L415.60 422.71 L416.00 421.97 L416.40 422.08 L416.80 422.12 L417.20 421.86 L417.60 421.89 L418.00 421.88 L418.40 422.25 L418.80 421.79 L419.20 421.95 L419.60 422.10 L420.00 421.88 L420.40 421.60 L420.80 421.65 L421.20 421.88 L421.60 421.72 L422.00 422.28 L422.40 422.00 L422.80 421.99 L423.20 421.70 L423.60 422.15 L424.00 421.89 L424.40 421.72 L424.80 421.81 L425.20 422.69 L425.60 421.82 L426.00 421.74 L426.40 422.33 L426.80 422.21 L427.20 421.91 L427.60 422.40 L428.00 421.57 L428.40 421.86 L428.80 421.52 L429.20 422.39 L429.60 422.01 L430.00 422.75 L430.40 422.13 L430.80 422.13 L431.20 421.67 L431.60 421.65 L432.00 421.85 L432.40 422.25 L432.80 421.69 L433.20 421.29 L433.60 422.23 L434.00 422.25 L434.40 421.72 L434.80 422.11 L435.20 422.31 L435.60 422.32 L436.00 421.52 L436.40 422.00 L436.80 421.75 L437.20 422.26 L437.60 422.00 L438.00 421.62 L438.40 422.00 L438.80 422.15 L439.20 421.52 L439.60 421.57 L440.00 421.77 L440.40 421.88 L440.80 421.80 L441.20 421.43 L441.60 421.51 L442.00 421.95 L442.40 422.09 L442.80 421.71 L443.20 422.01 L443.60 422.52 L444.00 421.91 L444.40 421.84 L444.80 421.76 L445.20 422.11 L445.60 422.04 L446.00 422.05 L446.40 421.86 L446.80 422.10 L447.20 422.10 L447.60 421.94 L448.00 422.32 L448.40 421.52 L448.80 422.19 L449.20 421.94 L449.60 422.23 L450.00 422.54 L450.40 422.00 L450.80 421.93 L451.20 421.98 L451.60 422.39 L452.00 422.44 L452.40 422.04 L452.80 422.18 L453.20 422.52 L453.60 422.15 L454.00 421.55 L454.40 421.76 L454.80 421.85 L455.20 422.11 L455.60 421.83 L456.00 422.41 L456.40 421.86 L456.80 422.46 L457.20 421.81 L457.60 422.40 L458.00 422.06 L458.40 422.42 L458.80 422.58 L459.20 422.52 L459.60 422.31 L460.00 421.79 L460.40 421.77 L460.80 421.07 L461.20 422.45 L461.60 422.39 L462.00 422.31 L462.40 421.68 L462.80 422.83 L463.20 421.82 L463.60 422.27 L464.00 421.54 L464.40 421.83 L464.80 422.38 L465.20 422.32 L465.60 421.70 L466.00 421.99 L466.40 422.35 L466.80 421.47 L467.20 422.25 L467.60 421.56 L468.00 422.20 L468.40 421.94 L468.80 422.31 L469.20 421.86 L469.60 421.91 L470.00 421.91 L470.40 421.72 L470.80 421.92 L471.20 421.70 L471.60 421.84 L472.00 422.21 L472.40 421.91 L472.80 422.32 L473.20 422.21 L473.60 422.25 L474.00 421.66 L474.40 422.12 L474.80 422.43 L475.20 422.27 L475.60 422.37 L476.00 422.45 L476.40 421.55 L476.80 422.17 L477.20 422.17 L477.60 421.94 L478.00 421.61 L478.40 422.04 L478.80 421.95 L479.20 422.58 L479.60 422.39 L480.00 421.88 L480.40 421.69 L480.80 421.75 L481.20 421.99 L481.60 421.79 L482.00 422.59 L482.40 421.65 L482.80 421.98 L483.20 422.05 L483.60 422.13 L484.00 421.73 L484.40 421.94 L484.80 422.06 L485.20 422.10 L485.60 421.83 L486.00 421.91 L486.40 422.07 L486.80 422.58 L487.20 421.65 L487.60 422.22 L488.00 422.48 L488.40 421.59 L488.80 422.44 L489.20 422.43 L489.60 422.03 L490.00 422.30 L490.40 422.46 L490.80 421.97 L491.20 422.09 L491.60 421.70 L492.00 421.81 L492.40 422.04 L492.80 422.00 L493.20 422.50 L493.60 421.96 L494.00 421.66 L494.40 422.29 L494.80 422.30 L495.20 422.14 L495.60 421.99 L496.00 421.79 L496.40 421.83 L496.80 422.48 L497.20 422.26 L497.60 422.06 L498.00 422.15 L498.40 421.92 L498.80 421.75 L499.20 421.89 L499.60 422.01 L500.00 421.54 L500.40 421.59 L500.80 421.51 L501.20 421.89 L501.60 422.20 L502.00 421.62 L502.40 421.67 L502.80 421.53 L503.20 421.87 L503.60 421.65 L504.00 421.71 L504.40 421.68 L504.80 422.67 L505.20 421.97 L505.60 421.81 L506.00 421.87 L506.40 422.26 L506.80 422.29 L507.20 422.08 L507.60 421.42 L508.00 422.29 L508.40 422.32 L508.80 422.23 L509.20 422.14 L509.60 422.02 L510.00 422.36 L510.40 421.91 L510.80 422.31 L511.20 421.86 L511.60 421.89 L512.00 421.87 L512.40 421.84 L512.80 421.86 L513.20 422.23 L513.60 422.47 L514.00 421.79 L514.40 421.69 L514.80 422.37 L515.20 421.90 L515.60 422.08 L516.00 422.05 L516.40 422.27 L516.80 421.74 L517.20 422.34 L517.60 422.24 L518.00 421.35 L518.40 421.95 L518.80 421.89 L519.20 422.11 L519.60 421.98 L520.00 421.78 L520.40 421.90 L520.80 422.10 L521.20 422.01 L521.60 421.95 L522.00 422.66 L522.40 422.16 L522.80 421.67 L523.20 422.04 L523.60 422.10 L524.00 421.71 L524.40 422.03 L524.80 421.75 L525.20 421.34 L525.60 422.10 L526.00 422.19 L526.40 422.18 L526.80 421.96 L527.20 421.82 L527.60 422.07 L528.00 422.13 L528.40 422.27 L528.80 422.40 L529.20 422.24 L529.60 421.83 L530.00 421.99 L530.40 421.59 L530.80 422.22 L531.20 422.18 L531.60 422.36 L532.00 422.15 L532.40 422.47 L532.80 421.80 L533.20 422.10 L533.60 421.93 L534.00 421.94 L534.40 421.48 L534.80 421.78 L535.20 421.41 L535.60 421.90 L536.00 421.79 L536.40 422.04 L536.80 421.46 L537.20 421.84 L537.60 421.92 L538.00 421.31 L538.40 422.48 L538.80 422.13" fill="none" stroke="#f030e8" stroke-width="1.2" stroke-linejoin="round" stroke-linecap="round" />
<path d="M320.00 421.91 L320.40 421.60 L320.80 421.15 L321.20 421.44 L321.60 421.40 L322.00 421.43 L322.40 421.68 L322.80 421.12 L323.20 421.79 L323.60 421.16 L324.00 421.44 L324.40 421.76 L324.80 421.70 L325.20 421.29 L325.60 422.03 L326.00 421.61 L326.40 421.21 L326.80 421.51 L327.20 421.25 L327.60 421.63 L328.00 421.09 L328.40 421.64 L328.80 420.96 L329.20 421.82 L329.60 421.58 L330.00 421.90 L330.40 421.28 L330.80 420.87 L331.20 421.08 L331.60 421.42 L332.00 422.08 L332.40 421.67 L332.80 421.89 L333.20 421.23 L333.60 421.33 L334.00 421.39 L334.40 421.84 L334.80 421.32 L335.20 421.41 L335.60 421.98 L336.00 421.23 L336.40 421.48 L336.80 421.09 L337.20 421.42 L337.60 421.74 L338.00 421.85 L338.40 421.07 L338.80 420.73 L339.20 421.65 L339.60 421.99 L340.00 421.28 L340.40 421.57 L340.80 421.50 L341.20 420.84 L341.60 420.69 L342.00 421.47 L342.40 421.64 L342.80 421.03 L343.20 421.39 L343.60 421.25 L344.00 421.20 L344.40 421.10 L344.80 421.84 L345.20 421.49 L345.60 421.42 L346.00 421.34 L346.40 421.60 L346.80 421.33 L347.20 421.53 L347.60 421.25 L348.00 421.59 L348.40 421.39 L348.80 421.65 L349.20 421.01 L349.60 421.24 L350.00 421.10 L350.40 421.94 L350.80 421.29 L351.20 421.45 L351.60 420.95 L352.00 421.18 L352.40 420.95 L352.80 421.43 L353.20 421.17 L353.60 421.92 L354.00 421.19 L354.40 421.76 L354.80 421.41 L355.20 421.61 L355.60 421.18 L356.00 421.44 L356.40 421.40 L356.80 421.21 L357.20 421.62 L357.60 421.00 L358.00 421.40 L358.40 421.39 L358.80 421.48 L359.20 421.10 L359.60 421.65 L360.00 421.18 L360.40 421.27 L360.80 421.16 L361.20 421.33 L361.60 421.56 L362.00 422.32 L362.40 420.66 L362.80 421.73 L363.20 421.72 L363.60 421.89 L364.00 421.53 L364.40 421.59 L364.80 421.99 L365.20 421.49 L365.60 421.51 L366.00 421.46 L366.40 421.59 L366.80 421.99 L367.20 421.19 L367.60 421.81 L368.00 420.77 L368.40 421.60 L368.80 421.33 L369.20 421.85 L369.60 421.70 L370.00 421.70 L370.40 421.63 L370.80 421.56 L371.20 420.85 L371.60 421.55 L372.00 421.05 L372.40 421.77 L372.80 421.25 L373.20 421.46 L373.60 421.30 L374.00 421.47 L374.40 421.51 L374.80 421.60 L375.20 421.07 L375.60 421.91 L376.00 421.12 L376.40 421.39 L376.80 420.63 L377.20 421.53 L377.60 421.73 L378.00 421.80 L378.40 421.60 L378.80 421.58 L379.20 421.24 L379.60 421.32 L380.00 421.38 L380.40 421.48 L380.80 421.11 L381.20 421.33 L381.60 421.60 L382.00 421.49 L382.40 421.40 L382.80 421.19 L383.20 421.52 L383.60 421.49 L384.00 421.88 L384.40 421.44 L384.80 421.73 L385.20 421.04 L385.60 421.97 L386.00 421.02 L386.40 421.41 L386.80 421.32 L387.20 421.25 L387.60 421.33 L388.00 421.26 L388.40 421.45 L388.80 421.50 L389.20 421.76 L389.60 421.79 L390.00 421.95 L390.40 421.56 L390.80 421.18 L391.20 422.12 L391.60 421.59 L392.00 420.66 L392.40 421.65 L392.80 421.38 L393.20 421.21 L393.60 421.24 L394.00 421.44 L394.40 421.18 L394.80 421.49 L395.20 421.37 L395.60 421.37 L396.00 421.56 L396.40 421.52 L396.80 421.91 L397.20 421.57 L397.60 421.14 L398.00 421.43 L398.40 421.94 L398.80 421.94 L399.20 421.19 L399.60 421.63 L400.00 421.29 L400.40 421.35 L400.80 420.97 L401.20 420.94 L401.60 421.34 L402.00 421.50 L402.40 421.58 L402.80 421.17 L403.20 421.36 L403.60 421.46 L404.00 421.38 L404.40 420.59 L404.80 421.11 L405.20 421.45 L405.60 421.60 L406.00 421.15 L406.40 421.73 L406.80 420.53 L407.20 421.80 L407.60 421.20 L408.00 421.42 L408.40 421.13 L408.80 421.06 L409.20 421.32 L409.60 421.43 L410.00 421.07 L410.40 421.65 L410.80 421.28 L411.20 421.44 L411.60 421.19 L412.00 421.21 L412.40 421.40 L412.80 421.00 L413.20 421.61 L413.60 421.02 L414.00 421.53 L414.40 421.06 L414.80 421.34 L415.20 421.19 L415.60 421.77 L416.00 421.92 L416.40 421.28 L416.80 421.54 L417.20 421.48 L417.60 421.63 L418.00 421.72 L418.40 421.96 L418.80 421.43 L419.20 420.87 L419.60 421.62 L420.00 421.29 L420.40 421.37 L420.80 421.78 L421.20 421.88 L421.60 421.44 L422.00 421.79 L422.40 421.55 L422.80 421.66 L423.20 421.38 L423.60 421.82 L424.00 421.24 L424.40 421.44 L424.80 421.70 L425.20 421.13 L425.60 421.53 L426.00 421.56 L426.40 421.66 L426.80 421.94 L427.20 420.78 L427.60 421.71 L428.00 421.53 L428.40 421.77 L428.80 421.63 L429.20 421.22 L429.60 421.25 L430.00 421.12 L430.40 421.79 L430.80 421.23 L431.20 421.51 L431.60 421.34 L432.00 420.80 L432.40 421.31 L432.80 421.36 L433.20 421.85 L433.60 421.34 L434.00 421.07 L434.40 421.24 L434.80 421.66 L435.20 421.59 L435.60 421.57 L436.00 421.61 L436.40 421.17 L436.80 421.69 L437.20 421.52 L437.60 420.78 L438.00 421.23 L438.40 421.81 L438.80 421.25 L439.20 421.30 L439.60 421.43 L440.00 421.46 L440.40 421.41 L440.80 421.59 L441.20 421.19 L441.60 420.98 L442.00 421.42 L442.40 421.40 L442.80 421.72 L443.20 422.06 L443.60 421.58 L444.00 421.70 L444.40 421.95 L444.80 421.68 L445.20 421.64 L445.60 421.16 L446.00 421.32 L446.40 421.21 L446.80 421.33 L447.20 421.75 L447.60 421.64 L448.00 421.44 L448.40 420.78 L448.80 421.61 L449.20 421.60 L449.60 421.08 L450.00 421.46 L450.40 421.34 L450.80 421.62 L451.20 420.80 L451.60 421.04 L452.00 421.82 L452.40 421.11 L452.80 421.18 L453.20 421.29 L453.60 421.49 L454.00 421.82 L454.40 421.40 L454.80 421.70 L455.20 421.55 L455.60 421.25 L456.00 421.92 L456.40 421.74 L456.80 421.32 L457.20 421.37 L457.60 421.11 L458.00 420.90 L458.40 421.38 L458.80 421.75 L459.20 420.55 L459.60 421.24 L460.00 422.06 L460.40 421.92 L460.80 421.16 L461.20 421.24 L461.60 421.87 L462.00 421.13 L462.40 421.43 L462.80 421.19 L463.20 421.59 L463.60 421.52 L464.00 422.00 L464.40 421.14 L464.80 420.96 L465.20 421.34 L465.60 421.54 L466.00 421.35 L466.40 422.21 L466.80 421.29 L467.20 421.38 L467.60 421.73 L468.00 421.98 L468.40 421.51 L468.80 421.66 L469.20 421.06 L469.60 421.15 L470.00 421.54 L470.40 421.69 L470.80 421.62 L471.20 421.61 L471.60 421.70 L472.00 421.44 L472.40 421.35 L472.80 421.38 L473.20 421.06 L473.60 421.25 L474.00 421.22 L474.40 421.65 L474.80 422.22 L475.20 421.70 L475.60 422.08 L476.00 421.21 L476.40 421.35 L476.80 421.43 L477.20 421.84 L477.60 422.10 L478.00 421.78 L478.40 421.63 L478.80 421.56 L479.20 421.32 L479.60 421.65 L480.00 421.64 L480.40 421.51 L480.80 421.24 L481.20 421.54 L481.60 421.46 L482.00 421.25 L482.40 421.86 L482.80 421.47 L483.20 421.68 L483.60 421.15 L484.00 421.36 L484.40 421.27 L484.80 421.17 L485.20 421.53 L485.60 421.42 L486.00 421.13 L486.40 421.29 L486.80 421.51 L487.20 421.48 L487.60 422.06 L488.00 420.79 L488.40 421.76 L488.80 421.72 L489.20 421.64 L489.60 421.28 L490.00 421.27 L490.40 420.90 L490.80 421.64 L491.20 421.32 L491.60 421.32 L492.00 421.99 L492.40 421.20 L492.80 421.48 L493.20 421.69 L493.60 421.46 L494.00 421.62 L494.40 421.57 L494.80 421.58 L495.20 421.13 L495.60 421.12 L496.00 421.83 L496.40 421.66 L496.80 421.45 L497.20 421.29 L497.60 421.93 L498.00 421.39 L498.40 421.21 L498.80 421.81 L499.20 421.18 L499.60 421.39 L500.00 421.53 L500.40 421.16 L500.80 421.58 L501.20 421.58 L501.60 421.65 L502.00 421.44 L502.40 421.97 L502.80 421.49 L503.20 421.36 L503.60 421.61 L504.00 421.35 L504.40 420.76 L504.80 421.86 L505.20 420.97 L505.60 420.91 L506.00 421.60 L506.40 421.29 L506.80 421.82 L507.20 421.80 L507.60 421.82 L508.00 421.42 L508.40 421.59 L508.80 421.12 L509.20 421.71 L509.60 421.46 L510.00 421.45 L510.40 421.53 L510.80 421.50 L511.20 421.61 L511.60 421.73 L512.00 421.46 L512.40 421.34 L512.80 421.08 L513.20 421.97 L513.60 421.58 L514.00 421.37 L514.40 420.99 L514.80 421.63 L515.20 421.07 L515.60 421.54 L516.00 421.34 L516.40 421.78 L516.80 421.32 L517.20 421.11 L517.60 420.82 L518.00 421.28 L518.40 421.93 L518.80 421.52 L519.20 421.32 L519.60 421.78 L520.00 421.25 L520.40 421.73 L520.80 421.05 L521.20 421.08 L521.60 421.69 L522.00 421.02 L522.40 421.75 L522.80 421.42 L523.20 421.99 L523.60 421.26 L524.00 421.35 L524.40 421.89 L524.80 421.23 L525.20 421.49 L525.60 421.15 L526.00 421.71 L526.40 421.43 L526.80 421.11 L527.20 421.44 L527.60 421.13 L528.00 421.64 L528.40 421.09 L528.80 422.14 L529.20 422.10 L529.60 420.88 L530.00 421.57 L530.40 421.18 L530.80 421.20 L531.20 421.06 L531.60 421.88 L532.00 420.87 L532.40 421.92 L532.80 420.93 L533.20 421.69 L533.60 421.38 L534.00 421.26 L534.40 421.15 L534.80 421.32 L535.20 421.52 L535.60 421.89 L536.00 420.88 L536.40 421.52 L536.80 421.37 L537.20 421.20 L537.60 421.38 L538.00 421.41 L538.40 421.16 L538.80 421.27" fill="none" stroke="#b070e0" stroke-width="1.2" stroke-linejoin="round" stroke-linecap="round" />
</svg>
</body></html>
